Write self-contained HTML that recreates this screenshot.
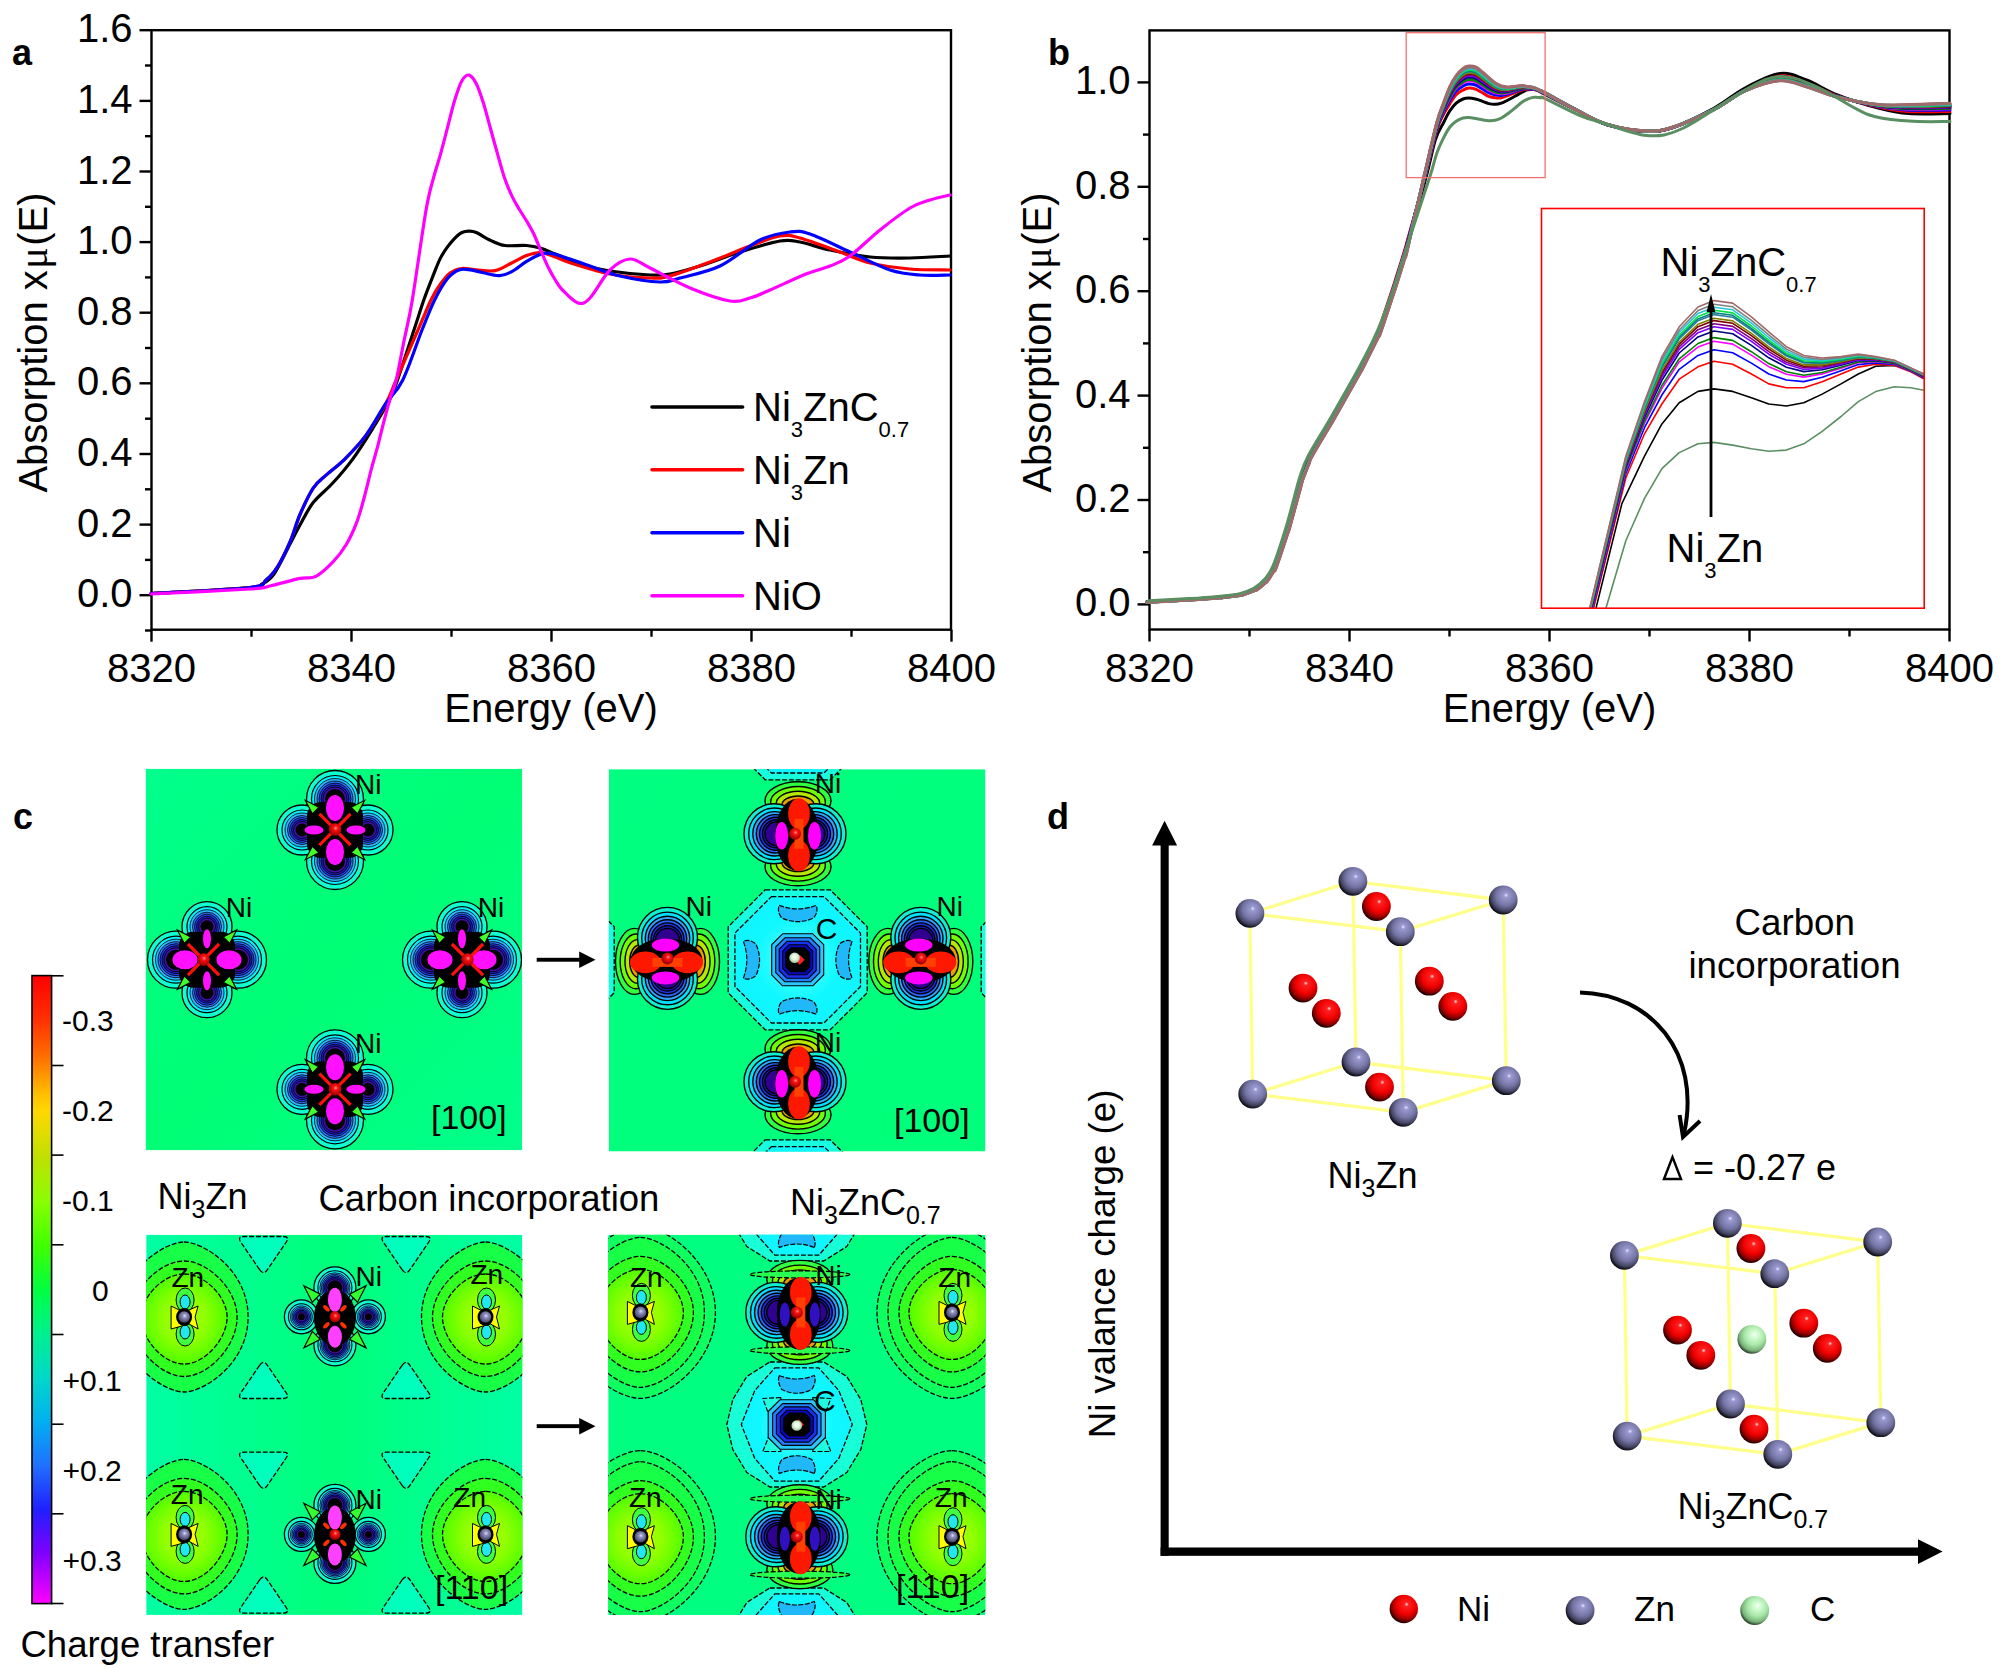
<!DOCTYPE html>
<html><head><meta charset="utf-8"><title>figure</title>
<style>html,body{margin:0;padding:0;background:#fff;overflow:hidden}svg{display:block}</style>
</head><body>
<svg width="2000" height="1669" viewBox="0 0 2000 1669" font-family="Liberation Sans, sans-serif">
<defs>
<radialGradient id="gZn" cx="0.58" cy="0.38" r="0.62" fx="0.6" fy="0.33">
  <stop offset="0" stop-color="#e8e8ff"/>
  <stop offset="0.12" stop-color="#9a9ad0"/>
  <stop offset="0.55" stop-color="#7474a4"/>
  <stop offset="0.82" stop-color="#444462"/>
  <stop offset="1" stop-color="#0c0c14"/>
</radialGradient>
<radialGradient id="gNi" cx="0.58" cy="0.38" r="0.62" fx="0.6" fy="0.33">
  <stop offset="0" stop-color="#ffe0e0"/>
  <stop offset="0.12" stop-color="#ff2020"/>
  <stop offset="0.55" stop-color="#f00000"/>
  <stop offset="0.82" stop-color="#900000"/>
  <stop offset="1" stop-color="#200000"/>
</radialGradient>
<radialGradient id="gC" cx="0.58" cy="0.38" r="0.62" fx="0.6" fy="0.33">
  <stop offset="0" stop-color="#ffffff"/>
  <stop offset="0.15" stop-color="#d8ffd8"/>
  <stop offset="0.55" stop-color="#a8e8a8"/>
  <stop offset="0.85" stop-color="#78b078"/>
  <stop offset="1" stop-color="#304830"/>
</radialGradient>

<linearGradient id="cbar" x1="0" y1="0" x2="0" y2="1">
  <stop offset="0" stop-color="#ff0000"/>
  <stop offset="0.07" stop-color="#ff3000"/>
  <stop offset="0.13" stop-color="#ff7000"/>
  <stop offset="0.19" stop-color="#ffc000"/>
  <stop offset="0.215" stop-color="#ffd800"/>
  <stop offset="0.29" stop-color="#c0e000"/>
  <stop offset="0.36" stop-color="#88ff00"/>
  <stop offset="0.43" stop-color="#40ff00"/>
  <stop offset="0.5" stop-color="#00ff40"/>
  <stop offset="0.57" stop-color="#00f090"/>
  <stop offset="0.64" stop-color="#00d8c8"/>
  <stop offset="0.71" stop-color="#00b0f0"/>
  <stop offset="0.78" stop-color="#2070ff"/>
  <stop offset="0.85" stop-color="#2020ff"/>
  <stop offset="0.92" stop-color="#8000ff"/>
  <stop offset="1" stop-color="#ff00ff"/>
</linearGradient>
<radialGradient id="redsph" cx="0.55" cy="0.4" r="0.6">
  <stop offset="0" stop-color="#ff9090"/>
  <stop offset="0.3" stop-color="#ff1010"/>
  <stop offset="1" stop-color="#900000"/>
</radialGradient>
<radialGradient id="znsph" cx="0.55" cy="0.4" r="0.6">
  <stop offset="0" stop-color="#e0e0ff"/>
  <stop offset="0.3" stop-color="#9090c0"/>
  <stop offset="1" stop-color="#404060"/>
</radialGradient>
<radialGradient id="csph" cx="0.5" cy="0.45" r="0.6">
  <stop offset="0" stop-color="#ffffff"/>
  <stop offset="0.4" stop-color="#e0ffe0"/>
  <stop offset="1" stop-color="#90b090"/>
</radialGradient>
<radialGradient id="znhalo" cx="0.5" cy="0.5" r="0.5">
  <stop offset="0" stop-color="#b0ff00"/>
  <stop offset="0.5" stop-color="#90ff00"/>
  <stop offset="1" stop-color="#50ff00"/>
</radialGradient>
<radialGradient id="chalo" cx="0.5" cy="0.5" r="0.55">
  <stop offset="0" stop-color="#60ffff"/>
  <stop offset="0.6" stop-color="#10f8ff"/>
  <stop offset="1" stop-color="#10f4ff"/>
</radialGradient>
<linearGradient id="bgTL" x1="0" y1="0" x2="1" y2="1">
  <stop offset="0" stop-color="#00ff8c"/>
  <stop offset="0.5" stop-color="#00ff74"/>
  <stop offset="1" stop-color="#00ff8c"/>
</linearGradient>
<linearGradient id="bgTR" x1="0" y1="0" x2="1" y2="1">
  <stop offset="0" stop-color="#00ff80"/>
  <stop offset="1" stop-color="#00ff7a"/>
</linearGradient>
<linearGradient id="bgBL" x1="0" y1="0" x2="1" y2="0">
  <stop offset="0" stop-color="#00ffa4"/>
  <stop offset="0.5" stop-color="#00ff7a"/>
  <stop offset="1" stop-color="#00ffa4"/>
</linearGradient>
<linearGradient id="bgBR" x1="0" y1="0" x2="1" y2="0">
  <stop offset="0" stop-color="#00ff80"/>
  <stop offset="1" stop-color="#00ff80"/>
</linearGradient>
<clipPath id="cTL"><rect x="145.6" y="768.7" width="376.5" height="381.5"/></clipPath>
<clipPath id="cTR"><rect x="608.8" y="769.2" width="376.6" height="382.3"/></clipPath>
<clipPath id="cBL"><rect x="146.2" y="1234.8" width="376.1" height="380.1"/></clipPath>
<clipPath id="cBR"><rect x="608.2" y="1234.8" width="377.2" height="380.2"/></clipPath>
</defs>
<rect width="2000" height="1669" fill="#fff"/>
<rect x="151.5" y="30.2" width="799.5" height="599.5" fill="none" stroke="#000" stroke-width="2.4"/>
<line x1="139.5" y1="595.2" x2="151.5" y2="595.2" stroke="#000" stroke-width="2.4"/>
<line x1="139.5" y1="524.6" x2="151.5" y2="524.6" stroke="#000" stroke-width="2.4"/>
<line x1="139.5" y1="454.0" x2="151.5" y2="454.0" stroke="#000" stroke-width="2.4"/>
<line x1="139.5" y1="383.3" x2="151.5" y2="383.3" stroke="#000" stroke-width="2.4"/>
<line x1="139.5" y1="312.7" x2="151.5" y2="312.7" stroke="#000" stroke-width="2.4"/>
<line x1="139.5" y1="242.1" x2="151.5" y2="242.1" stroke="#000" stroke-width="2.4"/>
<line x1="139.5" y1="171.5" x2="151.5" y2="171.5" stroke="#000" stroke-width="2.4"/>
<line x1="139.5" y1="100.9" x2="151.5" y2="100.9" stroke="#000" stroke-width="2.4"/>
<line x1="139.5" y1="30.2" x2="151.5" y2="30.2" stroke="#000" stroke-width="2.4"/>
<line x1="145.0" y1="630.5" x2="151.5" y2="630.5" stroke="#000" stroke-width="2.4"/>
<line x1="145.0" y1="559.9" x2="151.5" y2="559.9" stroke="#000" stroke-width="2.4"/>
<line x1="145.0" y1="489.3" x2="151.5" y2="489.3" stroke="#000" stroke-width="2.4"/>
<line x1="145.0" y1="418.7" x2="151.5" y2="418.7" stroke="#000" stroke-width="2.4"/>
<line x1="145.0" y1="348.0" x2="151.5" y2="348.0" stroke="#000" stroke-width="2.4"/>
<line x1="145.0" y1="277.4" x2="151.5" y2="277.4" stroke="#000" stroke-width="2.4"/>
<line x1="145.0" y1="206.8" x2="151.5" y2="206.8" stroke="#000" stroke-width="2.4"/>
<line x1="145.0" y1="136.2" x2="151.5" y2="136.2" stroke="#000" stroke-width="2.4"/>
<line x1="145.0" y1="65.5" x2="151.5" y2="65.5" stroke="#000" stroke-width="2.4"/>
<line x1="151.5" y1="629.7" x2="151.5" y2="641.7" stroke="#000" stroke-width="2.4"/>
<line x1="351.5" y1="629.7" x2="351.5" y2="641.7" stroke="#000" stroke-width="2.4"/>
<line x1="551.5" y1="629.7" x2="551.5" y2="641.7" stroke="#000" stroke-width="2.4"/>
<line x1="751.5" y1="629.7" x2="751.5" y2="641.7" stroke="#000" stroke-width="2.4"/>
<line x1="951.5" y1="629.7" x2="951.5" y2="641.7" stroke="#000" stroke-width="2.4"/>
<line x1="251.5" y1="629.7" x2="251.5" y2="636.7" stroke="#000" stroke-width="2.4"/>
<line x1="451.5" y1="629.7" x2="451.5" y2="636.7" stroke="#000" stroke-width="2.4"/>
<line x1="651.5" y1="629.7" x2="651.5" y2="636.7" stroke="#000" stroke-width="2.4"/>
<line x1="851.5" y1="629.7" x2="851.5" y2="636.7" stroke="#000" stroke-width="2.4"/>
<text x="132.5" y="607.2" font-size="40" text-anchor="end">0.0</text>
<text x="132.5" y="536.6" font-size="40" text-anchor="end">0.2</text>
<text x="132.5" y="466.0" font-size="40" text-anchor="end">0.4</text>
<text x="132.5" y="395.3" font-size="40" text-anchor="end">0.6</text>
<text x="132.5" y="324.7" font-size="40" text-anchor="end">0.8</text>
<text x="132.5" y="254.1" font-size="40" text-anchor="end">1.0</text>
<text x="132.5" y="183.5" font-size="40" text-anchor="end">1.2</text>
<text x="132.5" y="112.9" font-size="40" text-anchor="end">1.4</text>
<text x="132.5" y="42.2" font-size="40" text-anchor="end">1.6</text>
<text x="151.5" y="682.0" font-size="40" text-anchor="middle">8320</text>
<text x="351.5" y="682.0" font-size="40" text-anchor="middle">8340</text>
<text x="551.5" y="682.0" font-size="40" text-anchor="middle">8360</text>
<text x="751.5" y="682.0" font-size="40" text-anchor="middle">8380</text>
<text x="951.5" y="682.0" font-size="40" text-anchor="middle">8400</text>
<text x="551" y="721.5" font-size="40" text-anchor="middle">Energy (eV)</text>
<text transform="translate(46.6,342.5) rotate(-90)" font-size="40" text-anchor="middle">Absorption x<tspan dx="1.5" font-family="Liberation Serif, serif">&#956;</tspan><tspan dx="1.5">(E)</tspan></text>
<text x="12" y="64.5" font-size="36" font-weight="bold">a</text>
<path d="M151.0,593.5 C167.5,592.5 231.5,589.1 250.0,587.5 C268.5,585.9 258.0,586.2 262.0,584.0 C266.0,581.8 269.3,580.7 274.0,574.0 C278.7,567.3 285.7,552.2 290.0,544.0 C294.3,535.8 296.1,531.9 300.0,525.0 C303.9,518.1 307.7,509.6 313.2,502.6 C318.7,495.6 326.4,490.1 333.0,482.8 C339.6,475.6 346.1,468.1 352.7,459.1 C359.3,450.1 366.4,438.7 372.5,428.8 C378.6,418.9 385.4,407.9 389.6,399.8 C393.8,391.7 393.4,391.6 397.5,380.0 C401.6,368.4 409.6,343.3 414.0,330.0 C418.4,316.7 420.6,309.1 423.8,300.0 C427.0,290.9 430.4,282.5 433.1,275.6 C435.9,268.7 437.9,263.2 440.3,258.4 C442.7,253.6 445.1,250.2 447.5,246.9 C449.9,243.6 452.3,240.7 454.7,238.3 C457.1,235.9 459.5,233.7 461.9,232.5 C464.3,231.3 466.7,231.1 469.1,231.1 C471.5,231.1 472.7,230.9 476.3,232.5 C479.9,234.1 485.8,238.2 490.6,240.4 C495.4,242.6 499.0,244.7 505.0,245.5 C511.0,246.3 520.6,245.0 526.6,245.5 C532.6,246.0 536.2,246.9 541.0,248.3 C545.8,249.7 548.8,251.5 555.3,254.1 C561.8,256.7 570.9,261.2 580.0,264.0 C589.1,266.8 598.3,269.2 610.0,271.0 C621.7,272.8 640.0,274.5 650.0,275.0 C660.0,275.5 661.7,275.5 670.0,274.0 C678.3,272.5 688.3,269.7 700.0,266.0 C711.7,262.3 726.7,256.2 740.0,252.0 C753.3,247.8 770.0,242.7 780.0,241.0 C790.0,239.3 791.7,240.5 800.0,242.0 C808.3,243.5 818.3,247.5 830.0,250.0 C841.7,252.5 856.7,255.7 870.0,257.0 C883.3,258.3 896.7,258.2 910.0,258.0 C923.3,257.8 943.3,256.3 950.0,256.0" fill="none" stroke="#000000" stroke-width="3.2" stroke-linejoin="round" stroke-linecap="round" />
<path d="M151.0,593.5 C167.5,592.5 230.8,589.8 250.0,587.5 C269.2,585.2 261.3,583.6 266.0,580.0 C270.7,576.4 274.0,572.3 278.0,566.0 C282.0,559.7 286.3,550.6 290.0,542.0 C293.7,533.4 296.1,523.5 300.0,514.5 C303.9,505.5 308.8,494.7 313.2,488.1 C317.6,481.5 321.1,479.7 326.4,474.9 C331.7,470.1 338.2,465.7 344.8,459.1 C351.4,452.5 359.1,444.6 365.9,435.4 C372.7,426.2 380.6,412.9 385.7,403.7 C390.8,394.5 390.8,392.3 396.2,380.0 C401.6,367.7 412.2,343.3 418.0,330.0 C423.8,316.7 427.3,307.6 431.0,300.0 C434.7,292.4 437.1,288.8 440.3,284.3 C443.5,279.8 446.8,275.4 450.4,272.8 C454.0,270.2 457.6,269.0 461.9,268.5 C466.2,268.0 470.8,269.5 476.3,269.9 C481.8,270.2 488.9,271.8 494.9,270.6 C500.9,269.4 506.9,265.2 512.2,262.7 C517.5,260.2 521.8,257.2 526.6,255.5 C531.4,253.8 536.2,252.3 541.0,252.6 C545.8,252.8 550.5,255.3 555.3,257.0 C560.1,258.7 560.9,259.9 570.0,262.7 C579.1,265.5 596.7,271.4 610.0,274.0 C623.3,276.6 640.0,277.7 650.0,278.0 C660.0,278.3 660.0,278.7 670.0,276.0 C680.0,273.3 696.7,267.0 710.0,262.0 C723.3,257.0 738.3,250.3 750.0,246.0 C761.7,241.7 771.7,237.3 780.0,236.0 C788.3,234.7 790.0,235.3 800.0,238.0 C810.0,240.7 828.3,247.8 840.0,252.0 C851.7,256.2 858.3,260.2 870.0,263.0 C881.7,265.8 896.7,267.8 910.0,269.0 C923.3,270.2 943.3,269.8 950.0,270.0" fill="none" stroke="#ff0000" stroke-width="3.2" stroke-linejoin="round" stroke-linecap="round" />
<path d="M151.0,593.5 C167.5,592.5 230.8,589.8 250.0,587.5 C269.2,585.2 261.3,583.6 266.0,580.0 C270.7,576.4 274.0,572.3 278.0,566.0 C282.0,559.7 286.3,550.6 290.0,542.0 C293.7,533.4 296.1,523.5 300.0,514.5 C303.9,505.5 308.8,494.7 313.2,488.1 C317.6,481.5 321.1,479.7 326.4,474.9 C331.7,470.1 338.2,465.7 344.8,459.1 C351.4,452.5 359.1,444.6 365.9,435.4 C372.7,426.2 379.5,412.9 385.7,403.7 C391.9,394.5 396.8,392.3 402.8,380.0 C408.9,367.7 416.7,343.3 422.0,330.0 C427.3,316.7 430.4,308.6 434.6,300.0 C438.9,291.4 443.4,283.5 447.5,278.5 C451.6,273.5 455.2,271.3 459.0,269.9 C462.8,268.5 466.4,269.4 470.5,269.9 C474.6,270.4 478.6,271.9 483.4,272.8 C488.2,273.8 494.5,275.9 499.3,275.6 C504.1,275.4 507.7,273.7 512.2,271.3 C516.8,268.9 521.8,264.2 526.6,261.3 C531.4,258.4 536.9,255.4 541.0,254.1 C545.1,252.8 546.2,252.6 551.0,253.4 C555.8,254.2 563.5,257.0 570.0,259.1 C576.5,261.2 581.7,263.2 590.0,266.0 C598.3,268.8 608.3,273.3 620.0,276.0 C631.7,278.7 650.0,281.7 660.0,282.0 C670.0,282.3 670.0,280.7 680.0,278.0 C690.0,275.3 706.7,272.3 720.0,266.0 C733.3,259.7 748.3,245.7 760.0,240.0 C771.7,234.3 781.7,233.0 790.0,232.0 C798.3,231.0 800.0,230.7 810.0,234.0 C820.0,237.3 836.7,246.0 850.0,252.0 C863.3,258.0 878.3,266.2 890.0,270.0 C901.7,273.8 910.0,274.2 920.0,275.0 C930.0,275.8 945.0,275.0 950.0,275.0" fill="none" stroke="#0000ff" stroke-width="3.2" stroke-linejoin="round" stroke-linecap="round" />
<path d="M151.0,594.0 C167.5,593.2 230.2,590.3 250.0,589.0 C269.8,587.7 261.7,587.8 270.0,586.0 C278.3,584.2 292.4,580.0 300.0,578.4 C307.6,576.8 310.3,579.1 315.8,576.4 C321.3,573.6 327.9,567.2 333.0,561.9 C338.1,556.6 342.2,551.4 346.1,544.8 C350.1,538.2 353.6,530.5 356.7,522.4 C359.8,514.3 362.2,504.8 364.6,496.0 C367.0,487.2 369.0,478.0 371.2,469.6 C373.4,461.2 375.6,454.2 377.8,445.9 C380.0,437.5 382.2,427.9 384.4,419.5 C386.6,411.1 389.0,402.4 391.0,395.8 C393.0,389.2 394.0,389.1 396.2,380.0 C398.4,370.9 401.3,354.3 404.0,341.0 C406.7,327.7 408.7,321.7 412.3,300.0 C415.9,278.3 422.4,231.1 425.9,211.0 C429.4,190.9 430.7,188.7 433.1,179.3 C435.5,170.0 437.9,163.5 440.3,154.9 C442.7,146.3 445.1,136.7 447.5,127.6 C449.9,118.5 452.3,108.1 454.7,100.3 C457.1,92.5 459.5,85.0 461.9,80.8 C464.3,76.6 466.7,74.6 469.1,75.1 C471.5,75.6 473.9,79.0 476.3,83.7 C478.7,88.4 481.0,95.5 483.4,103.1 C485.8,110.6 488.2,120.4 490.6,129.0 C493.0,137.6 495.4,146.5 497.8,154.9 C500.2,163.3 502.6,172.4 505.0,179.3 C507.4,186.2 509.8,191.6 512.2,196.6 C514.6,201.6 517.0,205.4 519.4,209.5 C521.8,213.6 524.2,216.9 526.6,221.0 C529.0,225.1 531.4,229.0 533.8,234.0 C536.2,239.0 538.6,245.7 541.0,251.2 C543.4,256.7 545.7,262.2 548.1,267.0 C550.5,271.8 552.9,276.2 555.3,280.0 C557.7,283.8 558.7,286.2 562.5,290.0 C566.3,293.8 573.4,301.7 578.0,303.0 C582.6,304.3 584.7,303.5 590.0,298.0 C595.3,292.5 603.3,276.5 610.0,270.0 C616.7,263.5 623.3,259.3 630.0,259.0 C636.7,258.7 640.0,263.2 650.0,268.0 C660.0,272.8 676.7,282.5 690.0,288.0 C703.3,293.5 720.0,299.3 730.0,301.0 C740.0,302.7 743.3,299.8 750.0,298.0 C756.7,296.2 760.7,294.0 770.0,290.0 C779.3,286.0 796.0,278.0 806.0,274.0 C816.0,270.0 822.7,269.0 830.0,266.0 C837.3,263.0 841.7,262.0 850.0,256.0 C858.3,250.0 870.0,238.0 880.0,230.0 C890.0,222.0 901.7,213.0 910.0,208.0 C918.3,203.0 923.3,202.2 930.0,200.0 C936.7,197.8 946.7,195.8 950.0,195.0" fill="none" stroke="#ff00ff" stroke-width="3.2" stroke-linejoin="round" stroke-linecap="round" />
<line x1="652" y1="407.0" x2="742.6" y2="407.0" stroke="#000" stroke-width="3.6" stroke-linecap="round"/>
<line x1="652" y1="469.8" x2="742.6" y2="469.8" stroke="#f00" stroke-width="3.6" stroke-linecap="round"/>
<line x1="652" y1="532.8" x2="742.6" y2="532.8" stroke="#00f" stroke-width="3.6" stroke-linecap="round"/>
<line x1="652" y1="595.7" x2="742.6" y2="595.7" stroke="#f0f" stroke-width="3.6" stroke-linecap="round"/>
<text x="753.0" y="421.0" font-size="40" text-anchor="start" ><tspan>Ni</tspan><tspan font-size="22" dy="15.8">3</tspan><tspan dy="-15.8">ZnC</tspan><tspan font-size="22" dy="15.8">0.7</tspan></text>
<text x="753.0" y="484.0" font-size="40" text-anchor="start" ><tspan>Ni</tspan><tspan font-size="22" dy="15.8">3</tspan><tspan dy="-15.8">Zn</tspan></text>
<text x="753" y="547" font-size="40">Ni</text>
<text x="753" y="610" font-size="40">NiO</text>
<rect x="1149.5" y="30.4" width="800.0" height="599.1" fill="none" stroke="#000" stroke-width="2.4"/>
<line x1="1137.5" y1="604.4" x2="1149.5" y2="604.4" stroke="#000" stroke-width="2.4"/>
<line x1="1137.5" y1="500.0" x2="1149.5" y2="500.0" stroke="#000" stroke-width="2.4"/>
<line x1="1137.5" y1="395.6" x2="1149.5" y2="395.6" stroke="#000" stroke-width="2.4"/>
<line x1="1137.5" y1="291.2" x2="1149.5" y2="291.2" stroke="#000" stroke-width="2.4"/>
<line x1="1137.5" y1="186.8" x2="1149.5" y2="186.8" stroke="#000" stroke-width="2.4"/>
<line x1="1137.5" y1="82.4" x2="1149.5" y2="82.4" stroke="#000" stroke-width="2.4"/>
<line x1="1143.0" y1="552.2" x2="1149.5" y2="552.2" stroke="#000" stroke-width="2.4"/>
<line x1="1143.0" y1="447.8" x2="1149.5" y2="447.8" stroke="#000" stroke-width="2.4"/>
<line x1="1143.0" y1="343.4" x2="1149.5" y2="343.4" stroke="#000" stroke-width="2.4"/>
<line x1="1143.0" y1="239.0" x2="1149.5" y2="239.0" stroke="#000" stroke-width="2.4"/>
<line x1="1143.0" y1="134.6" x2="1149.5" y2="134.6" stroke="#000" stroke-width="2.4"/>
<line x1="1149.5" y1="629.5" x2="1149.5" y2="641.5" stroke="#000" stroke-width="2.4"/>
<line x1="1349.5" y1="629.5" x2="1349.5" y2="641.5" stroke="#000" stroke-width="2.4"/>
<line x1="1549.5" y1="629.5" x2="1549.5" y2="641.5" stroke="#000" stroke-width="2.4"/>
<line x1="1749.5" y1="629.5" x2="1749.5" y2="641.5" stroke="#000" stroke-width="2.4"/>
<line x1="1949.5" y1="629.5" x2="1949.5" y2="641.5" stroke="#000" stroke-width="2.4"/>
<line x1="1249.5" y1="629.5" x2="1249.5" y2="636.5" stroke="#000" stroke-width="2.4"/>
<line x1="1449.5" y1="629.5" x2="1449.5" y2="636.5" stroke="#000" stroke-width="2.4"/>
<line x1="1649.5" y1="629.5" x2="1649.5" y2="636.5" stroke="#000" stroke-width="2.4"/>
<line x1="1849.5" y1="629.5" x2="1849.5" y2="636.5" stroke="#000" stroke-width="2.4"/>
<text x="1130.5" y="616.4" font-size="40" text-anchor="end">0.0</text>
<text x="1130.5" y="512.0" font-size="40" text-anchor="end">0.2</text>
<text x="1130.5" y="407.6" font-size="40" text-anchor="end">0.4</text>
<text x="1130.5" y="303.2" font-size="40" text-anchor="end">0.6</text>
<text x="1130.5" y="198.8" font-size="40" text-anchor="end">0.8</text>
<text x="1130.5" y="94.4" font-size="40" text-anchor="end">1.0</text>
<text x="1149.5" y="682.0" font-size="40" text-anchor="middle">8320</text>
<text x="1349.5" y="682.0" font-size="40" text-anchor="middle">8340</text>
<text x="1549.5" y="682.0" font-size="40" text-anchor="middle">8360</text>
<text x="1749.5" y="682.0" font-size="40" text-anchor="middle">8380</text>
<text x="1949.5" y="682.0" font-size="40" text-anchor="middle">8400</text>
<text x="1549.5" y="721.5" font-size="40" text-anchor="middle">Energy (eV)</text>
<text transform="translate(1051,342.5) rotate(-90)" font-size="40" text-anchor="middle">Absorption x<tspan dx="1.5" font-family="Liberation Serif, serif">&#956;</tspan><tspan dx="1.5">(E)</tspan></text>
<text x="1048" y="64.5" font-size="36" font-weight="bold">b</text>
<path d="M1150.8,601.4 C1157.5,601.0 1179.1,599.9 1190.8,599.2 C1202.5,598.5 1212.5,597.8 1220.8,597.0 C1229.1,596.2 1235.0,595.8 1240.8,594.5 C1246.6,593.2 1251.6,591.4 1255.8,589.0 C1260.0,586.6 1262.9,584.1 1266.1,580.4 C1269.3,576.7 1271.1,575.9 1274.8,567.0 C1278.5,558.1 1283.8,541.8 1288.3,527.0 C1292.8,512.2 1297.9,490.2 1301.6,478.4 C1305.3,466.6 1305.2,466.0 1310.4,456.0 C1315.6,446.0 1324.1,433.2 1332.6,418.5 C1341.1,403.8 1353.6,381.9 1361.4,367.5 C1369.2,353.1 1373.7,345.7 1379.2,332.0 C1384.8,318.3 1390.3,299.2 1394.7,285.5 C1399.1,271.8 1400.6,268.0 1405.8,250.0 C1411.0,232.0 1421.1,196.0 1426.0,177.6 C1430.9,159.2 1432.5,148.9 1435.4,139.7 C1438.3,130.5 1441.2,127.3 1443.6,122.5 C1446.0,117.7 1447.8,114.0 1449.9,110.8 C1452.0,107.6 1454.0,105.1 1456.2,103.1 C1458.4,101.1 1460.9,99.8 1463.0,99.0 C1465.1,98.2 1466.7,98.1 1468.8,98.1 C1470.9,98.1 1473.3,98.5 1475.6,99.0 C1477.9,99.5 1480.2,100.5 1482.4,101.3 C1484.6,102.1 1486.6,103.1 1488.7,103.6 C1490.8,104.1 1493.0,104.4 1495.1,104.3 C1497.2,104.2 1499.2,103.8 1501.4,103.1 C1503.6,102.4 1505.8,101.1 1508.1,100.0 C1510.3,98.9 1512.7,97.5 1514.9,96.3 C1517.1,95.1 1519.1,93.8 1521.2,92.7 C1523.3,91.6 1525.3,90.4 1527.5,89.9 C1529.7,89.4 1532.2,89.4 1534.3,89.6 C1536.4,89.8 1538.4,90.4 1540.2,90.9 C1542.0,91.4 1538.4,89.2 1545.0,92.7 C1551.6,96.2 1569.5,106.2 1580.0,111.6 C1590.5,117.0 1596.6,121.8 1607.7,125.0 C1618.8,128.2 1635.7,130.7 1646.6,131.0 C1657.5,131.3 1662.0,130.8 1673.3,127.0 C1684.6,123.2 1702.3,114.5 1714.3,108.0 C1726.2,101.5 1734.1,93.7 1745.0,88.0 C1755.9,82.3 1769.7,74.9 1779.9,73.6 C1790.2,72.3 1796.9,76.4 1806.5,80.0 C1816.1,83.6 1825.3,90.3 1837.3,95.0 C1849.3,99.7 1866.3,104.9 1878.3,108.0 C1890.2,111.1 1897.0,112.7 1909.0,113.6 C1921.0,114.5 1943.2,113.6 1950.0,113.6" fill="none" stroke="#000000" stroke-width="3.0" stroke-linejoin="round" stroke-linecap="round" />
<path d="M1149.7,601.4 C1149.8,601.4 1143.3,601.8 1150.0,601.4 C1156.7,601.0 1182.7,599.6 1189.7,599.2 C1196.7,598.8 1186.8,599.4 1191.8,599.0 C1196.8,598.7 1214.6,597.4 1219.7,597.0 C1224.8,596.6 1218.9,597.1 1222.2,596.7 C1225.5,596.3 1236.4,595.0 1239.7,594.5 C1243.0,594.0 1239.7,594.5 1242.2,593.6 C1244.7,592.7 1252.2,590.1 1254.7,589.0 C1257.2,587.9 1255.5,588.3 1257.2,586.9 C1258.9,585.5 1263.3,582.1 1265.0,580.4 C1266.7,578.7 1266.0,578.8 1267.5,576.5 C1269.0,574.3 1272.2,569.8 1273.7,567.0 C1275.2,564.2 1274.0,566.3 1276.2,559.6 C1278.5,552.9 1285.0,534.0 1287.2,527.0 C1289.5,520.0 1287.5,526.0 1289.7,517.9 C1291.9,509.8 1298.3,486.0 1300.5,478.4 C1302.7,470.8 1301.5,475.8 1303.0,472.0 C1304.5,468.3 1307.8,459.4 1309.3,456.0 C1310.8,452.6 1308.1,458.0 1311.8,451.8 C1315.5,445.5 1327.8,424.8 1331.5,418.5 C1335.2,412.2 1329.2,422.6 1334.0,414.1 C1338.8,405.6 1355.5,376.1 1360.3,367.5 C1365.1,358.9 1359.8,368.4 1362.8,362.5 C1365.8,356.6 1375.1,338.3 1378.1,332.0 C1381.1,325.7 1378.0,332.2 1380.6,324.5 C1383.2,316.8 1391.0,293.3 1393.6,285.5 C1396.2,277.7 1394.3,283.4 1396.1,277.5 C1398.0,271.6 1402.9,256.1 1404.7,250.0 C1406.5,243.9 1404.0,252.4 1407.2,241.1 C1410.4,229.9 1420.7,193.2 1423.7,182.6 C1426.7,172.0 1422.9,186.3 1425.1,177.6 C1427.3,168.9 1433.7,140.9 1436.8,130.4 C1439.9,119.9 1441.4,118.9 1443.6,114.4 C1445.8,109.9 1447.8,106.9 1449.9,103.6 C1452.0,100.3 1454.0,96.8 1456.2,94.6 C1458.4,92.3 1460.9,91.2 1463.0,90.1 C1465.1,89.0 1466.7,88.2 1468.8,88.1 C1470.9,87.9 1473.3,88.4 1475.6,89.2 C1477.9,90.0 1480.2,91.5 1482.4,92.7 C1484.6,93.9 1486.6,95.5 1488.7,96.3 C1490.8,97.1 1493.0,97.5 1495.1,97.7 C1497.2,97.9 1499.2,98.1 1501.4,97.7 C1503.6,97.3 1505.8,96.3 1508.1,95.5 C1510.3,94.7 1512.7,93.6 1514.9,92.7 C1517.1,91.8 1519.1,90.8 1521.2,90.2 C1523.3,89.6 1525.3,89.3 1527.5,89.2 C1529.7,89.1 1532.2,89.1 1534.3,89.6 C1536.4,90.0 1538.4,91.1 1540.2,91.9 C1542.0,92.7 1538.4,91.2 1545.0,94.5 C1551.6,97.8 1569.5,106.9 1580.0,112.0 C1590.5,117.1 1596.6,121.8 1607.7,125.0 C1618.8,128.2 1635.7,131.1 1646.6,131.5 C1657.5,131.9 1662.0,131.2 1673.3,127.5 C1684.6,123.8 1702.3,115.2 1714.3,109.0 C1726.2,102.8 1734.1,95.5 1745.0,90.0 C1755.9,84.5 1769.7,77.2 1779.9,76.0 C1790.2,74.8 1796.9,79.7 1806.5,83.0 C1816.1,86.3 1825.3,92.0 1837.3,96.0 C1849.3,100.0 1866.3,104.4 1878.3,107.0 C1890.2,109.6 1897.0,110.8 1909.0,111.5 C1921.0,112.2 1943.2,111.5 1950.0,111.5" fill="none" stroke="#ff0000" stroke-width="3.0" stroke-linejoin="round" stroke-linecap="round" />
<path d="M1149.7,601.6 C1149.8,601.5 1143.3,601.9 1150.0,601.5 C1156.7,601.2 1182.7,599.8 1189.7,599.4 C1196.7,599.0 1186.8,599.6 1191.8,599.2 C1196.8,598.9 1214.6,597.6 1219.7,597.2 C1224.8,596.8 1218.9,597.3 1222.2,596.9 C1225.5,596.5 1236.4,595.2 1239.7,594.7 C1243.0,594.2 1239.7,594.8 1242.2,593.9 C1244.7,593.0 1252.2,590.4 1254.7,589.3 C1257.2,588.3 1255.5,588.9 1257.2,587.5 C1258.9,586.1 1263.3,582.6 1265.0,580.9 C1266.7,579.3 1266.0,579.6 1267.5,577.4 C1269.0,575.3 1272.2,570.6 1273.7,567.9 C1275.2,565.2 1274.0,567.7 1276.2,561.2 C1278.5,554.6 1285.0,535.5 1287.2,528.6 C1289.5,521.7 1287.5,527.8 1289.7,519.8 C1291.9,511.7 1298.3,488.0 1300.5,480.3 C1302.7,472.6 1301.5,477.2 1303.0,473.4 C1304.5,469.6 1307.8,460.8 1309.3,457.4 C1310.8,453.9 1308.1,459.0 1311.8,452.7 C1315.5,446.4 1327.8,425.7 1331.5,419.5 C1335.2,413.2 1329.2,423.6 1334.0,415.1 C1338.8,406.6 1355.5,377.1 1360.3,368.5 C1365.1,359.9 1359.8,369.5 1362.8,363.6 C1365.8,357.7 1375.1,339.4 1378.1,333.1 C1381.1,326.8 1378.0,333.7 1380.6,326.1 C1383.2,318.4 1391.0,294.9 1393.6,287.1 C1396.2,279.3 1394.3,285.1 1396.1,279.2 C1398.0,273.3 1402.9,257.7 1404.7,251.7 C1406.5,245.6 1404.0,254.6 1407.2,243.0 C1410.4,231.3 1420.7,192.7 1423.7,181.6 C1426.7,170.5 1422.9,185.3 1425.1,176.5 C1427.3,167.7 1433.7,139.6 1436.8,128.9 C1439.9,118.2 1441.4,116.9 1443.6,112.2 C1445.8,107.4 1447.8,103.9 1449.9,100.3 C1452.0,96.8 1454.0,93.4 1456.2,91.0 C1458.4,88.6 1460.9,87.2 1463.0,86.0 C1465.1,84.8 1466.7,84.1 1468.8,83.9 C1470.9,83.8 1473.3,84.2 1475.6,85.0 C1477.9,85.8 1480.2,87.5 1482.4,88.8 C1484.6,90.1 1486.6,91.7 1488.7,92.7 C1490.8,93.7 1493.0,94.4 1495.1,94.9 C1497.2,95.3 1499.2,95.6 1501.4,95.5 C1503.6,95.3 1505.8,94.5 1508.1,93.9 C1510.3,93.2 1512.7,92.3 1514.9,91.5 C1517.1,90.7 1519.1,89.8 1521.2,89.3 C1523.3,88.8 1525.3,88.7 1527.5,88.7 C1529.7,88.7 1532.2,88.7 1534.3,89.2 C1536.4,89.7 1538.4,90.8 1540.2,91.6 C1542.0,92.5 1538.4,90.8 1545.0,94.2 C1551.6,97.6 1569.5,106.9 1580.0,112.0 C1590.5,117.1 1596.6,121.7 1607.7,124.9 C1618.8,128.1 1635.7,131.0 1646.6,131.4 C1657.5,131.8 1662.0,131.1 1673.3,127.4 C1684.6,123.7 1702.3,115.3 1714.3,109.1 C1726.2,102.9 1734.1,95.6 1745.0,90.2 C1755.9,84.8 1769.7,78.0 1779.9,76.9 C1790.2,75.8 1796.9,80.5 1806.5,83.7 C1816.1,87.0 1825.3,92.4 1837.3,96.2 C1849.3,100.0 1866.3,104.2 1878.3,106.5 C1890.2,108.8 1897.0,109.6 1909.0,110.2 C1921.0,110.7 1943.2,110.0 1950.0,109.9" fill="none" stroke="#0000ff" stroke-width="3.0" stroke-linejoin="round" stroke-linecap="round" />
<path d="M1149.7,601.7 C1149.8,601.7 1143.3,602.0 1150.0,601.7 C1156.7,601.3 1182.7,599.9 1189.7,599.5 C1196.7,599.1 1186.8,599.7 1191.8,599.4 C1196.8,599.0 1214.6,597.7 1219.7,597.3 C1224.8,596.9 1218.9,597.5 1222.2,597.1 C1225.5,596.6 1236.4,595.4 1239.7,594.9 C1243.0,594.4 1239.7,595.0 1242.2,594.1 C1244.7,593.3 1252.2,590.6 1254.7,589.6 C1257.2,588.5 1255.5,589.2 1257.2,587.9 C1258.9,586.5 1263.3,583.0 1265.0,581.4 C1266.7,579.7 1266.0,580.2 1267.5,578.1 C1269.0,575.9 1272.2,571.2 1273.7,568.5 C1275.2,565.9 1274.0,568.8 1276.2,562.3 C1278.5,555.8 1285.0,536.6 1287.2,529.7 C1289.5,522.8 1287.5,529.1 1289.7,521.1 C1291.9,513.1 1298.3,489.5 1300.5,481.7 C1302.7,473.9 1301.5,478.3 1303.0,474.4 C1304.5,470.5 1307.8,461.9 1309.3,458.4 C1310.8,454.9 1308.1,459.8 1311.8,453.4 C1315.5,447.1 1327.8,426.4 1331.5,420.2 C1335.2,413.9 1329.2,424.3 1334.0,415.8 C1338.8,407.3 1355.5,377.8 1360.3,369.2 C1365.1,360.7 1359.8,370.3 1362.8,364.4 C1365.8,358.5 1375.1,340.1 1378.1,333.9 C1381.1,327.7 1378.0,334.9 1380.6,327.2 C1383.2,319.6 1391.0,296.0 1393.6,288.2 C1396.2,280.4 1394.3,286.3 1396.1,280.4 C1398.0,274.5 1402.9,258.9 1404.7,252.9 C1406.5,246.9 1404.0,256.3 1407.2,244.3 C1410.4,232.3 1420.7,192.4 1423.7,180.9 C1426.7,169.5 1422.9,184.5 1425.1,175.7 C1427.3,166.8 1433.7,138.6 1436.8,127.8 C1439.9,116.9 1441.4,115.5 1443.6,110.5 C1445.8,105.6 1447.8,101.6 1449.9,97.9 C1452.0,94.2 1454.0,90.8 1456.2,88.3 C1458.4,85.8 1460.9,84.2 1463.0,82.9 C1465.1,81.7 1466.7,81.0 1468.8,80.8 C1470.9,80.7 1473.3,81.0 1475.6,81.9 C1477.9,82.7 1480.2,84.5 1482.4,85.9 C1484.6,87.2 1486.6,88.9 1488.7,90.1 C1490.8,91.2 1493.0,92.2 1495.1,92.8 C1497.2,93.4 1499.2,93.9 1501.4,93.8 C1503.6,93.8 1505.8,93.2 1508.1,92.7 C1510.3,92.1 1512.7,91.3 1514.9,90.6 C1517.1,90.0 1519.1,89.0 1521.2,88.6 C1523.3,88.3 1525.3,88.2 1527.5,88.3 C1529.7,88.3 1532.2,88.4 1534.3,89.0 C1536.4,89.5 1538.4,90.6 1540.2,91.4 C1542.0,92.3 1538.4,90.5 1545.0,93.9 C1551.6,97.3 1569.5,106.8 1580.0,112.0 C1590.5,117.2 1596.6,121.6 1607.7,124.8 C1618.8,128.1 1635.7,130.9 1646.6,131.3 C1657.5,131.8 1662.0,131.0 1673.3,127.3 C1684.6,123.6 1702.3,115.3 1714.3,109.2 C1726.2,103.0 1734.1,95.6 1745.0,90.3 C1755.9,85.1 1769.7,78.6 1779.9,77.6 C1790.2,76.6 1796.9,81.2 1806.5,84.3 C1816.1,87.4 1825.3,92.7 1837.3,96.4 C1849.3,100.0 1866.3,104.0 1878.3,106.2 C1890.2,108.3 1897.0,108.8 1909.0,109.2 C1921.0,109.6 1943.2,108.8 1950.0,108.8" fill="none" stroke="#ff00ff" stroke-width="3.0" stroke-linejoin="round" stroke-linecap="round" />
<path d="M1149.7,601.7 C1149.8,601.7 1143.3,602.1 1150.0,601.7 C1156.7,601.3 1182.7,599.9 1189.7,599.6 C1196.7,599.2 1186.8,599.8 1191.8,599.4 C1196.8,599.1 1214.6,597.8 1219.7,597.4 C1224.8,597.0 1218.9,597.5 1222.2,597.1 C1225.5,596.7 1236.4,595.4 1239.7,594.9 C1243.0,594.5 1239.7,595.1 1242.2,594.3 C1244.7,593.4 1252.2,590.7 1254.7,589.7 C1257.2,588.6 1255.5,589.4 1257.2,588.0 C1258.9,586.7 1263.3,583.1 1265.0,581.5 C1266.7,579.9 1266.0,580.5 1267.5,578.4 C1269.0,576.2 1272.2,571.4 1273.7,568.8 C1275.2,566.2 1274.0,569.2 1276.2,562.8 C1278.5,556.4 1285.0,537.0 1287.2,530.2 C1289.5,523.4 1287.5,529.7 1289.7,521.7 C1291.9,513.8 1298.3,490.1 1300.5,482.3 C1302.7,474.5 1301.5,478.7 1303.0,474.8 C1304.5,470.9 1307.8,462.3 1309.3,458.8 C1310.8,455.3 1308.1,460.1 1311.8,453.7 C1315.5,447.3 1327.8,426.7 1331.5,420.5 C1335.2,414.2 1329.2,424.6 1334.0,416.1 C1338.8,407.6 1355.5,378.1 1360.3,369.5 C1365.1,361.0 1359.8,370.7 1362.8,364.8 C1365.8,358.9 1375.1,340.4 1378.1,334.3 C1381.1,328.1 1378.0,335.3 1380.6,327.7 C1383.2,320.2 1391.0,296.5 1393.6,288.7 C1396.2,280.9 1394.3,286.8 1396.1,280.9 C1398.0,275.1 1402.9,259.4 1404.7,253.4 C1406.5,247.4 1404.0,257.0 1407.2,244.9 C1410.4,232.8 1420.7,192.2 1423.7,180.6 C1426.7,169.0 1422.9,184.2 1425.1,175.3 C1427.3,166.4 1433.7,138.2 1436.8,127.3 C1439.9,116.4 1441.4,114.9 1443.6,109.8 C1445.8,104.8 1447.8,100.7 1449.9,96.9 C1452.0,93.1 1454.0,89.7 1456.2,87.2 C1458.4,84.6 1460.9,82.9 1463.0,81.6 C1465.1,80.4 1466.7,79.7 1468.8,79.5 C1470.9,79.3 1473.3,79.7 1475.6,80.5 C1477.9,81.4 1480.2,83.2 1482.4,84.6 C1484.6,86.0 1486.6,87.7 1488.7,88.9 C1490.8,90.1 1493.0,91.2 1495.1,91.9 C1497.2,92.6 1499.2,93.1 1501.4,93.1 C1503.6,93.2 1505.8,92.6 1508.1,92.1 C1510.3,91.7 1512.7,90.9 1514.9,90.2 C1517.1,89.6 1519.1,88.7 1521.2,88.4 C1523.3,88.0 1525.3,88.0 1527.5,88.1 C1529.7,88.2 1532.2,88.3 1534.3,88.9 C1536.4,89.4 1538.4,90.5 1540.2,91.4 C1542.0,92.2 1538.4,90.4 1545.0,93.8 C1551.6,97.2 1569.5,106.8 1580.0,112.0 C1590.5,117.2 1596.6,121.6 1607.7,124.8 C1618.8,128.0 1635.7,130.9 1646.6,131.3 C1657.5,131.7 1662.0,131.0 1673.3,127.3 C1684.6,123.6 1702.3,115.3 1714.3,109.2 C1726.2,103.0 1734.1,95.6 1745.0,90.4 C1755.9,85.2 1769.7,78.9 1779.9,77.9 C1790.2,76.9 1796.9,81.4 1806.5,84.5 C1816.1,87.6 1825.3,92.9 1837.3,96.5 C1849.3,100.1 1866.3,104.0 1878.3,106.0 C1890.2,108.1 1897.0,108.4 1909.0,108.8 C1921.0,109.1 1943.2,108.3 1950.0,108.3" fill="none" stroke="#008000" stroke-width="3.0" stroke-linejoin="round" stroke-linecap="round" />
<path d="M1149.7,601.8 C1149.8,601.8 1143.3,602.1 1150.0,601.8 C1156.7,601.4 1182.7,600.0 1189.7,599.7 C1196.7,599.3 1186.8,599.9 1191.8,599.5 C1196.8,599.2 1214.6,597.9 1219.7,597.5 C1224.8,597.1 1218.9,597.6 1222.2,597.2 C1225.5,596.8 1236.4,595.5 1239.7,595.1 C1243.0,594.6 1239.7,595.3 1242.2,594.4 C1244.7,593.6 1252.2,590.9 1254.7,589.9 C1257.2,588.8 1255.5,589.7 1257.2,588.4 C1258.9,587.0 1263.3,583.4 1265.0,581.8 C1266.7,580.3 1266.0,581.0 1267.5,578.9 C1269.0,576.8 1272.2,571.9 1273.7,569.3 C1275.2,566.8 1274.0,570.1 1276.2,563.7 C1278.5,557.3 1285.0,537.9 1287.2,531.1 C1289.5,524.3 1287.5,530.8 1289.7,522.8 C1291.9,514.9 1298.3,491.2 1300.5,483.4 C1302.7,475.5 1301.5,479.6 1303.0,475.6 C1304.5,471.7 1307.8,463.1 1309.3,459.6 C1310.8,456.0 1308.1,460.7 1311.8,454.3 C1315.5,447.9 1327.8,427.3 1331.5,421.0 C1335.2,414.7 1329.2,425.2 1334.0,416.7 C1338.8,408.2 1355.5,378.7 1360.3,370.1 C1365.1,361.6 1359.8,371.3 1362.8,365.4 C1365.8,359.5 1375.1,341.0 1378.1,334.9 C1381.1,328.8 1378.0,336.2 1380.6,328.6 C1383.2,321.1 1391.0,297.4 1393.6,289.6 C1396.2,281.9 1394.3,287.8 1396.1,281.9 C1398.0,276.0 1402.9,260.4 1404.7,254.4 C1406.5,248.4 1404.0,258.3 1407.2,246.0 C1410.4,233.6 1420.7,192.0 1423.7,180.1 C1426.7,168.2 1422.9,183.6 1425.1,174.7 C1427.3,165.7 1433.7,137.5 1436.8,126.5 C1439.9,115.4 1441.4,113.8 1443.6,108.6 C1445.8,103.3 1447.8,98.9 1449.9,95.0 C1452.0,91.1 1454.0,87.7 1456.2,85.1 C1458.4,82.5 1460.9,80.6 1463.0,79.2 C1465.1,77.9 1466.7,77.3 1468.8,77.1 C1470.9,76.9 1473.3,77.2 1475.6,78.1 C1477.9,79.0 1480.2,80.9 1482.4,82.3 C1484.6,83.8 1486.6,85.5 1488.7,86.8 C1490.8,88.2 1493.0,89.4 1495.1,90.2 C1497.2,91.1 1499.2,91.7 1501.4,91.8 C1503.6,92.0 1505.8,91.6 1508.1,91.2 C1510.3,90.8 1512.7,90.1 1514.9,89.6 C1517.1,89.0 1519.1,88.1 1521.2,87.8 C1523.3,87.6 1525.3,87.7 1527.5,87.8 C1529.7,87.9 1532.2,88.1 1534.3,88.7 C1536.4,89.2 1538.4,90.4 1540.2,91.2 C1542.0,92.0 1538.4,90.1 1545.0,93.6 C1551.6,97.1 1569.5,106.8 1580.0,112.0 C1590.5,117.2 1596.6,121.5 1607.7,124.8 C1618.8,128.0 1635.7,130.8 1646.6,131.2 C1657.5,131.7 1662.0,130.9 1673.3,127.2 C1684.6,123.6 1702.3,115.4 1714.3,109.2 C1726.2,103.1 1734.1,95.6 1745.0,90.5 C1755.9,85.4 1769.7,79.3 1779.9,78.4 C1790.2,77.5 1796.9,81.9 1806.5,85.0 C1816.1,88.0 1825.3,93.1 1837.3,96.6 C1849.3,100.1 1866.3,103.8 1878.3,105.8 C1890.2,107.7 1897.0,107.7 1909.0,108.0 C1921.0,108.3 1943.2,107.5 1950.0,107.3" fill="none" stroke="#000080" stroke-width="3.0" stroke-linejoin="round" stroke-linecap="round" />
<path d="M1149.7,601.9 C1149.8,601.9 1143.3,602.2 1150.0,601.8 C1156.7,601.5 1182.7,600.1 1189.7,599.7 C1196.7,599.3 1186.8,600.0 1191.8,599.6 C1196.8,599.2 1214.6,597.9 1219.7,597.6 C1224.8,597.2 1218.9,597.7 1222.2,597.3 C1225.5,596.9 1236.4,595.6 1239.7,595.1 C1243.0,594.7 1239.7,595.4 1242.2,594.6 C1244.7,593.7 1252.2,591.0 1254.7,590.0 C1257.2,589.0 1255.5,589.9 1257.2,588.6 C1258.9,587.2 1263.3,583.6 1265.0,582.0 C1266.7,580.5 1266.0,581.3 1267.5,579.2 C1269.0,577.1 1272.2,572.1 1273.7,569.7 C1275.2,567.2 1274.0,570.6 1276.2,564.3 C1278.5,557.9 1285.0,538.5 1287.2,531.7 C1289.5,524.9 1287.5,531.5 1289.7,523.5 C1291.9,515.6 1298.3,492.0 1300.5,484.1 C1302.7,476.2 1301.5,480.1 1303.0,476.1 C1304.5,472.1 1307.8,463.7 1309.3,460.1 C1310.8,456.5 1308.1,461.1 1311.8,454.6 C1315.5,448.2 1327.8,427.6 1331.5,421.4 C1335.2,415.1 1329.2,425.5 1334.0,417.1 C1338.8,408.6 1355.5,379.0 1360.3,370.5 C1365.1,361.9 1359.8,371.7 1362.8,365.8 C1365.8,359.9 1375.1,341.4 1378.1,335.3 C1381.1,329.2 1378.0,336.7 1380.6,329.2 C1383.2,321.7 1391.0,298.0 1393.6,290.2 C1396.2,282.4 1394.3,288.4 1396.1,282.5 C1398.0,276.6 1402.9,261.0 1404.7,255.0 C1406.5,249.0 1404.0,259.2 1407.2,246.6 C1410.4,234.1 1420.7,191.8 1423.7,179.7 C1426.7,167.7 1422.9,183.2 1425.1,174.2 C1427.3,165.3 1433.7,137.0 1436.8,125.9 C1439.9,114.8 1441.4,113.1 1443.6,107.7 C1445.8,102.4 1447.8,97.8 1449.9,93.8 C1452.0,89.8 1454.0,86.4 1456.2,83.8 C1458.4,81.1 1460.9,79.1 1463.0,77.7 C1465.1,76.4 1466.7,75.8 1468.8,75.6 C1470.9,75.4 1473.3,75.7 1475.6,76.5 C1477.9,77.4 1480.2,79.4 1482.4,80.9 C1484.6,82.4 1486.6,84.1 1488.7,85.5 C1490.8,86.9 1493.0,88.3 1495.1,89.2 C1497.2,90.1 1499.2,90.8 1501.4,91.0 C1503.6,91.3 1505.8,90.9 1508.1,90.6 C1510.3,90.3 1512.7,89.6 1514.9,89.1 C1517.1,88.6 1519.1,87.8 1521.2,87.5 C1523.3,87.3 1525.3,87.4 1527.5,87.6 C1529.7,87.8 1532.2,87.9 1534.3,88.5 C1536.4,89.1 1538.4,90.3 1540.2,91.1 C1542.0,91.9 1538.4,90.0 1545.0,93.5 C1551.6,97.0 1569.5,106.8 1580.0,112.0 C1590.5,117.2 1596.6,121.5 1607.7,124.7 C1618.8,127.9 1635.7,130.8 1646.6,131.2 C1657.5,131.6 1662.0,130.9 1673.3,127.2 C1684.6,123.6 1702.3,115.4 1714.3,109.3 C1726.2,103.2 1734.1,95.7 1745.0,90.6 C1755.9,85.5 1769.7,79.6 1779.9,78.7 C1790.2,77.8 1796.9,82.2 1806.5,85.2 C1816.1,88.2 1825.3,93.3 1837.3,96.7 C1849.3,100.1 1866.3,103.8 1878.3,105.6 C1890.2,107.4 1897.0,107.3 1909.0,107.5 C1921.0,107.7 1943.2,106.9 1950.0,106.8" fill="none" stroke="#8000ff" stroke-width="3.0" stroke-linejoin="round" stroke-linecap="round" />
<path d="M1149.7,601.9 C1149.8,601.9 1143.3,602.2 1150.0,601.9 C1156.7,601.5 1182.7,600.1 1189.7,599.8 C1196.7,599.4 1186.8,600.0 1191.8,599.6 C1196.8,599.3 1214.6,598.0 1219.7,597.6 C1224.8,597.2 1218.9,597.8 1222.2,597.4 C1225.5,597.0 1236.4,595.6 1239.7,595.2 C1243.0,594.7 1239.7,595.5 1242.2,594.6 C1244.7,593.8 1252.2,591.1 1254.7,590.1 C1257.2,589.1 1255.5,590.0 1257.2,588.7 C1258.9,587.4 1263.3,583.7 1265.0,582.2 C1266.7,580.6 1266.0,581.5 1267.5,579.4 C1269.0,577.4 1272.2,572.3 1273.7,569.9 C1275.2,567.4 1274.0,571.0 1276.2,564.7 C1278.5,558.4 1285.0,538.9 1287.2,532.1 C1289.5,525.3 1287.5,531.9 1289.7,524.0 C1291.9,516.1 1298.3,492.5 1300.5,484.6 C1302.7,476.6 1301.5,480.5 1303.0,476.5 C1304.5,472.5 1307.8,464.0 1309.3,460.4 C1310.8,456.8 1308.1,461.4 1311.8,454.9 C1315.5,448.4 1327.8,427.9 1331.5,421.6 C1335.2,415.4 1329.2,425.8 1334.0,417.3 C1338.8,408.8 1355.5,379.3 1360.3,370.7 C1365.1,362.2 1359.8,372.0 1362.8,366.1 C1365.8,360.2 1375.1,341.7 1378.1,335.6 C1381.1,329.5 1378.0,337.1 1380.6,329.6 C1383.2,322.2 1391.0,298.4 1393.6,290.6 C1396.2,282.9 1394.3,288.8 1396.1,283.0 C1398.0,277.1 1402.9,261.4 1404.7,255.5 C1406.5,249.5 1404.0,259.8 1407.2,247.1 C1410.4,234.5 1420.7,191.7 1423.7,179.5 C1426.7,167.3 1422.9,182.9 1425.1,173.9 C1427.3,165.0 1433.7,136.6 1436.8,125.5 C1439.9,114.4 1441.4,112.6 1443.6,107.1 C1445.8,101.7 1447.8,97.0 1449.9,92.9 C1452.0,88.9 1454.0,85.5 1456.2,82.8 C1458.4,80.1 1460.9,78.0 1463.0,76.6 C1465.1,75.3 1466.7,74.7 1468.8,74.5 C1470.9,74.3 1473.3,74.5 1475.6,75.4 C1477.9,76.3 1480.2,78.3 1482.4,79.9 C1484.6,81.4 1486.6,83.1 1488.7,84.6 C1490.8,86.0 1493.0,87.5 1495.1,88.5 C1497.2,89.4 1499.2,90.2 1501.4,90.4 C1503.6,90.7 1505.8,90.4 1508.1,90.2 C1510.3,89.9 1512.7,89.3 1514.9,88.8 C1517.1,88.3 1519.1,87.5 1521.2,87.3 C1523.3,87.1 1525.3,87.3 1527.5,87.5 C1529.7,87.7 1532.2,87.8 1534.3,88.4 C1536.4,89.0 1538.4,90.2 1540.2,91.0 C1542.0,91.9 1538.4,89.9 1545.0,93.4 C1551.6,96.9 1569.5,106.8 1580.0,112.0 C1590.5,117.2 1596.6,121.5 1607.7,124.7 C1618.8,127.9 1635.7,130.8 1646.6,131.2 C1657.5,131.6 1662.0,130.8 1673.3,127.2 C1684.6,123.5 1702.3,115.4 1714.3,109.3 C1726.2,103.2 1734.1,95.7 1745.0,90.6 C1755.9,85.6 1769.7,79.8 1779.9,79.0 C1790.2,78.1 1796.9,82.5 1806.5,85.4 C1816.1,88.4 1825.3,93.4 1837.3,96.7 C1849.3,100.1 1866.3,103.7 1878.3,105.5 C1890.2,107.2 1897.0,107.0 1909.0,107.2 C1921.0,107.3 1943.2,106.5 1950.0,106.4" fill="none" stroke="#800080" stroke-width="3.0" stroke-linejoin="round" stroke-linecap="round" />
<path d="M1149.7,601.9 C1149.8,601.9 1143.3,602.3 1150.0,601.9 C1156.7,601.6 1182.7,600.2 1189.7,599.8 C1196.7,599.4 1186.8,600.0 1191.8,599.7 C1196.8,599.3 1214.6,598.0 1219.7,597.7 C1224.8,597.3 1218.9,597.8 1222.2,597.4 C1225.5,597.0 1236.4,595.7 1239.7,595.2 C1243.0,594.8 1239.7,595.6 1242.2,594.7 C1244.7,593.9 1252.2,591.1 1254.7,590.2 C1257.2,589.2 1255.5,590.1 1257.2,588.8 C1258.9,587.5 1263.3,583.9 1265.0,582.3 C1266.7,580.8 1266.0,581.7 1267.5,579.7 C1269.0,577.6 1272.2,572.5 1273.7,570.1 C1275.2,567.7 1274.0,571.4 1276.2,565.1 C1278.5,558.8 1285.0,539.3 1287.2,532.5 C1289.5,525.7 1287.5,532.4 1289.7,524.5 C1291.9,516.6 1298.3,493.0 1300.5,485.1 C1302.7,477.1 1301.5,480.9 1303.0,476.8 C1304.5,472.8 1307.8,464.4 1309.3,460.8 C1310.8,457.2 1308.1,461.6 1311.8,455.1 C1315.5,448.7 1327.8,428.1 1331.5,421.9 C1335.2,415.6 1329.2,426.1 1334.0,417.6 C1338.8,409.1 1355.5,379.5 1360.3,371.0 C1365.1,362.5 1359.8,372.2 1362.8,366.4 C1365.8,360.5 1375.1,341.9 1378.1,335.9 C1381.1,329.8 1378.0,337.5 1380.6,330.1 C1383.2,322.6 1391.0,298.8 1393.6,291.1 C1396.2,283.3 1394.3,289.3 1396.1,283.4 C1398.0,277.5 1402.9,261.9 1404.7,255.9 C1406.5,249.9 1404.0,260.4 1407.2,247.6 C1410.4,234.8 1420.7,191.6 1423.7,179.2 C1426.7,166.9 1422.9,182.7 1425.1,173.7 C1427.3,164.6 1433.7,136.3 1436.8,125.1 C1439.9,113.9 1441.4,112.1 1443.6,106.6 C1445.8,101.1 1447.8,96.2 1449.9,92.1 C1452.0,88.0 1454.0,84.6 1456.2,81.9 C1458.4,79.1 1460.9,77.0 1463.0,75.6 C1465.1,74.1 1466.7,73.6 1468.8,73.4 C1470.9,73.2 1473.3,73.4 1475.6,74.3 C1477.9,75.2 1480.2,77.3 1482.4,78.8 C1484.6,80.4 1486.6,82.2 1488.7,83.6 C1490.8,85.1 1493.0,86.7 1495.1,87.7 C1497.2,88.8 1499.2,89.5 1501.4,89.9 C1503.6,90.2 1505.8,90.0 1508.1,89.7 C1510.3,89.5 1512.7,88.9 1514.9,88.5 C1517.1,88.0 1519.1,87.2 1521.2,87.1 C1523.3,86.9 1525.3,87.1 1527.5,87.3 C1529.7,87.5 1532.2,87.7 1534.3,88.3 C1536.4,88.9 1538.4,90.1 1540.2,91.0 C1542.0,91.8 1538.4,89.8 1545.0,93.3 C1551.6,96.8 1569.5,106.8 1580.0,112.0 C1590.5,117.2 1596.6,121.5 1607.7,124.7 C1618.8,127.9 1635.7,130.7 1646.6,131.2 C1657.5,131.6 1662.0,130.8 1673.3,127.2 C1684.6,123.5 1702.3,115.4 1714.3,109.3 C1726.2,103.3 1734.1,95.7 1745.0,90.7 C1755.9,85.7 1769.7,80.1 1779.9,79.2 C1790.2,78.4 1796.9,82.7 1806.5,85.6 C1816.1,88.5 1825.3,93.5 1837.3,96.8 C1849.3,100.1 1866.3,103.7 1878.3,105.3 C1890.2,107.0 1897.0,106.7 1909.0,106.8 C1921.0,106.9 1943.2,106.1 1950.0,105.9" fill="none" stroke="#800000" stroke-width="3.0" stroke-linejoin="round" stroke-linecap="round" />
<path d="M1149.7,602.0 C1149.8,602.0 1143.3,602.3 1150.0,602.0 C1156.7,601.6 1182.7,600.2 1189.7,599.8 C1196.7,599.5 1186.8,600.1 1191.8,599.7 C1196.8,599.4 1214.6,598.1 1219.7,597.7 C1224.8,597.3 1218.9,597.9 1222.2,597.5 C1225.5,597.1 1236.4,595.7 1239.7,595.3 C1243.0,594.8 1239.7,595.6 1242.2,594.8 C1244.7,594.0 1252.2,591.2 1254.7,590.2 C1257.2,589.2 1255.5,590.3 1257.2,589.0 C1258.9,587.7 1263.3,584.0 1265.0,582.5 C1266.7,580.9 1266.0,581.9 1267.5,579.9 C1269.0,577.8 1272.2,572.7 1273.7,570.3 C1275.2,567.9 1274.0,571.7 1276.2,565.4 C1278.5,559.2 1285.0,539.6 1287.2,532.8 C1289.5,526.1 1287.5,532.8 1289.7,524.9 C1291.9,517.0 1298.3,493.4 1300.5,485.5 C1302.7,477.5 1301.5,481.2 1303.0,477.1 C1304.5,473.1 1307.8,464.7 1309.3,461.1 C1310.8,457.5 1308.1,461.8 1311.8,455.3 C1315.5,448.8 1327.8,428.3 1331.5,422.1 C1335.2,415.8 1329.2,426.3 1334.0,417.8 C1338.8,409.3 1355.5,379.7 1360.3,371.2 C1365.1,362.7 1359.8,372.5 1362.8,366.6 C1365.8,360.8 1375.1,342.1 1378.1,336.1 C1381.1,330.1 1378.0,337.8 1380.6,330.4 C1383.2,322.9 1391.0,299.2 1393.6,291.4 C1396.2,283.6 1394.3,289.6 1396.1,283.7 C1398.0,277.9 1402.9,262.2 1404.7,256.2 C1406.5,250.3 1404.0,260.9 1407.2,248.0 C1410.4,235.1 1420.7,191.5 1423.7,179.0 C1426.7,166.6 1422.9,182.5 1425.1,173.4 C1427.3,164.4 1433.7,136.0 1436.8,124.8 C1439.9,113.6 1441.4,111.7 1443.6,106.1 C1445.8,100.5 1447.8,95.6 1449.9,91.4 C1452.0,87.2 1454.0,83.9 1456.2,81.1 C1458.4,78.3 1460.9,76.1 1463.0,74.7 C1465.1,73.3 1466.7,72.7 1468.8,72.5 C1470.9,72.3 1473.3,72.5 1475.6,73.4 C1477.9,74.4 1480.2,76.4 1482.4,78.0 C1484.6,79.6 1486.6,81.4 1488.7,82.9 C1490.8,84.4 1493.0,86.0 1495.1,87.1 C1497.2,88.2 1499.2,89.0 1501.4,89.4 C1503.6,89.8 1505.8,89.6 1508.1,89.4 C1510.3,89.2 1512.7,88.6 1514.9,88.2 C1517.1,87.8 1519.1,87.0 1521.2,86.9 C1523.3,86.7 1525.3,87.0 1527.5,87.2 C1529.7,87.4 1532.2,87.6 1534.3,88.3 C1536.4,88.9 1538.4,90.1 1540.2,90.9 C1542.0,91.7 1538.4,89.7 1545.0,93.2 C1551.6,96.7 1569.5,106.8 1580.0,112.0 C1590.5,117.2 1596.6,121.5 1607.7,124.6 C1618.8,127.8 1635.7,130.7 1646.6,131.1 C1657.5,131.6 1662.0,130.8 1673.3,127.1 C1684.6,123.5 1702.3,115.4 1714.3,109.4 C1726.2,103.3 1734.1,95.7 1745.0,90.7 C1755.9,85.7 1769.7,80.2 1779.9,79.4 C1790.2,78.6 1796.9,82.9 1806.5,85.8 C1816.1,88.7 1825.3,93.6 1837.3,96.9 C1849.3,100.1 1866.3,103.6 1878.3,105.2 C1890.2,106.8 1897.0,106.5 1909.0,106.5 C1921.0,106.6 1943.2,105.8 1950.0,105.6" fill="none" stroke="#808000" stroke-width="3.0" stroke-linejoin="round" stroke-linecap="round" />
<path d="M1149.7,602.0 C1149.8,602.0 1143.3,602.4 1150.0,602.0 C1156.7,601.7 1182.7,600.3 1189.7,599.9 C1196.7,599.5 1186.8,600.1 1191.8,599.8 C1196.8,599.4 1214.6,598.1 1219.7,597.8 C1224.8,597.4 1218.9,597.9 1222.2,597.5 C1225.5,597.1 1236.4,595.8 1239.7,595.4 C1243.0,594.9 1239.7,595.7 1242.2,594.9 C1244.7,594.1 1252.2,591.3 1254.7,590.3 C1257.2,589.4 1255.5,590.4 1257.2,589.1 C1258.9,587.9 1263.3,584.1 1265.0,582.6 C1266.7,581.1 1266.0,582.1 1267.5,580.1 C1269.0,578.1 1272.2,573.0 1273.7,570.6 C1275.2,568.2 1274.0,572.1 1276.2,565.9 C1278.5,559.7 1285.0,540.1 1287.2,533.3 C1289.5,526.6 1287.5,533.4 1289.7,525.5 C1291.9,517.6 1298.3,494.0 1300.5,486.1 C1302.7,478.1 1301.5,481.6 1303.0,477.6 C1304.5,473.5 1307.8,465.2 1309.3,461.5 C1310.8,457.9 1308.1,462.2 1311.8,455.6 C1315.5,449.1 1327.8,428.6 1331.5,422.4 C1335.2,416.1 1329.2,426.6 1334.0,418.1 C1338.8,409.6 1355.5,380.0 1360.3,371.5 C1365.1,363.0 1359.8,372.8 1362.8,367.0 C1365.8,361.1 1375.1,342.5 1378.1,336.5 C1381.1,330.4 1378.0,338.3 1380.6,330.9 C1383.2,323.5 1391.0,299.7 1393.6,291.9 C1396.2,284.1 1394.3,290.1 1396.1,284.3 C1398.0,278.4 1402.9,262.7 1404.7,256.8 C1406.5,250.8 1404.0,261.6 1407.2,248.6 C1410.4,235.6 1420.7,191.3 1423.7,178.7 C1426.7,166.2 1422.9,182.1 1425.1,173.1 C1427.3,164.0 1433.7,135.6 1436.8,124.3 C1439.9,113.0 1441.4,111.1 1443.6,105.4 C1445.8,99.7 1447.8,94.6 1449.9,90.4 C1452.0,86.1 1454.0,82.8 1456.2,80.0 C1458.4,77.1 1460.9,74.9 1463.0,73.4 C1465.1,71.9 1466.7,71.4 1468.8,71.2 C1470.9,70.9 1473.3,71.2 1475.6,72.1 C1477.9,73.0 1480.2,75.2 1482.4,76.8 C1484.6,78.4 1486.6,80.2 1488.7,81.7 C1490.8,83.3 1493.0,85.1 1495.1,86.2 C1497.2,87.4 1499.2,88.2 1501.4,88.7 C1503.6,89.1 1505.8,89.0 1508.1,88.9 C1510.3,88.7 1512.7,88.2 1514.9,87.8 C1517.1,87.5 1519.1,86.7 1521.2,86.6 C1523.3,86.4 1525.3,86.8 1527.5,87.0 C1529.7,87.3 1532.2,87.5 1534.3,88.1 C1536.4,88.8 1538.4,90.0 1540.2,90.8 C1542.0,91.7 1538.4,89.6 1545.0,93.1 C1551.6,96.6 1569.5,106.7 1580.0,112.0 C1590.5,117.3 1596.6,121.4 1607.7,124.6 C1618.8,127.8 1635.7,130.7 1646.6,131.1 C1657.5,131.5 1662.0,130.7 1673.3,127.1 C1684.6,123.5 1702.3,115.4 1714.3,109.4 C1726.2,103.3 1734.1,95.7 1745.0,90.8 C1755.9,85.8 1769.7,80.5 1779.9,79.7 C1790.2,78.9 1796.9,83.1 1806.5,86.0 C1816.1,88.9 1825.3,93.7 1837.3,96.9 C1849.3,100.1 1866.3,103.5 1878.3,105.1 C1890.2,106.6 1897.0,106.1 1909.0,106.1 C1921.0,106.1 1943.2,105.3 1950.0,105.1" fill="none" stroke="#3080a0" stroke-width="3.0" stroke-linejoin="round" stroke-linecap="round" />
<path d="M1149.7,602.0 C1149.8,602.0 1143.3,602.4 1150.0,602.0 C1156.7,601.7 1182.7,600.3 1189.7,599.9 C1196.7,599.6 1186.8,600.2 1191.8,599.8 C1196.8,599.5 1214.6,598.2 1219.7,597.8 C1224.8,597.4 1218.9,598.0 1222.2,597.6 C1225.5,597.2 1236.4,595.8 1239.7,595.4 C1243.0,595.0 1239.7,595.8 1242.2,595.0 C1244.7,594.1 1252.2,591.3 1254.7,590.4 C1257.2,589.4 1255.5,590.5 1257.2,589.2 C1258.9,587.9 1263.3,584.2 1265.0,582.7 C1266.7,581.2 1266.0,582.3 1267.5,580.3 C1269.0,578.3 1272.2,573.1 1273.7,570.7 C1275.2,568.4 1274.0,572.4 1276.2,566.2 C1278.5,560.0 1285.0,540.3 1287.2,533.6 C1289.5,526.8 1287.5,533.7 1289.7,525.8 C1291.9,517.9 1298.3,494.4 1300.5,486.3 C1302.7,478.3 1301.5,481.9 1303.0,477.8 C1304.5,473.7 1307.8,465.4 1309.3,461.7 C1310.8,458.1 1308.1,462.3 1311.8,455.8 C1315.5,449.3 1327.8,428.8 1331.5,422.5 C1335.2,416.3 1329.2,426.7 1334.0,418.3 C1338.8,409.8 1355.5,380.2 1360.3,371.7 C1365.1,363.2 1359.8,373.0 1362.8,367.1 C1365.8,361.3 1375.1,342.6 1378.1,336.6 C1381.1,330.6 1378.0,338.6 1380.6,331.1 C1383.2,323.7 1391.0,299.9 1393.6,292.1 C1396.2,284.4 1394.3,290.4 1396.1,284.5 C1398.0,278.7 1402.9,263.0 1404.7,257.0 C1406.5,251.1 1404.0,261.9 1407.2,248.9 C1410.4,235.8 1420.7,191.3 1423.7,178.6 C1426.7,165.9 1422.9,182.0 1425.1,172.9 C1427.3,163.8 1433.7,135.4 1436.8,124.1 C1439.9,112.8 1441.4,110.7 1443.6,105.0 C1445.8,99.3 1447.8,94.1 1449.9,89.8 C1452.0,85.6 1454.0,82.2 1456.2,79.4 C1458.4,76.5 1460.9,74.2 1463.0,72.7 C1465.1,71.3 1466.7,70.7 1468.8,70.5 C1470.9,70.3 1473.3,70.5 1475.6,71.4 C1477.9,72.4 1480.2,74.5 1482.4,76.1 C1484.6,77.8 1486.6,79.6 1488.7,81.2 C1490.8,82.8 1493.0,84.6 1495.1,85.8 C1497.2,87.0 1499.2,87.9 1501.4,88.3 C1503.6,88.8 1505.8,88.7 1508.1,88.6 C1510.3,88.5 1512.7,88.0 1514.9,87.7 C1517.1,87.3 1519.1,86.6 1521.2,86.4 C1523.3,86.3 1525.3,86.7 1527.5,87.0 C1529.7,87.2 1532.2,87.4 1534.3,88.1 C1536.4,88.7 1538.4,90.0 1540.2,90.8 C1542.0,91.6 1538.4,89.5 1545.0,93.1 C1551.6,96.6 1569.5,106.7 1580.0,112.0 C1590.5,117.3 1596.6,121.4 1607.7,124.6 C1618.8,127.8 1635.7,130.7 1646.6,131.1 C1657.5,131.5 1662.0,130.7 1673.3,127.1 C1684.6,123.5 1702.3,115.5 1714.3,109.4 C1726.2,103.4 1734.1,95.7 1745.0,90.8 C1755.9,85.9 1769.7,80.6 1779.9,79.8 C1790.2,79.1 1796.9,83.3 1806.5,86.1 C1816.1,89.0 1825.3,93.8 1837.3,97.0 C1849.3,100.1 1866.3,103.5 1878.3,105.0 C1890.2,106.5 1897.0,105.9 1909.0,105.9 C1921.0,105.9 1943.2,105.0 1950.0,104.9" fill="none" stroke="#008080" stroke-width="3.0" stroke-linejoin="round" stroke-linecap="round" />
<path d="M1149.7,602.1 C1149.8,602.1 1143.3,602.4 1150.0,602.1 C1156.7,601.7 1182.7,600.3 1189.7,600.0 C1196.7,599.6 1186.8,600.2 1191.8,599.8 C1196.8,599.5 1214.6,598.2 1219.7,597.8 C1224.8,597.5 1218.9,598.0 1222.2,597.6 C1225.5,597.2 1236.4,595.9 1239.7,595.4 C1243.0,595.0 1239.7,595.9 1242.2,595.0 C1244.7,594.2 1252.2,591.4 1254.7,590.4 C1257.2,589.5 1255.5,590.6 1257.2,589.3 C1258.9,588.1 1263.3,584.3 1265.0,582.8 C1266.7,581.3 1266.0,582.4 1267.5,580.5 C1269.0,578.5 1272.2,573.2 1273.7,570.9 C1275.2,568.6 1274.0,572.7 1276.2,566.5 C1278.5,560.3 1285.0,540.6 1287.2,533.9 C1289.5,527.2 1287.5,534.1 1289.7,526.2 C1291.9,518.4 1298.3,494.8 1300.5,486.7 C1302.7,478.7 1301.5,482.2 1303.0,478.1 C1304.5,473.9 1307.8,465.7 1309.3,462.0 C1310.8,458.3 1308.1,462.5 1311.8,456.0 C1315.5,449.4 1327.8,429.0 1331.5,422.7 C1335.2,416.5 1329.2,426.9 1334.0,418.5 C1338.8,410.0 1355.5,380.4 1360.3,371.9 C1365.1,363.4 1359.8,373.2 1362.8,367.4 C1365.8,361.5 1375.1,342.8 1378.1,336.9 C1381.1,330.9 1378.0,338.9 1380.6,331.5 C1383.2,324.1 1391.0,300.2 1393.6,292.5 C1396.2,284.7 1394.3,290.7 1396.1,284.9 C1398.0,279.0 1402.9,263.3 1404.7,257.4 C1406.5,251.4 1404.0,262.4 1407.2,249.3 C1410.4,236.1 1420.7,191.2 1423.7,178.4 C1426.7,165.6 1422.9,181.8 1425.1,172.7 C1427.3,163.5 1433.7,135.1 1436.8,123.8 C1439.9,112.4 1441.4,110.3 1443.6,104.6 C1445.8,98.8 1447.8,93.5 1449.9,89.2 C1452.0,84.8 1454.0,81.5 1456.2,78.6 C1458.4,75.8 1460.9,73.4 1463.0,71.9 C1465.1,70.4 1466.7,69.8 1468.8,69.6 C1470.9,69.4 1473.3,69.6 1475.6,70.6 C1477.9,71.5 1480.2,73.7 1482.4,75.3 C1484.6,77.0 1486.6,78.8 1488.7,80.4 C1490.8,82.1 1493.0,83.9 1495.1,85.2 C1497.2,86.4 1499.2,87.4 1501.4,87.9 C1503.6,88.4 1505.8,88.4 1508.1,88.3 C1510.3,88.2 1512.7,87.7 1514.9,87.4 C1517.1,87.1 1519.1,86.3 1521.2,86.3 C1523.3,86.2 1525.3,86.6 1527.5,86.8 C1529.7,87.1 1532.2,87.4 1534.3,88.0 C1536.4,88.7 1538.4,89.9 1540.2,90.7 C1542.0,91.6 1538.4,89.4 1545.0,93.0 C1551.6,96.5 1569.5,106.7 1580.0,112.0 C1590.5,117.3 1596.6,121.4 1607.7,124.6 C1618.8,127.8 1635.7,130.7 1646.6,131.1 C1657.5,131.5 1662.0,130.7 1673.3,127.1 C1684.6,123.5 1702.3,115.5 1714.3,109.4 C1726.2,103.4 1734.1,95.7 1745.0,90.8 C1755.9,85.9 1769.7,80.8 1779.9,80.0 C1790.2,79.3 1796.9,83.4 1806.5,86.3 C1816.1,89.1 1825.3,93.9 1837.3,97.0 C1849.3,100.1 1866.3,103.5 1878.3,104.9 C1890.2,106.3 1897.0,105.7 1909.0,105.6 C1921.0,105.6 1943.2,104.7 1950.0,104.5" fill="none" stroke="#00e040" stroke-width="3.0" stroke-linejoin="round" stroke-linecap="round" />
<path d="M1149.7,602.1 C1149.8,602.1 1143.3,602.5 1150.0,602.1 C1156.7,601.8 1182.7,600.4 1189.7,600.0 C1196.7,599.6 1186.8,600.3 1191.8,599.9 C1196.8,599.5 1214.6,598.2 1219.7,597.9 C1224.8,597.5 1218.9,598.1 1222.2,597.7 C1225.5,597.3 1236.4,595.9 1239.7,595.5 C1243.0,595.1 1239.7,595.9 1242.2,595.1 C1244.7,594.3 1252.2,591.5 1254.7,590.5 C1257.2,589.6 1255.5,590.7 1257.2,589.5 C1258.9,588.2 1263.3,584.4 1265.0,583.0 C1266.7,581.5 1266.0,582.7 1267.5,580.7 C1269.0,578.7 1272.2,573.4 1273.7,571.1 C1275.2,568.8 1274.0,573.0 1276.2,566.9 C1278.5,560.8 1285.0,541.0 1287.2,534.3 C1289.5,527.6 1287.5,534.6 1289.7,526.7 C1291.9,518.9 1298.3,495.3 1300.5,487.2 C1302.7,479.2 1301.5,482.6 1303.0,478.4 C1304.5,474.3 1307.8,466.1 1309.3,462.4 C1310.8,458.7 1308.1,462.8 1311.8,456.2 C1315.5,449.7 1327.8,429.2 1331.5,423.0 C1335.2,416.7 1329.2,427.2 1334.0,418.7 C1338.8,410.3 1355.5,380.7 1360.3,372.2 C1365.1,363.6 1359.8,373.5 1362.8,367.7 C1365.8,361.8 1375.1,343.1 1378.1,337.1 C1381.1,331.2 1378.0,339.3 1380.6,331.9 C1383.2,324.5 1391.0,300.6 1393.6,292.9 C1396.2,285.1 1394.3,291.2 1396.1,285.3 C1398.0,279.5 1402.9,263.8 1404.7,257.8 C1406.5,251.9 1404.0,263.0 1407.2,249.7 C1410.4,236.5 1420.7,191.0 1423.7,178.1 C1426.7,165.3 1422.9,181.5 1425.1,172.4 C1427.3,163.2 1433.7,134.8 1436.8,123.4 C1439.9,112.0 1441.4,109.8 1443.6,104.0 C1445.8,98.1 1447.8,92.7 1449.9,88.3 C1452.0,83.9 1454.0,80.6 1456.2,77.7 C1458.4,74.8 1460.9,72.3 1463.0,70.8 C1465.1,69.3 1466.7,68.7 1468.8,68.5 C1470.9,68.3 1473.3,68.5 1475.6,69.4 C1477.9,70.4 1480.2,72.6 1482.4,74.3 C1484.6,75.9 1486.6,77.8 1488.7,79.5 C1490.8,81.2 1493.0,83.1 1495.1,84.4 C1497.2,85.7 1499.2,86.7 1501.4,87.3 C1503.6,87.9 1505.8,87.9 1508.1,87.8 C1510.3,87.8 1512.7,87.4 1514.9,87.1 C1517.1,86.8 1519.1,86.1 1521.2,86.0 C1523.3,86.0 1525.3,86.4 1527.5,86.7 C1529.7,87.0 1532.2,87.3 1534.3,87.9 C1536.4,88.6 1538.4,89.8 1540.2,90.7 C1542.0,91.5 1538.4,89.3 1545.0,92.9 C1551.6,96.5 1569.5,106.7 1580.0,112.0 C1590.5,117.3 1596.6,121.4 1607.7,124.6 C1618.8,127.7 1635.7,130.6 1646.6,131.1 C1657.5,131.5 1662.0,130.7 1673.3,127.1 C1684.6,123.5 1702.3,115.5 1714.3,109.4 C1726.2,103.4 1734.1,95.8 1745.0,90.9 C1755.9,86.0 1769.7,81.0 1779.9,80.3 C1790.2,79.5 1796.9,83.7 1806.5,86.5 C1816.1,89.3 1825.3,94.0 1837.3,97.1 C1849.3,100.1 1866.3,103.4 1878.3,104.8 C1890.2,106.1 1897.0,105.4 1909.0,105.3 C1921.0,105.2 1943.2,104.3 1950.0,104.1" fill="none" stroke="#20c8d8" stroke-width="3.0" stroke-linejoin="round" stroke-linecap="round" />
<path d="M1149.7,602.2 C1149.8,602.2 1143.3,602.5 1150.0,602.2 C1156.7,601.8 1182.7,600.4 1189.7,600.1 C1196.7,599.7 1186.8,600.3 1191.8,599.9 C1196.8,599.6 1214.6,598.3 1219.7,597.9 C1224.8,597.6 1218.9,598.1 1222.2,597.7 C1225.5,597.3 1236.4,596.0 1239.7,595.5 C1243.0,595.1 1239.7,596.0 1242.2,595.2 C1244.7,594.4 1252.2,591.5 1254.7,590.6 C1257.2,589.7 1255.5,590.9 1257.2,589.6 C1258.9,588.4 1263.3,584.6 1265.0,583.1 C1266.7,581.7 1266.0,582.9 1267.5,580.9 C1269.0,579.0 1272.2,573.6 1273.7,571.4 C1275.2,569.1 1274.0,573.4 1276.2,567.3 C1278.5,561.2 1285.0,541.4 1287.2,534.7 C1289.5,528.0 1287.5,535.0 1289.7,527.2 C1291.9,519.4 1298.3,495.8 1300.5,487.7 C1302.7,479.7 1301.5,482.9 1303.0,478.8 C1304.5,474.6 1307.8,466.4 1309.3,462.7 C1310.8,459.0 1308.1,463.1 1311.8,456.5 C1315.5,449.9 1327.8,429.5 1331.5,423.2 C1335.2,417.0 1329.2,427.5 1334.0,419.0 C1338.8,410.5 1355.5,380.9 1360.3,372.4 C1365.1,363.9 1359.8,373.8 1362.8,368.0 C1365.8,362.1 1375.1,343.4 1378.1,337.4 C1381.1,331.5 1378.0,339.7 1380.6,332.3 C1383.2,324.9 1391.0,301.1 1393.6,293.3 C1396.2,285.5 1394.3,291.6 1396.1,285.8 C1398.0,279.9 1402.9,264.2 1404.7,258.3 C1406.5,252.3 1404.0,263.6 1407.2,250.2 C1410.4,236.8 1420.7,190.9 1423.7,177.9 C1426.7,164.9 1422.9,181.2 1425.1,172.1 C1427.3,162.9 1433.7,134.4 1436.8,123.0 C1439.9,111.5 1441.4,109.3 1443.6,103.4 C1445.8,97.5 1447.8,91.9 1449.9,87.4 C1452.0,83.0 1454.0,79.7 1456.2,76.7 C1458.4,73.8 1460.9,71.3 1463.0,69.7 C1465.1,68.1 1466.7,67.6 1468.8,67.4 C1470.9,67.2 1473.3,67.4 1475.6,68.3 C1477.9,69.3 1480.2,71.5 1482.4,73.2 C1484.6,74.9 1486.6,76.8 1488.7,78.5 C1490.8,80.3 1493.0,82.3 1495.1,83.7 C1497.2,85.1 1499.2,86.1 1501.4,86.7 C1503.6,87.3 1505.8,87.4 1508.1,87.4 C1510.3,87.4 1512.7,87.1 1514.9,86.8 C1517.1,86.5 1519.1,85.8 1521.2,85.8 C1523.3,85.7 1525.3,86.2 1527.5,86.6 C1529.7,86.9 1532.2,87.1 1534.3,87.8 C1536.4,88.5 1538.4,89.8 1540.2,90.6 C1542.0,91.4 1538.4,89.2 1545.0,92.8 C1551.6,96.4 1569.5,106.7 1580.0,112.0 C1590.5,117.3 1596.6,121.4 1607.7,124.5 C1618.8,127.7 1635.7,130.6 1646.6,131.0 C1657.5,131.4 1662.0,130.6 1673.3,127.0 C1684.6,123.4 1702.3,115.5 1714.3,109.5 C1726.2,103.5 1734.1,95.8 1745.0,90.9 C1755.9,86.1 1769.7,81.2 1779.9,80.5 C1790.2,79.8 1796.9,83.9 1806.5,86.7 C1816.1,89.4 1825.3,94.1 1837.3,97.1 C1849.3,100.1 1866.3,103.4 1878.3,104.6 C1890.2,105.9 1897.0,105.1 1909.0,104.9 C1921.0,104.8 1943.2,103.9 1950.0,103.7" fill="none" stroke="#808080" stroke-width="3.0" stroke-linejoin="round" stroke-linecap="round" />
<path d="M1149.7,602.2 C1149.8,602.2 1143.3,602.5 1150.0,602.2 C1156.7,601.9 1182.7,600.5 1189.7,600.1 C1196.7,599.7 1186.8,600.4 1191.8,600.0 C1196.8,599.6 1214.6,598.3 1219.7,598.0 C1224.8,597.6 1218.9,598.2 1222.2,597.8 C1225.5,597.4 1236.4,596.0 1239.7,595.6 C1243.0,595.2 1239.7,596.1 1242.2,595.3 C1244.7,594.5 1252.2,591.6 1254.7,590.7 C1257.2,589.8 1255.5,591.0 1257.2,589.8 C1258.9,588.6 1263.3,584.7 1265.0,583.3 C1266.7,581.9 1266.0,583.1 1267.5,581.2 C1269.0,579.3 1272.2,573.9 1273.7,571.7 C1275.2,569.4 1274.0,573.9 1276.2,567.8 C1278.5,561.7 1285.0,541.9 1287.2,535.2 C1289.5,528.5 1287.5,535.6 1289.7,527.8 C1291.9,520.0 1298.3,496.4 1300.5,488.3 C1302.7,480.2 1301.5,483.4 1303.0,479.2 C1304.5,475.0 1307.8,466.9 1309.3,463.2 C1310.8,459.4 1308.1,463.4 1311.8,456.8 C1315.5,450.2 1327.8,429.8 1331.5,423.5 C1335.2,417.3 1329.2,427.8 1334.0,419.3 C1338.8,410.8 1355.5,381.2 1360.3,372.7 C1365.1,364.2 1359.8,374.1 1362.8,368.3 C1365.8,362.5 1375.1,343.7 1378.1,337.8 C1381.1,331.9 1378.0,340.1 1380.6,332.8 C1383.2,325.5 1391.0,301.6 1393.6,293.8 C1396.2,286.1 1394.3,292.1 1396.1,286.3 C1398.0,280.5 1402.9,264.7 1404.7,258.8 C1406.5,252.9 1404.0,264.3 1407.2,250.8 C1410.4,237.3 1420.7,190.8 1423.7,177.6 C1426.7,164.4 1422.9,180.9 1425.1,171.7 C1427.3,162.5 1433.7,134.0 1436.8,122.5 C1439.9,111.0 1441.4,108.7 1443.6,102.7 C1445.8,96.7 1447.8,90.9 1449.9,86.4 C1452.0,81.9 1454.0,78.6 1456.2,75.6 C1458.4,72.6 1460.9,70.0 1463.0,68.4 C1465.1,66.8 1466.7,66.3 1468.8,66.1 C1470.9,65.9 1473.3,66.0 1475.6,67.0 C1477.9,68.0 1480.2,70.3 1482.4,72.0 C1484.6,73.7 1486.6,75.6 1488.7,77.4 C1490.8,79.2 1493.0,81.4 1495.1,82.8 C1497.2,84.2 1499.2,85.3 1501.4,86.0 C1503.6,86.7 1505.8,86.8 1508.1,86.9 C1510.3,87.0 1512.7,86.6 1514.9,86.4 C1517.1,86.2 1519.1,85.5 1521.2,85.5 C1523.3,85.5 1525.3,86.0 1527.5,86.4 C1529.7,86.8 1532.2,87.0 1534.3,87.7 C1536.4,88.4 1538.4,89.7 1540.2,90.5 C1542.0,91.3 1538.4,89.1 1545.0,92.7 C1551.6,96.3 1569.5,106.7 1580.0,112.0 C1590.5,117.3 1596.6,121.3 1607.7,124.5 C1618.8,127.7 1635.7,130.6 1646.6,131.0 C1657.5,131.4 1662.0,130.6 1673.3,127.0 C1684.6,123.4 1702.3,115.5 1714.3,109.5 C1726.2,103.5 1734.1,95.8 1745.0,91.0 C1755.9,86.2 1769.7,81.5 1779.9,80.8 C1790.2,80.1 1796.9,84.2 1806.5,86.9 C1816.1,89.6 1825.3,94.3 1837.3,97.2 C1849.3,100.1 1866.3,103.3 1878.3,104.5 C1890.2,105.7 1897.0,104.7 1909.0,104.5 C1921.0,104.3 1943.2,103.4 1950.0,103.2" fill="none" stroke="#a06a6a" stroke-width="3.0" stroke-linejoin="round" stroke-linecap="round" />
<path d="M1148.8,600.8 C1155.5,600.4 1177.1,599.3 1188.8,598.6 C1200.5,597.9 1210.5,597.2 1218.8,596.4 C1227.1,595.6 1233.0,595.2 1238.8,593.9 C1244.6,592.6 1249.6,590.8 1253.8,588.4 C1258.0,586.0 1260.9,583.5 1264.1,579.8 C1267.3,576.1 1269.1,575.3 1272.8,566.4 C1276.5,557.5 1281.8,541.2 1286.3,526.4 C1290.8,511.6 1295.9,489.6 1299.6,477.8 C1303.3,466.0 1303.2,465.4 1308.4,455.4 C1313.6,445.4 1322.1,432.6 1330.6,417.9 C1339.1,403.1 1351.6,381.3 1359.4,366.9 C1367.2,352.5 1371.5,344.7 1377.2,331.4 C1383.0,318.1 1389.3,300.2 1393.9,287.0 C1398.5,273.8 1399.0,270.2 1405.0,252.0 C1411.0,233.8 1424.3,194.1 1429.6,177.6 C1434.9,161.1 1434.5,159.8 1436.8,153.2 C1439.1,146.6 1441.4,142.2 1443.6,137.8 C1445.8,133.4 1447.8,129.8 1449.9,127.0 C1452.0,124.2 1454.0,122.7 1456.2,121.2 C1458.4,119.7 1460.9,118.6 1463.0,118.0 C1465.1,117.4 1466.7,117.4 1468.8,117.5 C1470.9,117.6 1473.3,118.1 1475.6,118.5 C1477.9,118.9 1480.2,119.4 1482.4,119.8 C1484.6,120.2 1486.6,120.6 1488.7,120.7 C1490.8,120.8 1493.0,120.8 1495.1,120.3 C1497.2,119.8 1499.2,119.1 1501.4,118.0 C1503.6,116.9 1505.8,115.2 1508.1,113.5 C1510.3,111.8 1512.7,109.9 1514.9,108.1 C1517.1,106.3 1519.1,104.2 1521.2,102.7 C1523.3,101.2 1525.3,100.0 1527.5,99.1 C1529.7,98.2 1532.2,97.5 1534.3,97.3 C1536.4,97.1 1538.4,97.5 1540.2,97.7 C1542.0,97.9 1538.4,95.6 1545.0,98.6 C1551.6,101.6 1570.6,111.5 1580.0,115.5 C1589.4,119.5 1590.4,119.2 1601.5,122.5 C1612.6,125.8 1632.9,134.6 1646.6,135.5 C1660.3,136.4 1667.1,135.6 1683.5,128.0 C1699.9,120.4 1728.9,98.6 1745.0,90.0 C1761.1,81.4 1767.9,77.0 1779.9,76.5 C1791.9,76.0 1802.1,80.6 1816.8,86.9 C1831.5,93.2 1852.6,108.8 1868.0,114.5 C1883.4,120.2 1895.3,119.8 1909.0,121.0 C1922.7,122.2 1943.2,121.4 1950.0,121.5" fill="none" stroke="#5a8f62" stroke-width="3.0" stroke-linejoin="round" stroke-linecap="round" />
<rect x="1406.2" y="32.7" width="138.9" height="144.9" fill="none" stroke="#f07070" stroke-width="1.3"/>
<defs><clipPath id="insclip"><rect x="1541.5" y="208.5" width="382.7" height="399.7"/></clipPath></defs>
<g clip-path="url(#insclip)">
<path d="M1540.4,807.8 L1596.0,608.1 L1621.9,503.6 L1644.5,456.2 L1661.9,423.9 L1679.2,402.7 L1698.0,391.4 L1714.0,388.9 L1732.7,391.4 L1751.4,397.7 L1768.8,404.0 L1786.4,406.0 L1803.8,402.7 L1822.2,394.1 L1841.0,383.9 L1858.3,374.0 L1875.7,366.3 L1894.4,365.4 L1910.7,369.0 L1923.9,374.0" fill="none" stroke="#000000" stroke-width="1.6" stroke-linejoin="round"/>
<path d="M1513.7,883.7 L1537.4,807.8 L1544.3,783.3 L1589.7,621.8 L1593.6,608.1 L1625.8,478.0 L1644.5,433.8 L1661.9,404.0 L1679.2,379.2 L1698.0,366.8 L1714.0,361.3 L1732.7,364.3 L1751.4,374.0 L1768.8,383.9 L1786.4,387.8 L1803.8,387.8 L1822.2,381.7 L1841.0,374.0 L1858.3,367.1 L1875.7,364.3 L1894.4,365.4 L1910.7,371.8 L1923.9,378.9" fill="none" stroke="#ff0000" stroke-width="1.6" stroke-linejoin="round"/>
<path d="M1513.7,888.3 L1537.4,812.4 L1544.3,788.4 L1589.7,619.2 L1593.6,605.0 L1625.8,473.8 L1644.5,427.7 L1661.9,395.0 L1679.2,369.3 L1698.0,355.4 L1714.0,349.8 L1732.7,352.7 L1751.4,363.1 L1768.8,374.0 L1786.4,380.0 L1803.8,381.6 L1822.2,377.2 L1841.0,370.7 L1858.3,364.6 L1875.7,362.9 L1894.4,364.4 L1910.7,371.0 L1923.9,378.0" fill="none" stroke="#0000ff" stroke-width="1.6" stroke-linejoin="round"/>
<path d="M1513.7,891.7 L1537.4,815.8 L1544.3,792.1 L1589.7,617.3 L1593.6,602.8 L1625.8,470.8 L1644.5,423.2 L1661.9,388.4 L1679.2,361.9 L1698.0,347.1 L1714.0,341.3 L1732.7,344.1 L1751.4,355.1 L1768.8,366.7 L1786.4,374.2 L1803.8,377.1 L1822.2,373.9 L1841.0,368.2 L1858.3,362.8 L1875.7,361.8 L1894.4,363.7 L1910.7,370.5 L1923.9,377.3" fill="none" stroke="#ff00ff" stroke-width="1.6" stroke-linejoin="round"/>
<path d="M1513.7,893.1 L1537.4,817.3 L1544.3,793.7 L1589.7,616.5 L1593.6,601.8 L1625.8,469.5 L1644.5,421.2 L1661.9,385.5 L1679.2,358.8 L1698.0,343.5 L1714.0,337.6 L1732.7,340.4 L1751.4,351.7 L1768.8,363.6 L1786.4,371.7 L1803.8,375.2 L1822.2,372.5 L1841.0,367.2 L1858.3,362.0 L1875.7,361.3 L1894.4,363.4 L1910.7,370.3 L1923.9,377.0" fill="none" stroke="#008000" stroke-width="1.6" stroke-linejoin="round"/>
<path d="M1513.7,895.8 L1537.4,819.9 L1544.3,796.7 L1589.7,615.0 L1593.6,600.0 L1625.8,467.1 L1644.5,417.7 L1661.9,380.3 L1679.2,353.0 L1698.0,336.9 L1714.0,331.0 L1732.7,333.7 L1751.4,345.4 L1768.8,357.8 L1786.4,367.2 L1803.8,371.6 L1822.2,369.8 L1841.0,365.3 L1858.3,360.6 L1875.7,360.5 L1894.4,362.8 L1910.7,369.8 L1923.9,376.5" fill="none" stroke="#000080" stroke-width="1.6" stroke-linejoin="round"/>
<path d="M1513.7,897.5 L1537.4,821.6 L1544.3,798.5 L1589.7,614.0 L1593.6,598.9 L1625.8,465.5 L1644.5,415.4 L1661.9,377.0 L1679.2,349.4 L1698.0,332.7 L1714.0,326.7 L1732.7,329.4 L1751.4,341.4 L1768.8,354.2 L1786.4,364.3 L1803.8,369.4 L1822.2,368.2 L1841.0,364.1 L1858.3,359.7 L1875.7,359.9 L1894.4,362.4 L1910.7,369.6 L1923.9,376.1" fill="none" stroke="#8000ff" stroke-width="1.6" stroke-linejoin="round"/>
<path d="M1513.7,898.7 L1537.4,822.9 L1544.3,799.9 L1589.7,613.3 L1593.6,598.1 L1625.8,464.4 L1644.5,413.8 L1661.9,374.6 L1679.2,346.7 L1698.0,329.7 L1714.0,323.7 L1732.7,326.4 L1751.4,338.6 L1768.8,351.6 L1786.4,362.3 L1803.8,367.8 L1822.2,367.0 L1841.0,363.2 L1858.3,359.0 L1875.7,359.5 L1894.4,362.2 L1910.7,369.4 L1923.9,375.9" fill="none" stroke="#800080" stroke-width="1.6" stroke-linejoin="round"/>
<path d="M1513.7,899.9 L1537.4,824.1 L1544.3,801.2 L1589.7,612.7 L1593.6,597.3 L1625.8,463.4 L1644.5,412.2 L1661.9,372.3 L1679.2,344.1 L1698.0,326.7 L1714.0,320.6 L1732.7,323.3 L1751.4,335.7 L1768.8,349.0 L1786.4,360.2 L1803.8,366.2 L1822.2,365.8 L1841.0,362.3 L1858.3,358.4 L1875.7,359.2 L1894.4,361.9 L1910.7,369.2 L1923.9,375.6" fill="none" stroke="#800000" stroke-width="1.6" stroke-linejoin="round"/>
<path d="M1513.7,900.9 L1537.4,825.0 L1544.3,802.3 L1589.7,612.1 L1593.6,596.6 L1625.8,462.5 L1644.5,410.9 L1661.9,370.4 L1679.2,342.0 L1698.0,324.3 L1714.0,318.2 L1732.7,320.9 L1751.4,333.4 L1768.8,346.9 L1786.4,358.6 L1803.8,364.9 L1822.2,364.9 L1841.0,361.6 L1858.3,357.9 L1875.7,358.8 L1894.4,361.7 L1910.7,369.0 L1923.9,375.4" fill="none" stroke="#808000" stroke-width="1.6" stroke-linejoin="round"/>
<path d="M1513.7,902.3 L1537.4,826.5 L1544.3,803.9 L1589.7,611.3 L1593.6,595.6 L1625.8,461.2 L1644.5,409.0 L1661.9,367.5 L1679.2,338.9 L1698.0,320.7 L1714.0,314.6 L1732.7,317.2 L1751.4,330.0 L1768.8,343.8 L1786.4,356.1 L1803.8,362.9 L1822.2,363.4 L1841.0,360.6 L1858.3,357.1 L1875.7,358.4 L1894.4,361.4 L1910.7,368.8 L1923.9,375.1" fill="none" stroke="#3080a0" stroke-width="1.6" stroke-linejoin="round"/>
<path d="M1513.7,903.1 L1537.4,827.2 L1544.3,804.7 L1589.7,610.9 L1593.6,595.1 L1625.8,460.5 L1644.5,408.0 L1661.9,366.1 L1679.2,337.3 L1698.0,318.9 L1714.0,312.8 L1732.7,315.3 L1751.4,328.3 L1768.8,342.2 L1786.4,354.9 L1803.8,362.0 L1822.2,362.7 L1841.0,360.1 L1858.3,356.7 L1875.7,358.1 L1894.4,361.2 L1910.7,368.7 L1923.9,375.0" fill="none" stroke="#008080" stroke-width="1.6" stroke-linejoin="round"/>
<path d="M1513.7,904.0 L1537.4,828.2 L1544.3,805.8 L1589.7,610.3 L1593.6,594.5 L1625.8,459.7 L1644.5,406.7 L1661.9,364.2 L1679.2,335.2 L1698.0,316.5 L1714.0,310.3 L1732.7,312.9 L1751.4,326.0 L1768.8,340.1 L1786.4,353.3 L1803.8,360.7 L1822.2,361.8 L1841.0,359.4 L1858.3,356.2 L1875.7,357.8 L1894.4,361.0 L1910.7,368.5 L1923.9,374.8" fill="none" stroke="#00e040" stroke-width="1.6" stroke-linejoin="round"/>
<path d="M1513.7,905.3 L1537.4,829.4 L1544.3,807.1 L1589.7,609.6 L1593.6,593.7 L1625.8,458.6 L1644.5,405.1 L1661.9,361.8 L1679.2,332.6 L1698.0,313.5 L1714.0,307.3 L1732.7,309.8 L1751.4,323.2 L1768.8,337.5 L1786.4,351.2 L1803.8,359.1 L1822.2,360.6 L1841.0,358.5 L1858.3,355.5 L1875.7,357.5 L1894.4,360.8 L1910.7,368.3 L1923.9,374.5" fill="none" stroke="#20c8d8" stroke-width="1.6" stroke-linejoin="round"/>
<path d="M1513.7,906.5 L1537.4,830.6 L1544.3,808.4 L1589.7,609.0 L1593.6,592.9 L1625.8,457.5 L1644.5,403.5 L1661.9,359.5 L1679.2,330.0 L1698.0,310.6 L1714.0,304.3 L1732.7,306.8 L1751.4,320.3 L1768.8,334.9 L1786.4,349.1 L1803.8,357.4 L1822.2,359.4 L1841.0,357.6 L1858.3,354.9 L1875.7,357.1 L1894.4,360.5 L1910.7,368.1 L1923.9,374.3" fill="none" stroke="#808080" stroke-width="1.6" stroke-linejoin="round"/>
<path d="M1513.7,907.9 L1537.4,832.1 L1544.3,810.0 L1589.7,608.1 L1593.6,591.9 L1625.8,456.2 L1644.5,401.6 L1661.9,356.6 L1679.2,326.8 L1698.0,307.0 L1714.0,300.6 L1732.7,303.1 L1751.4,316.9 L1768.8,331.8 L1786.4,346.7 L1803.8,355.5 L1822.2,358.0 L1841.0,356.6 L1858.3,354.1 L1875.7,356.6 L1894.4,360.2 L1910.7,367.9 L1923.9,374.0" fill="none" stroke="#a06a6a" stroke-width="1.6" stroke-linejoin="round"/>
<path d="M1538.2,813.3 L1606.0,608.1 L1625.8,540.8 L1644.5,498.4 L1661.9,468.6 L1679.2,452.6 L1698.0,443.8 L1714.0,442.4 L1732.7,445.1 L1751.4,448.7 L1768.8,451.2 L1786.4,450.1 L1803.8,443.8 L1822.2,431.3 L1841.0,416.5 L1858.3,401.6 L1875.7,391.6 L1894.4,386.7 L1910.7,387.8 L1923.9,390.3" fill="none" stroke="#5a8f62" stroke-width="1.6" stroke-linejoin="round"/>
</g>
<rect x="1541.5" y="208.5" width="382.7" height="399.7" fill="none" stroke="#ff0000" stroke-width="1.6"/>
<line x1="1711" y1="517" x2="1711" y2="308" stroke="#000" stroke-width="2.8"/>
<path d="M1711,294 L1715.4,312 L1706.6,312 Z" fill="#000"/>
<text x="1660.5" y="276.0" font-size="40" text-anchor="start" ><tspan>Ni</tspan><tspan font-size="22" dy="15.8">3</tspan><tspan dy="-15.8">ZnC</tspan><tspan font-size="22" dy="15.8">0.7</tspan></text>
<text x="1666.5" y="562.0" font-size="40" text-anchor="start" ><tspan>Ni</tspan><tspan font-size="22" dy="15.8">3</tspan><tspan dy="-15.8">Zn</tspan></text>
<text x="13" y="829" font-size="36" font-weight="bold">c</text>
<g clip-path="url(#cTL)">
<rect x="145.6" y="768.7" width="376.5" height="381.5" fill="url(#bgTL)"/>
<circle cx="335.0" cy="861.0" r="28.5" fill="#10ffd0" stroke="#000" stroke-width="1.3"/>
<circle cx="335.0" cy="799.0" r="28.5" fill="#10ffd0" stroke="#000" stroke-width="1.3"/>
<circle cx="368.0" cy="830.0" r="25.0" fill="#10ffd0" stroke="#000" stroke-width="1.3"/>
<circle cx="302.0" cy="830.0" r="25.0" fill="#10ffd0" stroke="#000" stroke-width="1.3"/>
<circle cx="335.0" cy="861.0" r="23.5" fill="#00f4ff" stroke="#000" stroke-width="1.2"/>
<circle cx="335.0" cy="799.0" r="23.5" fill="#00f4ff" stroke="#000" stroke-width="1.2"/>
<circle cx="368.0" cy="830.0" r="20.0" fill="#00f4ff" stroke="#000" stroke-width="1.2"/>
<circle cx="302.0" cy="830.0" r="20.0" fill="#00f4ff" stroke="#000" stroke-width="1.2"/>
<circle cx="335.0" cy="861.0" r="20.5" fill="#30b8ff" stroke="#000" stroke-width="0.8"/>
<circle cx="335.0" cy="799.0" r="20.5" fill="#30b8ff" stroke="#000" stroke-width="0.8"/>
<circle cx="368.0" cy="830.0" r="17.0" fill="#30b8ff" stroke="#000" stroke-width="0.8"/>
<circle cx="302.0" cy="830.0" r="17.0" fill="#30b8ff" stroke="#000" stroke-width="0.8"/>
<circle cx="335.0" cy="861.0" r="18.0" fill="#2878ff" stroke="#000" stroke-width="0.8"/>
<circle cx="335.0" cy="799.0" r="18.0" fill="#2878ff" stroke="#000" stroke-width="0.8"/>
<circle cx="368.0" cy="830.0" r="14.5" fill="#2878ff" stroke="#000" stroke-width="0.8"/>
<circle cx="302.0" cy="830.0" r="14.5" fill="#2878ff" stroke="#000" stroke-width="0.8"/>
<circle cx="335.0" cy="861.0" r="16.0" fill="#2040e8" stroke="#000" stroke-width="0.8"/>
<circle cx="335.0" cy="799.0" r="16.0" fill="#2040e8" stroke="#000" stroke-width="0.8"/>
<circle cx="368.0" cy="830.0" r="12.5" fill="#2040e8" stroke="#000" stroke-width="0.8"/>
<circle cx="302.0" cy="830.0" r="12.5" fill="#2040e8" stroke="#000" stroke-width="0.8"/>
<circle cx="335.0" cy="861.0" r="14.0" fill="#2018c0" stroke="#000" stroke-width="0.8"/>
<circle cx="335.0" cy="799.0" r="14.0" fill="#2018c0" stroke="#000" stroke-width="0.8"/>
<circle cx="368.0" cy="830.0" r="10.5" fill="#2018c0" stroke="#000" stroke-width="0.8"/>
<circle cx="302.0" cy="830.0" r="10.5" fill="#2018c0" stroke="#000" stroke-width="0.8"/>
<circle cx="335.0" cy="861.0" r="12.0" fill="#4010a8" stroke="#000" stroke-width="0.8"/>
<circle cx="335.0" cy="799.0" r="12.0" fill="#4010a8" stroke="#000" stroke-width="0.8"/>
<circle cx="368.0" cy="830.0" r="8.5" fill="#4010a8" stroke="#000" stroke-width="0.8"/>
<circle cx="302.0" cy="830.0" r="8.5" fill="#4010a8" stroke="#000" stroke-width="0.8"/>
<circle cx="335.0" cy="861.0" r="10.0" fill="#000000"/>
<circle cx="335.0" cy="799.0" r="10.0" fill="#000000"/>
<circle cx="368.0" cy="830.0" r="6.5" fill="#000000"/>
<circle cx="302.0" cy="830.0" r="6.5" fill="#000000"/>
<rect x="307.0" y="802.0" width="56" height="56" rx="14" fill="#000"/>
<path d="M364.7,859.7 L351.2,852.7 L357.7,846.2 Z" fill="#40ff28" stroke="#000" stroke-width="1.2"/>
<path d="M305.3,859.7 L312.3,846.2 L318.8,852.7 Z" fill="#40ff28" stroke="#000" stroke-width="1.2"/>
<path d="M305.3,800.3 L318.8,807.3 L312.3,813.8 Z" fill="#40ff28" stroke="#000" stroke-width="1.2"/>
<path d="M364.7,800.3 L357.7,813.8 L351.2,807.3 Z" fill="#40ff28" stroke="#000" stroke-width="1.2"/>
<ellipse cx="335.0" cy="808.0" rx="9.0" ry="13.0" fill="#ff10ff"/>
<ellipse cx="335.0" cy="852.0" rx="9.0" ry="13.0" fill="#ff10ff"/>
<ellipse cx="314.0" cy="830.0" rx="9.5" ry="4.5" fill="#ff10ff"/>
<ellipse cx="356.0" cy="830.0" rx="9.5" ry="4.5" fill="#ff10ff"/>
<line x1="335.0" y1="829.5" x2="350.6" y2="845.1" stroke="#ff1010" stroke-width="3.2"/>
<line x1="335.0" y1="829.5" x2="319.4" y2="845.1" stroke="#ff1010" stroke-width="3.2"/>
<line x1="335.0" y1="829.5" x2="319.4" y2="813.9" stroke="#ff1010" stroke-width="3.2"/>
<line x1="335.0" y1="829.5" x2="350.6" y2="813.9" stroke="#ff1010" stroke-width="3.2"/>
<circle cx="335.0" cy="829.5" r="6.3" fill="url(#redsph)"/>
<circle cx="238.0" cy="959.7" r="28.5" fill="#10ffd0" stroke="#000" stroke-width="1.3"/>
<circle cx="176.0" cy="959.7" r="28.5" fill="#10ffd0" stroke="#000" stroke-width="1.3"/>
<circle cx="207.0" cy="992.7" r="25.0" fill="#10ffd0" stroke="#000" stroke-width="1.3"/>
<circle cx="207.0" cy="926.7" r="25.0" fill="#10ffd0" stroke="#000" stroke-width="1.3"/>
<circle cx="238.0" cy="959.7" r="23.5" fill="#00f4ff" stroke="#000" stroke-width="1.2"/>
<circle cx="176.0" cy="959.7" r="23.5" fill="#00f4ff" stroke="#000" stroke-width="1.2"/>
<circle cx="207.0" cy="992.7" r="20.0" fill="#00f4ff" stroke="#000" stroke-width="1.2"/>
<circle cx="207.0" cy="926.7" r="20.0" fill="#00f4ff" stroke="#000" stroke-width="1.2"/>
<circle cx="238.0" cy="959.7" r="20.5" fill="#30b8ff" stroke="#000" stroke-width="0.8"/>
<circle cx="176.0" cy="959.7" r="20.5" fill="#30b8ff" stroke="#000" stroke-width="0.8"/>
<circle cx="207.0" cy="992.7" r="17.0" fill="#30b8ff" stroke="#000" stroke-width="0.8"/>
<circle cx="207.0" cy="926.7" r="17.0" fill="#30b8ff" stroke="#000" stroke-width="0.8"/>
<circle cx="238.0" cy="959.7" r="18.0" fill="#2878ff" stroke="#000" stroke-width="0.8"/>
<circle cx="176.0" cy="959.7" r="18.0" fill="#2878ff" stroke="#000" stroke-width="0.8"/>
<circle cx="207.0" cy="992.7" r="14.5" fill="#2878ff" stroke="#000" stroke-width="0.8"/>
<circle cx="207.0" cy="926.7" r="14.5" fill="#2878ff" stroke="#000" stroke-width="0.8"/>
<circle cx="238.0" cy="959.7" r="16.0" fill="#2040e8" stroke="#000" stroke-width="0.8"/>
<circle cx="176.0" cy="959.7" r="16.0" fill="#2040e8" stroke="#000" stroke-width="0.8"/>
<circle cx="207.0" cy="992.7" r="12.5" fill="#2040e8" stroke="#000" stroke-width="0.8"/>
<circle cx="207.0" cy="926.7" r="12.5" fill="#2040e8" stroke="#000" stroke-width="0.8"/>
<circle cx="238.0" cy="959.7" r="14.0" fill="#2018c0" stroke="#000" stroke-width="0.8"/>
<circle cx="176.0" cy="959.7" r="14.0" fill="#2018c0" stroke="#000" stroke-width="0.8"/>
<circle cx="207.0" cy="992.7" r="10.5" fill="#2018c0" stroke="#000" stroke-width="0.8"/>
<circle cx="207.0" cy="926.7" r="10.5" fill="#2018c0" stroke="#000" stroke-width="0.8"/>
<circle cx="238.0" cy="959.7" r="12.0" fill="#4010a8" stroke="#000" stroke-width="0.8"/>
<circle cx="176.0" cy="959.7" r="12.0" fill="#4010a8" stroke="#000" stroke-width="0.8"/>
<circle cx="207.0" cy="992.7" r="8.5" fill="#4010a8" stroke="#000" stroke-width="0.8"/>
<circle cx="207.0" cy="926.7" r="8.5" fill="#4010a8" stroke="#000" stroke-width="0.8"/>
<circle cx="238.0" cy="959.7" r="10.0" fill="#000000"/>
<circle cx="176.0" cy="959.7" r="10.0" fill="#000000"/>
<circle cx="207.0" cy="992.7" r="6.5" fill="#000000"/>
<circle cx="207.0" cy="926.7" r="6.5" fill="#000000"/>
<rect x="179.0" y="931.7" width="56" height="56" rx="14" fill="#000"/>
<path d="M236.7,989.4 L223.2,982.4 L229.7,975.9 Z" fill="#40ff28" stroke="#000" stroke-width="1.2"/>
<path d="M177.3,989.4 L184.3,975.9 L190.8,982.4 Z" fill="#40ff28" stroke="#000" stroke-width="1.2"/>
<path d="M177.3,930.0 L190.8,937.0 L184.3,943.5 Z" fill="#40ff28" stroke="#000" stroke-width="1.2"/>
<path d="M236.7,930.0 L229.7,943.5 L223.2,937.0 Z" fill="#40ff28" stroke="#000" stroke-width="1.2"/>
<ellipse cx="185.0" cy="959.7" rx="12.5" ry="9.5" fill="#ff10ff"/>
<ellipse cx="229.0" cy="959.7" rx="12.5" ry="9.5" fill="#ff10ff"/>
<ellipse cx="207.0" cy="938.7" rx="4.0" ry="9.5" fill="#ff10ff"/>
<ellipse cx="207.0" cy="980.7" rx="4.0" ry="9.5" fill="#ff10ff"/>
<line x1="203.5" y1="959.6" x2="219.1" y2="975.2" stroke="#ff1010" stroke-width="3.2"/>
<line x1="203.5" y1="959.6" x2="187.9" y2="975.2" stroke="#ff1010" stroke-width="3.2"/>
<line x1="203.5" y1="959.6" x2="187.9" y2="944.0" stroke="#ff1010" stroke-width="3.2"/>
<line x1="203.5" y1="959.6" x2="219.1" y2="944.0" stroke="#ff1010" stroke-width="3.2"/>
<circle cx="203.5" cy="959.6" r="6.3" fill="url(#redsph)"/>
<circle cx="493.0" cy="959.7" r="28.5" fill="#10ffd0" stroke="#000" stroke-width="1.3"/>
<circle cx="431.0" cy="959.7" r="28.5" fill="#10ffd0" stroke="#000" stroke-width="1.3"/>
<circle cx="462.0" cy="992.7" r="25.0" fill="#10ffd0" stroke="#000" stroke-width="1.3"/>
<circle cx="462.0" cy="926.7" r="25.0" fill="#10ffd0" stroke="#000" stroke-width="1.3"/>
<circle cx="493.0" cy="959.7" r="23.5" fill="#00f4ff" stroke="#000" stroke-width="1.2"/>
<circle cx="431.0" cy="959.7" r="23.5" fill="#00f4ff" stroke="#000" stroke-width="1.2"/>
<circle cx="462.0" cy="992.7" r="20.0" fill="#00f4ff" stroke="#000" stroke-width="1.2"/>
<circle cx="462.0" cy="926.7" r="20.0" fill="#00f4ff" stroke="#000" stroke-width="1.2"/>
<circle cx="493.0" cy="959.7" r="20.5" fill="#30b8ff" stroke="#000" stroke-width="0.8"/>
<circle cx="431.0" cy="959.7" r="20.5" fill="#30b8ff" stroke="#000" stroke-width="0.8"/>
<circle cx="462.0" cy="992.7" r="17.0" fill="#30b8ff" stroke="#000" stroke-width="0.8"/>
<circle cx="462.0" cy="926.7" r="17.0" fill="#30b8ff" stroke="#000" stroke-width="0.8"/>
<circle cx="493.0" cy="959.7" r="18.0" fill="#2878ff" stroke="#000" stroke-width="0.8"/>
<circle cx="431.0" cy="959.7" r="18.0" fill="#2878ff" stroke="#000" stroke-width="0.8"/>
<circle cx="462.0" cy="992.7" r="14.5" fill="#2878ff" stroke="#000" stroke-width="0.8"/>
<circle cx="462.0" cy="926.7" r="14.5" fill="#2878ff" stroke="#000" stroke-width="0.8"/>
<circle cx="493.0" cy="959.7" r="16.0" fill="#2040e8" stroke="#000" stroke-width="0.8"/>
<circle cx="431.0" cy="959.7" r="16.0" fill="#2040e8" stroke="#000" stroke-width="0.8"/>
<circle cx="462.0" cy="992.7" r="12.5" fill="#2040e8" stroke="#000" stroke-width="0.8"/>
<circle cx="462.0" cy="926.7" r="12.5" fill="#2040e8" stroke="#000" stroke-width="0.8"/>
<circle cx="493.0" cy="959.7" r="14.0" fill="#2018c0" stroke="#000" stroke-width="0.8"/>
<circle cx="431.0" cy="959.7" r="14.0" fill="#2018c0" stroke="#000" stroke-width="0.8"/>
<circle cx="462.0" cy="992.7" r="10.5" fill="#2018c0" stroke="#000" stroke-width="0.8"/>
<circle cx="462.0" cy="926.7" r="10.5" fill="#2018c0" stroke="#000" stroke-width="0.8"/>
<circle cx="493.0" cy="959.7" r="12.0" fill="#4010a8" stroke="#000" stroke-width="0.8"/>
<circle cx="431.0" cy="959.7" r="12.0" fill="#4010a8" stroke="#000" stroke-width="0.8"/>
<circle cx="462.0" cy="992.7" r="8.5" fill="#4010a8" stroke="#000" stroke-width="0.8"/>
<circle cx="462.0" cy="926.7" r="8.5" fill="#4010a8" stroke="#000" stroke-width="0.8"/>
<circle cx="493.0" cy="959.7" r="10.0" fill="#000000"/>
<circle cx="431.0" cy="959.7" r="10.0" fill="#000000"/>
<circle cx="462.0" cy="992.7" r="6.5" fill="#000000"/>
<circle cx="462.0" cy="926.7" r="6.5" fill="#000000"/>
<rect x="434.0" y="931.7" width="56" height="56" rx="14" fill="#000"/>
<path d="M491.7,989.4 L478.2,982.4 L484.7,975.9 Z" fill="#40ff28" stroke="#000" stroke-width="1.2"/>
<path d="M432.3,989.4 L439.3,975.9 L445.8,982.4 Z" fill="#40ff28" stroke="#000" stroke-width="1.2"/>
<path d="M432.3,930.0 L445.8,937.0 L439.3,943.5 Z" fill="#40ff28" stroke="#000" stroke-width="1.2"/>
<path d="M491.7,930.0 L484.7,943.5 L478.2,937.0 Z" fill="#40ff28" stroke="#000" stroke-width="1.2"/>
<ellipse cx="440.0" cy="959.7" rx="12.5" ry="9.5" fill="#ff10ff"/>
<ellipse cx="484.0" cy="959.7" rx="12.5" ry="9.5" fill="#ff10ff"/>
<ellipse cx="462.0" cy="938.7" rx="4.0" ry="9.5" fill="#ff10ff"/>
<ellipse cx="462.0" cy="980.7" rx="4.0" ry="9.5" fill="#ff10ff"/>
<line x1="467.5" y1="959.6" x2="483.1" y2="975.2" stroke="#ff1010" stroke-width="3.2"/>
<line x1="467.5" y1="959.6" x2="451.9" y2="975.2" stroke="#ff1010" stroke-width="3.2"/>
<line x1="467.5" y1="959.6" x2="451.9" y2="944.0" stroke="#ff1010" stroke-width="3.2"/>
<line x1="467.5" y1="959.6" x2="483.1" y2="944.0" stroke="#ff1010" stroke-width="3.2"/>
<circle cx="467.5" cy="959.6" r="6.3" fill="url(#redsph)"/>
<circle cx="335.0" cy="1120.3" r="28.5" fill="#10ffd0" stroke="#000" stroke-width="1.3"/>
<circle cx="335.0" cy="1058.3" r="28.5" fill="#10ffd0" stroke="#000" stroke-width="1.3"/>
<circle cx="368.0" cy="1089.3" r="25.0" fill="#10ffd0" stroke="#000" stroke-width="1.3"/>
<circle cx="302.0" cy="1089.3" r="25.0" fill="#10ffd0" stroke="#000" stroke-width="1.3"/>
<circle cx="335.0" cy="1120.3" r="23.5" fill="#00f4ff" stroke="#000" stroke-width="1.2"/>
<circle cx="335.0" cy="1058.3" r="23.5" fill="#00f4ff" stroke="#000" stroke-width="1.2"/>
<circle cx="368.0" cy="1089.3" r="20.0" fill="#00f4ff" stroke="#000" stroke-width="1.2"/>
<circle cx="302.0" cy="1089.3" r="20.0" fill="#00f4ff" stroke="#000" stroke-width="1.2"/>
<circle cx="335.0" cy="1120.3" r="20.5" fill="#30b8ff" stroke="#000" stroke-width="0.8"/>
<circle cx="335.0" cy="1058.3" r="20.5" fill="#30b8ff" stroke="#000" stroke-width="0.8"/>
<circle cx="368.0" cy="1089.3" r="17.0" fill="#30b8ff" stroke="#000" stroke-width="0.8"/>
<circle cx="302.0" cy="1089.3" r="17.0" fill="#30b8ff" stroke="#000" stroke-width="0.8"/>
<circle cx="335.0" cy="1120.3" r="18.0" fill="#2878ff" stroke="#000" stroke-width="0.8"/>
<circle cx="335.0" cy="1058.3" r="18.0" fill="#2878ff" stroke="#000" stroke-width="0.8"/>
<circle cx="368.0" cy="1089.3" r="14.5" fill="#2878ff" stroke="#000" stroke-width="0.8"/>
<circle cx="302.0" cy="1089.3" r="14.5" fill="#2878ff" stroke="#000" stroke-width="0.8"/>
<circle cx="335.0" cy="1120.3" r="16.0" fill="#2040e8" stroke="#000" stroke-width="0.8"/>
<circle cx="335.0" cy="1058.3" r="16.0" fill="#2040e8" stroke="#000" stroke-width="0.8"/>
<circle cx="368.0" cy="1089.3" r="12.5" fill="#2040e8" stroke="#000" stroke-width="0.8"/>
<circle cx="302.0" cy="1089.3" r="12.5" fill="#2040e8" stroke="#000" stroke-width="0.8"/>
<circle cx="335.0" cy="1120.3" r="14.0" fill="#2018c0" stroke="#000" stroke-width="0.8"/>
<circle cx="335.0" cy="1058.3" r="14.0" fill="#2018c0" stroke="#000" stroke-width="0.8"/>
<circle cx="368.0" cy="1089.3" r="10.5" fill="#2018c0" stroke="#000" stroke-width="0.8"/>
<circle cx="302.0" cy="1089.3" r="10.5" fill="#2018c0" stroke="#000" stroke-width="0.8"/>
<circle cx="335.0" cy="1120.3" r="12.0" fill="#4010a8" stroke="#000" stroke-width="0.8"/>
<circle cx="335.0" cy="1058.3" r="12.0" fill="#4010a8" stroke="#000" stroke-width="0.8"/>
<circle cx="368.0" cy="1089.3" r="8.5" fill="#4010a8" stroke="#000" stroke-width="0.8"/>
<circle cx="302.0" cy="1089.3" r="8.5" fill="#4010a8" stroke="#000" stroke-width="0.8"/>
<circle cx="335.0" cy="1120.3" r="10.0" fill="#000000"/>
<circle cx="335.0" cy="1058.3" r="10.0" fill="#000000"/>
<circle cx="368.0" cy="1089.3" r="6.5" fill="#000000"/>
<circle cx="302.0" cy="1089.3" r="6.5" fill="#000000"/>
<rect x="307.0" y="1061.3" width="56" height="56" rx="14" fill="#000"/>
<path d="M364.7,1119.0 L351.2,1112.0 L357.7,1105.5 Z" fill="#40ff28" stroke="#000" stroke-width="1.2"/>
<path d="M305.3,1119.0 L312.3,1105.5 L318.8,1112.0 Z" fill="#40ff28" stroke="#000" stroke-width="1.2"/>
<path d="M305.3,1059.6 L318.8,1066.6 L312.3,1073.1 Z" fill="#40ff28" stroke="#000" stroke-width="1.2"/>
<path d="M364.7,1059.6 L357.7,1073.1 L351.2,1066.6 Z" fill="#40ff28" stroke="#000" stroke-width="1.2"/>
<ellipse cx="335.0" cy="1067.3" rx="9.0" ry="13.0" fill="#ff10ff"/>
<ellipse cx="335.0" cy="1111.3" rx="9.0" ry="13.0" fill="#ff10ff"/>
<ellipse cx="314.0" cy="1089.3" rx="9.5" ry="4.5" fill="#ff10ff"/>
<ellipse cx="356.0" cy="1089.3" rx="9.5" ry="4.5" fill="#ff10ff"/>
<line x1="335.0" y1="1089.3" x2="350.6" y2="1104.9" stroke="#ff1010" stroke-width="3.2"/>
<line x1="335.0" y1="1089.3" x2="319.4" y2="1104.9" stroke="#ff1010" stroke-width="3.2"/>
<line x1="335.0" y1="1089.3" x2="319.4" y2="1073.7" stroke="#ff1010" stroke-width="3.2"/>
<line x1="335.0" y1="1089.3" x2="350.6" y2="1073.7" stroke="#ff1010" stroke-width="3.2"/>
<circle cx="335.0" cy="1089.3" r="6.3" fill="url(#redsph)"/>
</g>
<text x="355.0" y="793.7" font-size="28">Ni</text>
<text x="225.8" y="916.7" font-size="28">Ni</text>
<text x="477.8" y="916.7" font-size="28">Ni</text>
<text x="355.0" y="1052.6" font-size="28">Ni</text>
<text x="431" y="1129" font-size="34">[100]</text>
<g clip-path="url(#cTR)">
<rect x="608.8" y="769.2" width="376.6" height="382.3" fill="url(#bgTR)"/>
<path d="M765.2,639.8 L830.2,639.8 L867.2,676.8 L867.2,742.8 L830.2,779.8 L765.2,779.8 L728.2,742.8 L728.2,676.8 Z" fill="#18ffe0" stroke="#000" stroke-width="1.3" stroke-linejoin="round" stroke-dasharray="5 1.8"/>
<path d="M771.4,646.6 L824.0,646.6 L860.5,683.1 L860.5,736.5 L824.0,773.0 L771.4,773.0 L734.9,736.5 L734.9,683.1 Z" fill="url(#chalo)" stroke="#000" stroke-width="1.3" stroke-linejoin="round" stroke-dasharray="5 1.8"/>
<g transform="translate(797.7 709.8) rotate(0)"><path d="M-18.5,-54.4 Q0,-47.4 18.5,-54.4 Q21.0,-48.4 16.0,-41.9 Q0,-34.4 -16.0,-41.9 Q-21.0,-48.4 -18.5,-54.4 Z" fill="#20b8f8" stroke="#000" stroke-width="1.2" stroke-dasharray="5 1.5"/></g>
<g transform="translate(797.7 709.8) rotate(90)"><path d="M-18.5,-54.4 Q0,-47.4 18.5,-54.4 Q21.0,-48.4 16.0,-41.9 Q0,-34.4 -16.0,-41.9 Q-21.0,-48.4 -18.5,-54.4 Z" fill="#20b8f8" stroke="#000" stroke-width="1.2" stroke-dasharray="5 1.5"/></g>
<g transform="translate(797.7 709.8) rotate(180)"><path d="M-18.5,-54.4 Q0,-47.4 18.5,-54.4 Q21.0,-48.4 16.0,-41.9 Q0,-34.4 -16.0,-41.9 Q-21.0,-48.4 -18.5,-54.4 Z" fill="#20b8f8" stroke="#000" stroke-width="1.2" stroke-dasharray="5 1.5"/></g>
<g transform="translate(797.7 709.8) rotate(270)"><path d="M-18.5,-54.4 Q0,-47.4 18.5,-54.4 Q21.0,-48.4 16.0,-41.9 Q0,-34.4 -16.0,-41.9 Q-21.0,-48.4 -18.5,-54.4 Z" fill="#20b8f8" stroke="#000" stroke-width="1.2" stroke-dasharray="5 1.5"/></g>
<path d="M812.9,725.0 L819.7,728.5 L816.4,731.8 Z" fill="#20d0e0" stroke="#000" stroke-width="1"/>
<path d="M782.5,725.0 L779.0,731.8 L775.7,728.5 Z" fill="#20d0e0" stroke="#000" stroke-width="1"/>
<path d="M782.5,694.6 L775.7,691.1 L779.0,687.8 Z" fill="#20d0e0" stroke="#000" stroke-width="1"/>
<path d="M812.9,694.6 L816.4,687.8 L819.7,691.1 Z" fill="#20d0e0" stroke="#000" stroke-width="1"/>
<path d="M782.6,683.8 L812.8,683.8 L823.7,694.7 L823.7,724.9 L812.8,735.8 L782.6,735.8 L771.7,724.9 L771.7,694.7 Z" fill="#28c8ff" stroke="#000" stroke-width="1.1" stroke-linejoin="round"/>
<path d="M784.9,687.8 L810.5,687.8 L819.7,697.0 L819.7,722.6 L810.5,731.8 L784.9,731.8 L775.7,722.6 L775.7,697.0 Z" fill="#2080ff" stroke="#000" stroke-width="1.1" stroke-linejoin="round"/>
<path d="M787.0,691.3 L808.4,691.3 L816.2,699.1 L816.2,720.5 L808.4,728.3 L787.0,728.3 L779.2,720.5 L779.2,699.1 Z" fill="#1830f0" stroke="#000" stroke-width="1.1" stroke-linejoin="round"/>
<path d="M789.0,694.8 L806.4,694.8 L812.7,701.1 L812.7,718.5 L806.4,724.8 L789.0,724.8 L782.7,718.5 L782.7,701.1 Z" fill="#0808c0" stroke="#000" stroke-width="1.1" stroke-linejoin="round"/>
<path d="M790.7,697.8 L804.7,697.8 L809.7,702.8 L809.7,716.8 L804.7,721.8 L790.7,721.8 L785.7,716.8 L785.7,702.8 Z" fill="#000000" stroke="#000" stroke-width="1.1" stroke-linejoin="round"/>
<path d="M799.7,704.8 l5,5 l-5,5 l-5,-5 Z" fill="#ff2020"/>
<circle cx="794.7" cy="707.8" r="5.3" fill="url(#csph)"/>
<path d="M765.2,1139.8 L830.2,1139.8 L867.2,1176.8 L867.2,1242.8 L830.2,1279.8 L765.2,1279.8 L728.2,1242.8 L728.2,1176.8 Z" fill="#18ffe0" stroke="#000" stroke-width="1.3" stroke-linejoin="round" stroke-dasharray="5 1.8"/>
<path d="M771.4,1146.6 L824.0,1146.6 L860.5,1183.1 L860.5,1236.5 L824.0,1273.0 L771.4,1273.0 L734.9,1236.5 L734.9,1183.1 Z" fill="url(#chalo)" stroke="#000" stroke-width="1.3" stroke-linejoin="round" stroke-dasharray="5 1.8"/>
<g transform="translate(797.7 1209.8) rotate(0)"><path d="M-18.5,-54.4 Q0,-47.4 18.5,-54.4 Q21.0,-48.4 16.0,-41.9 Q0,-34.4 -16.0,-41.9 Q-21.0,-48.4 -18.5,-54.4 Z" fill="#20b8f8" stroke="#000" stroke-width="1.2" stroke-dasharray="5 1.5"/></g>
<g transform="translate(797.7 1209.8) rotate(90)"><path d="M-18.5,-54.4 Q0,-47.4 18.5,-54.4 Q21.0,-48.4 16.0,-41.9 Q0,-34.4 -16.0,-41.9 Q-21.0,-48.4 -18.5,-54.4 Z" fill="#20b8f8" stroke="#000" stroke-width="1.2" stroke-dasharray="5 1.5"/></g>
<g transform="translate(797.7 1209.8) rotate(180)"><path d="M-18.5,-54.4 Q0,-47.4 18.5,-54.4 Q21.0,-48.4 16.0,-41.9 Q0,-34.4 -16.0,-41.9 Q-21.0,-48.4 -18.5,-54.4 Z" fill="#20b8f8" stroke="#000" stroke-width="1.2" stroke-dasharray="5 1.5"/></g>
<g transform="translate(797.7 1209.8) rotate(270)"><path d="M-18.5,-54.4 Q0,-47.4 18.5,-54.4 Q21.0,-48.4 16.0,-41.9 Q0,-34.4 -16.0,-41.9 Q-21.0,-48.4 -18.5,-54.4 Z" fill="#20b8f8" stroke="#000" stroke-width="1.2" stroke-dasharray="5 1.5"/></g>
<path d="M812.9,1225.0 L819.7,1228.5 L816.4,1231.8 Z" fill="#20d0e0" stroke="#000" stroke-width="1"/>
<path d="M782.5,1225.0 L779.0,1231.8 L775.7,1228.5 Z" fill="#20d0e0" stroke="#000" stroke-width="1"/>
<path d="M782.5,1194.6 L775.7,1191.1 L779.0,1187.8 Z" fill="#20d0e0" stroke="#000" stroke-width="1"/>
<path d="M812.9,1194.6 L816.4,1187.8 L819.7,1191.1 Z" fill="#20d0e0" stroke="#000" stroke-width="1"/>
<path d="M782.6,1183.8 L812.8,1183.8 L823.7,1194.7 L823.7,1224.9 L812.8,1235.8 L782.6,1235.8 L771.7,1224.9 L771.7,1194.7 Z" fill="#28c8ff" stroke="#000" stroke-width="1.1" stroke-linejoin="round"/>
<path d="M784.9,1187.8 L810.5,1187.8 L819.7,1197.0 L819.7,1222.6 L810.5,1231.8 L784.9,1231.8 L775.7,1222.6 L775.7,1197.0 Z" fill="#2080ff" stroke="#000" stroke-width="1.1" stroke-linejoin="round"/>
<path d="M787.0,1191.3 L808.4,1191.3 L816.2,1199.1 L816.2,1220.5 L808.4,1228.3 L787.0,1228.3 L779.2,1220.5 L779.2,1199.1 Z" fill="#1830f0" stroke="#000" stroke-width="1.1" stroke-linejoin="round"/>
<path d="M789.0,1194.8 L806.4,1194.8 L812.7,1201.1 L812.7,1218.5 L806.4,1224.8 L789.0,1224.8 L782.7,1218.5 L782.7,1201.1 Z" fill="#0808c0" stroke="#000" stroke-width="1.1" stroke-linejoin="round"/>
<path d="M790.7,1197.8 L804.7,1197.8 L809.7,1202.8 L809.7,1216.8 L804.7,1221.8 L790.7,1221.8 L785.7,1216.8 L785.7,1202.8 Z" fill="#000000" stroke="#000" stroke-width="1.1" stroke-linejoin="round"/>
<path d="M799.7,1204.8 l5,5 l-5,5 l-5,-5 Z" fill="#ff2020"/>
<circle cx="794.7" cy="1207.8" r="5.3" fill="url(#csph)"/>
<path d="M512.2,889.8 L577.2,889.8 L614.2,926.8 L614.2,992.8 L577.2,1029.8 L512.2,1029.8 L475.2,992.8 L475.2,926.8 Z" fill="#18ffe0" stroke="#000" stroke-width="1.3" stroke-linejoin="round" stroke-dasharray="5 1.8"/>
<path d="M518.4,896.6 L571.0,896.6 L607.5,933.1 L607.5,986.5 L571.0,1023.0 L518.4,1023.0 L481.9,986.5 L481.9,933.1 Z" fill="url(#chalo)" stroke="#000" stroke-width="1.3" stroke-linejoin="round" stroke-dasharray="5 1.8"/>
<g transform="translate(544.7 959.8) rotate(0)"><path d="M-18.5,-54.4 Q0,-47.4 18.5,-54.4 Q21.0,-48.4 16.0,-41.9 Q0,-34.4 -16.0,-41.9 Q-21.0,-48.4 -18.5,-54.4 Z" fill="#20b8f8" stroke="#000" stroke-width="1.2" stroke-dasharray="5 1.5"/></g>
<g transform="translate(544.7 959.8) rotate(90)"><path d="M-18.5,-54.4 Q0,-47.4 18.5,-54.4 Q21.0,-48.4 16.0,-41.9 Q0,-34.4 -16.0,-41.9 Q-21.0,-48.4 -18.5,-54.4 Z" fill="#20b8f8" stroke="#000" stroke-width="1.2" stroke-dasharray="5 1.5"/></g>
<g transform="translate(544.7 959.8) rotate(180)"><path d="M-18.5,-54.4 Q0,-47.4 18.5,-54.4 Q21.0,-48.4 16.0,-41.9 Q0,-34.4 -16.0,-41.9 Q-21.0,-48.4 -18.5,-54.4 Z" fill="#20b8f8" stroke="#000" stroke-width="1.2" stroke-dasharray="5 1.5"/></g>
<g transform="translate(544.7 959.8) rotate(270)"><path d="M-18.5,-54.4 Q0,-47.4 18.5,-54.4 Q21.0,-48.4 16.0,-41.9 Q0,-34.4 -16.0,-41.9 Q-21.0,-48.4 -18.5,-54.4 Z" fill="#20b8f8" stroke="#000" stroke-width="1.2" stroke-dasharray="5 1.5"/></g>
<path d="M559.9,975.0 L566.7,978.5 L563.4,981.8 Z" fill="#20d0e0" stroke="#000" stroke-width="1"/>
<path d="M529.5,975.0 L526.0,981.8 L522.7,978.5 Z" fill="#20d0e0" stroke="#000" stroke-width="1"/>
<path d="M529.5,944.6 L522.7,941.1 L526.0,937.8 Z" fill="#20d0e0" stroke="#000" stroke-width="1"/>
<path d="M559.9,944.6 L563.4,937.8 L566.7,941.1 Z" fill="#20d0e0" stroke="#000" stroke-width="1"/>
<path d="M529.6,933.8 L559.8,933.8 L570.7,944.7 L570.7,974.9 L559.8,985.8 L529.6,985.8 L518.7,974.9 L518.7,944.7 Z" fill="#28c8ff" stroke="#000" stroke-width="1.1" stroke-linejoin="round"/>
<path d="M531.9,937.8 L557.5,937.8 L566.7,947.0 L566.7,972.6 L557.5,981.8 L531.9,981.8 L522.7,972.6 L522.7,947.0 Z" fill="#2080ff" stroke="#000" stroke-width="1.1" stroke-linejoin="round"/>
<path d="M534.0,941.3 L555.4,941.3 L563.2,949.1 L563.2,970.5 L555.4,978.3 L534.0,978.3 L526.2,970.5 L526.2,949.1 Z" fill="#1830f0" stroke="#000" stroke-width="1.1" stroke-linejoin="round"/>
<path d="M536.0,944.8 L553.4,944.8 L559.7,951.1 L559.7,968.5 L553.4,974.8 L536.0,974.8 L529.7,968.5 L529.7,951.1 Z" fill="#0808c0" stroke="#000" stroke-width="1.1" stroke-linejoin="round"/>
<path d="M537.7,947.8 L551.7,947.8 L556.7,952.8 L556.7,966.8 L551.7,971.8 L537.7,971.8 L532.7,966.8 L532.7,952.8 Z" fill="#000000" stroke="#000" stroke-width="1.1" stroke-linejoin="round"/>
<path d="M546.7,954.8 l5,5 l-5,5 l-5,-5 Z" fill="#ff2020"/>
<circle cx="541.7" cy="957.8" r="5.3" fill="url(#csph)"/>
<path d="M1018.2,889.8 L1083.2,889.8 L1120.2,926.8 L1120.2,992.8 L1083.2,1029.8 L1018.2,1029.8 L981.2,992.8 L981.2,926.8 Z" fill="#18ffe0" stroke="#000" stroke-width="1.3" stroke-linejoin="round" stroke-dasharray="5 1.8"/>
<path d="M1024.4,896.6 L1077.0,896.6 L1113.5,933.1 L1113.5,986.5 L1077.0,1023.0 L1024.4,1023.0 L987.9,986.5 L987.9,933.1 Z" fill="url(#chalo)" stroke="#000" stroke-width="1.3" stroke-linejoin="round" stroke-dasharray="5 1.8"/>
<g transform="translate(1050.7 959.8) rotate(0)"><path d="M-18.5,-54.4 Q0,-47.4 18.5,-54.4 Q21.0,-48.4 16.0,-41.9 Q0,-34.4 -16.0,-41.9 Q-21.0,-48.4 -18.5,-54.4 Z" fill="#20b8f8" stroke="#000" stroke-width="1.2" stroke-dasharray="5 1.5"/></g>
<g transform="translate(1050.7 959.8) rotate(90)"><path d="M-18.5,-54.4 Q0,-47.4 18.5,-54.4 Q21.0,-48.4 16.0,-41.9 Q0,-34.4 -16.0,-41.9 Q-21.0,-48.4 -18.5,-54.4 Z" fill="#20b8f8" stroke="#000" stroke-width="1.2" stroke-dasharray="5 1.5"/></g>
<g transform="translate(1050.7 959.8) rotate(180)"><path d="M-18.5,-54.4 Q0,-47.4 18.5,-54.4 Q21.0,-48.4 16.0,-41.9 Q0,-34.4 -16.0,-41.9 Q-21.0,-48.4 -18.5,-54.4 Z" fill="#20b8f8" stroke="#000" stroke-width="1.2" stroke-dasharray="5 1.5"/></g>
<g transform="translate(1050.7 959.8) rotate(270)"><path d="M-18.5,-54.4 Q0,-47.4 18.5,-54.4 Q21.0,-48.4 16.0,-41.9 Q0,-34.4 -16.0,-41.9 Q-21.0,-48.4 -18.5,-54.4 Z" fill="#20b8f8" stroke="#000" stroke-width="1.2" stroke-dasharray="5 1.5"/></g>
<path d="M1065.9,975.0 L1072.7,978.5 L1069.4,981.8 Z" fill="#20d0e0" stroke="#000" stroke-width="1"/>
<path d="M1035.5,975.0 L1032.0,981.8 L1028.7,978.5 Z" fill="#20d0e0" stroke="#000" stroke-width="1"/>
<path d="M1035.5,944.6 L1028.7,941.1 L1032.0,937.8 Z" fill="#20d0e0" stroke="#000" stroke-width="1"/>
<path d="M1065.9,944.6 L1069.4,937.8 L1072.7,941.1 Z" fill="#20d0e0" stroke="#000" stroke-width="1"/>
<path d="M1035.6,933.8 L1065.8,933.8 L1076.7,944.7 L1076.7,974.9 L1065.8,985.8 L1035.6,985.8 L1024.7,974.9 L1024.7,944.7 Z" fill="#28c8ff" stroke="#000" stroke-width="1.1" stroke-linejoin="round"/>
<path d="M1037.9,937.8 L1063.5,937.8 L1072.7,947.0 L1072.7,972.6 L1063.5,981.8 L1037.9,981.8 L1028.7,972.6 L1028.7,947.0 Z" fill="#2080ff" stroke="#000" stroke-width="1.1" stroke-linejoin="round"/>
<path d="M1040.0,941.3 L1061.4,941.3 L1069.2,949.1 L1069.2,970.5 L1061.4,978.3 L1040.0,978.3 L1032.2,970.5 L1032.2,949.1 Z" fill="#1830f0" stroke="#000" stroke-width="1.1" stroke-linejoin="round"/>
<path d="M1042.0,944.8 L1059.4,944.8 L1065.7,951.1 L1065.7,968.5 L1059.4,974.8 L1042.0,974.8 L1035.7,968.5 L1035.7,951.1 Z" fill="#0808c0" stroke="#000" stroke-width="1.1" stroke-linejoin="round"/>
<path d="M1043.7,947.8 L1057.7,947.8 L1062.7,952.8 L1062.7,966.8 L1057.7,971.8 L1043.7,971.8 L1038.7,966.8 L1038.7,952.8 Z" fill="#000000" stroke="#000" stroke-width="1.1" stroke-linejoin="round"/>
<path d="M1052.7,954.8 l5,5 l-5,5 l-5,-5 Z" fill="#ff2020"/>
<circle cx="1047.7" cy="957.8" r="5.3" fill="url(#csph)"/>
<path d="M765.2,889.8 L830.2,889.8 L867.2,926.8 L867.2,992.8 L830.2,1029.8 L765.2,1029.8 L728.2,992.8 L728.2,926.8 Z" fill="#18ffe0" stroke="#000" stroke-width="1.3" stroke-linejoin="round" stroke-dasharray="5 1.8"/>
<path d="M771.4,896.6 L824.0,896.6 L860.5,933.1 L860.5,986.5 L824.0,1023.0 L771.4,1023.0 L734.9,986.5 L734.9,933.1 Z" fill="url(#chalo)" stroke="#000" stroke-width="1.3" stroke-linejoin="round" stroke-dasharray="5 1.8"/>
<g transform="translate(797.7 959.8) rotate(0)"><path d="M-18.5,-54.4 Q0,-47.4 18.5,-54.4 Q21.0,-48.4 16.0,-41.9 Q0,-34.4 -16.0,-41.9 Q-21.0,-48.4 -18.5,-54.4 Z" fill="#20b8f8" stroke="#000" stroke-width="1.2" stroke-dasharray="5 1.5"/></g>
<g transform="translate(797.7 959.8) rotate(90)"><path d="M-18.5,-54.4 Q0,-47.4 18.5,-54.4 Q21.0,-48.4 16.0,-41.9 Q0,-34.4 -16.0,-41.9 Q-21.0,-48.4 -18.5,-54.4 Z" fill="#20b8f8" stroke="#000" stroke-width="1.2" stroke-dasharray="5 1.5"/></g>
<g transform="translate(797.7 959.8) rotate(180)"><path d="M-18.5,-54.4 Q0,-47.4 18.5,-54.4 Q21.0,-48.4 16.0,-41.9 Q0,-34.4 -16.0,-41.9 Q-21.0,-48.4 -18.5,-54.4 Z" fill="#20b8f8" stroke="#000" stroke-width="1.2" stroke-dasharray="5 1.5"/></g>
<g transform="translate(797.7 959.8) rotate(270)"><path d="M-18.5,-54.4 Q0,-47.4 18.5,-54.4 Q21.0,-48.4 16.0,-41.9 Q0,-34.4 -16.0,-41.9 Q-21.0,-48.4 -18.5,-54.4 Z" fill="#20b8f8" stroke="#000" stroke-width="1.2" stroke-dasharray="5 1.5"/></g>
<path d="M812.9,975.0 L819.7,978.5 L816.4,981.8 Z" fill="#20d0e0" stroke="#000" stroke-width="1"/>
<path d="M782.5,975.0 L779.0,981.8 L775.7,978.5 Z" fill="#20d0e0" stroke="#000" stroke-width="1"/>
<path d="M782.5,944.6 L775.7,941.1 L779.0,937.8 Z" fill="#20d0e0" stroke="#000" stroke-width="1"/>
<path d="M812.9,944.6 L816.4,937.8 L819.7,941.1 Z" fill="#20d0e0" stroke="#000" stroke-width="1"/>
<path d="M782.6,933.8 L812.8,933.8 L823.7,944.7 L823.7,974.9 L812.8,985.8 L782.6,985.8 L771.7,974.9 L771.7,944.7 Z" fill="#28c8ff" stroke="#000" stroke-width="1.1" stroke-linejoin="round"/>
<path d="M784.9,937.8 L810.5,937.8 L819.7,947.0 L819.7,972.6 L810.5,981.8 L784.9,981.8 L775.7,972.6 L775.7,947.0 Z" fill="#2080ff" stroke="#000" stroke-width="1.1" stroke-linejoin="round"/>
<path d="M787.0,941.3 L808.4,941.3 L816.2,949.1 L816.2,970.5 L808.4,978.3 L787.0,978.3 L779.2,970.5 L779.2,949.1 Z" fill="#1830f0" stroke="#000" stroke-width="1.1" stroke-linejoin="round"/>
<path d="M789.0,944.8 L806.4,944.8 L812.7,951.1 L812.7,968.5 L806.4,974.8 L789.0,974.8 L782.7,968.5 L782.7,951.1 Z" fill="#0808c0" stroke="#000" stroke-width="1.1" stroke-linejoin="round"/>
<path d="M790.7,947.8 L804.7,947.8 L809.7,952.8 L809.7,966.8 L804.7,971.8 L790.7,971.8 L785.7,966.8 L785.7,952.8 Z" fill="#000000" stroke="#000" stroke-width="1.1" stroke-linejoin="round"/>
<path d="M799.7,954.8 l5,5 l-5,5 l-5,-5 Z" fill="#ff2020"/>
<circle cx="794.6" cy="957.7" r="5.3" fill="url(#csph)"/>
<g transform="rotate(0 795.0 833.8)">
<ellipse cx="798.0" cy="800.8" rx="33.0" ry="19.0" fill="#30ff40" stroke="#000" stroke-width="1.4"/>
<ellipse cx="798.0" cy="802.3" rx="27.4" ry="15.8" fill="#70ff00" stroke="#000" stroke-width="1.4"/>
<ellipse cx="798.0" cy="803.8" rx="21.8" ry="12.5" fill="#b8e800" stroke="#000" stroke-width="1.4"/>
<ellipse cx="798.0" cy="805.3" rx="16.2" ry="9.3" fill="#e8a000" stroke="#000" stroke-width="1.4"/>
<ellipse cx="798.0" cy="866.8" rx="33.0" ry="19.0" fill="#30ff40" stroke="#000" stroke-width="1.4"/>
<ellipse cx="798.0" cy="865.3" rx="27.4" ry="15.8" fill="#70ff00" stroke="#000" stroke-width="1.4"/>
<ellipse cx="798.0" cy="863.8" rx="21.8" ry="12.5" fill="#b8e800" stroke="#000" stroke-width="1.4"/>
<ellipse cx="798.0" cy="862.3" rx="16.2" ry="9.3" fill="#e8a000" stroke="#000" stroke-width="1.4"/>
<circle cx="816.0" cy="833.8" r="30.0" fill="#10f0d0" stroke="#000" stroke-width="1.4"/>
<circle cx="774.0" cy="833.8" r="30.0" fill="#10f0d0" stroke="#000" stroke-width="1.4"/>
<circle cx="815.5" cy="833.8" r="25.8" fill="#00e0ff" stroke="#000" stroke-width="1.4"/>
<circle cx="774.5" cy="833.8" r="25.8" fill="#00e0ff" stroke="#000" stroke-width="1.4"/>
<circle cx="815.0" cy="833.8" r="22.2" fill="#30a8ff" stroke="#000" stroke-width="1.4"/>
<circle cx="775.0" cy="833.8" r="22.2" fill="#30a8ff" stroke="#000" stroke-width="1.4"/>
<circle cx="814.5" cy="833.8" r="19.2" fill="#2868ff" stroke="#000" stroke-width="1.4"/>
<circle cx="775.5" cy="833.8" r="19.2" fill="#2868ff" stroke="#000" stroke-width="1.4"/>
<circle cx="814.0" cy="833.8" r="16.5" fill="#2030e0" stroke="#000" stroke-width="1.4"/>
<circle cx="776.0" cy="833.8" r="16.5" fill="#2030e0" stroke="#000" stroke-width="1.4"/>
<circle cx="813.5" cy="833.8" r="14.1" fill="#1818b0" stroke="#000" stroke-width="1.4"/>
<circle cx="776.5" cy="833.8" r="14.1" fill="#1818b0" stroke="#000" stroke-width="1.4"/>
<circle cx="813.0" cy="833.8" r="12.0" fill="#300090" stroke="#000" stroke-width="1.4"/>
<circle cx="777.0" cy="833.8" r="12.0" fill="#300090" stroke="#000" stroke-width="1.4"/>
<ellipse cx="797.0" cy="834.8" rx="22.0" ry="36.0" fill="#000"/>
<ellipse cx="799.0" cy="813.8" rx="10.8" ry="15.5" fill="#ff1800"/>
<ellipse cx="799.0" cy="855.8" rx="10.8" ry="15.5" fill="#ff1800"/>
<rect x="794.5" y="818.8" width="9" height="30" fill="#ff4000"/>
<ellipse cx="781.7" cy="835.8" rx="6.5" ry="13.7" fill="#ff00ff"/>
<ellipse cx="814.5" cy="835.8" rx="6.5" ry="13.7" fill="#ff00ff"/>
</g>
<circle cx="795.0" cy="833.8" r="6.0" fill="url(#redsph)"/>
<g transform="rotate(0 795.0 1081.8)">
<ellipse cx="798.0" cy="1048.8" rx="33.0" ry="19.0" fill="#30ff40" stroke="#000" stroke-width="1.4"/>
<ellipse cx="798.0" cy="1050.3" rx="27.4" ry="15.8" fill="#70ff00" stroke="#000" stroke-width="1.4"/>
<ellipse cx="798.0" cy="1051.8" rx="21.8" ry="12.5" fill="#b8e800" stroke="#000" stroke-width="1.4"/>
<ellipse cx="798.0" cy="1053.3" rx="16.2" ry="9.3" fill="#e8a000" stroke="#000" stroke-width="1.4"/>
<ellipse cx="798.0" cy="1114.8" rx="33.0" ry="19.0" fill="#30ff40" stroke="#000" stroke-width="1.4"/>
<ellipse cx="798.0" cy="1113.3" rx="27.4" ry="15.8" fill="#70ff00" stroke="#000" stroke-width="1.4"/>
<ellipse cx="798.0" cy="1111.8" rx="21.8" ry="12.5" fill="#b8e800" stroke="#000" stroke-width="1.4"/>
<ellipse cx="798.0" cy="1110.3" rx="16.2" ry="9.3" fill="#e8a000" stroke="#000" stroke-width="1.4"/>
<circle cx="816.0" cy="1081.8" r="30.0" fill="#10f0d0" stroke="#000" stroke-width="1.4"/>
<circle cx="774.0" cy="1081.8" r="30.0" fill="#10f0d0" stroke="#000" stroke-width="1.4"/>
<circle cx="815.5" cy="1081.8" r="25.8" fill="#00e0ff" stroke="#000" stroke-width="1.4"/>
<circle cx="774.5" cy="1081.8" r="25.8" fill="#00e0ff" stroke="#000" stroke-width="1.4"/>
<circle cx="815.0" cy="1081.8" r="22.2" fill="#30a8ff" stroke="#000" stroke-width="1.4"/>
<circle cx="775.0" cy="1081.8" r="22.2" fill="#30a8ff" stroke="#000" stroke-width="1.4"/>
<circle cx="814.5" cy="1081.8" r="19.2" fill="#2868ff" stroke="#000" stroke-width="1.4"/>
<circle cx="775.5" cy="1081.8" r="19.2" fill="#2868ff" stroke="#000" stroke-width="1.4"/>
<circle cx="814.0" cy="1081.8" r="16.5" fill="#2030e0" stroke="#000" stroke-width="1.4"/>
<circle cx="776.0" cy="1081.8" r="16.5" fill="#2030e0" stroke="#000" stroke-width="1.4"/>
<circle cx="813.5" cy="1081.8" r="14.1" fill="#1818b0" stroke="#000" stroke-width="1.4"/>
<circle cx="776.5" cy="1081.8" r="14.1" fill="#1818b0" stroke="#000" stroke-width="1.4"/>
<circle cx="813.0" cy="1081.8" r="12.0" fill="#300090" stroke="#000" stroke-width="1.4"/>
<circle cx="777.0" cy="1081.8" r="12.0" fill="#300090" stroke="#000" stroke-width="1.4"/>
<ellipse cx="797.0" cy="1082.8" rx="22.0" ry="36.0" fill="#000"/>
<ellipse cx="799.0" cy="1061.8" rx="10.8" ry="15.5" fill="#ff1800"/>
<ellipse cx="799.0" cy="1103.8" rx="10.8" ry="15.5" fill="#ff1800"/>
<rect x="794.5" y="1066.8" width="9" height="30" fill="#ff4000"/>
<ellipse cx="781.7" cy="1083.8" rx="6.5" ry="13.7" fill="#ff00ff"/>
<ellipse cx="814.5" cy="1083.8" rx="6.5" ry="13.7" fill="#ff00ff"/>
</g>
<circle cx="795.0" cy="1081.8" r="6.0" fill="url(#redsph)"/>
<g transform="rotate(90 667.5 958.4)">
<ellipse cx="670.5" cy="925.4" rx="33.0" ry="19.0" fill="#30ff40" stroke="#000" stroke-width="1.4"/>
<ellipse cx="670.5" cy="926.9" rx="27.4" ry="15.8" fill="#70ff00" stroke="#000" stroke-width="1.4"/>
<ellipse cx="670.5" cy="928.4" rx="21.8" ry="12.5" fill="#b8e800" stroke="#000" stroke-width="1.4"/>
<ellipse cx="670.5" cy="929.9" rx="16.2" ry="9.3" fill="#e8a000" stroke="#000" stroke-width="1.4"/>
<ellipse cx="670.5" cy="991.4" rx="33.0" ry="19.0" fill="#30ff40" stroke="#000" stroke-width="1.4"/>
<ellipse cx="670.5" cy="989.9" rx="27.4" ry="15.8" fill="#70ff00" stroke="#000" stroke-width="1.4"/>
<ellipse cx="670.5" cy="988.4" rx="21.8" ry="12.5" fill="#b8e800" stroke="#000" stroke-width="1.4"/>
<ellipse cx="670.5" cy="986.9" rx="16.2" ry="9.3" fill="#e8a000" stroke="#000" stroke-width="1.4"/>
<circle cx="688.5" cy="958.4" r="30.0" fill="#10f0d0" stroke="#000" stroke-width="1.4"/>
<circle cx="646.5" cy="958.4" r="30.0" fill="#10f0d0" stroke="#000" stroke-width="1.4"/>
<circle cx="688.0" cy="958.4" r="25.8" fill="#00e0ff" stroke="#000" stroke-width="1.4"/>
<circle cx="647.0" cy="958.4" r="25.8" fill="#00e0ff" stroke="#000" stroke-width="1.4"/>
<circle cx="687.5" cy="958.4" r="22.2" fill="#30a8ff" stroke="#000" stroke-width="1.4"/>
<circle cx="647.5" cy="958.4" r="22.2" fill="#30a8ff" stroke="#000" stroke-width="1.4"/>
<circle cx="687.0" cy="958.4" r="19.2" fill="#2868ff" stroke="#000" stroke-width="1.4"/>
<circle cx="648.0" cy="958.4" r="19.2" fill="#2868ff" stroke="#000" stroke-width="1.4"/>
<circle cx="686.5" cy="958.4" r="16.5" fill="#2030e0" stroke="#000" stroke-width="1.4"/>
<circle cx="648.5" cy="958.4" r="16.5" fill="#2030e0" stroke="#000" stroke-width="1.4"/>
<circle cx="686.0" cy="958.4" r="14.1" fill="#1818b0" stroke="#000" stroke-width="1.4"/>
<circle cx="649.0" cy="958.4" r="14.1" fill="#1818b0" stroke="#000" stroke-width="1.4"/>
<circle cx="685.5" cy="958.4" r="12.0" fill="#300090" stroke="#000" stroke-width="1.4"/>
<circle cx="649.5" cy="958.4" r="12.0" fill="#300090" stroke="#000" stroke-width="1.4"/>
<ellipse cx="669.5" cy="959.4" rx="22.0" ry="36.0" fill="#000"/>
<ellipse cx="671.5" cy="938.4" rx="10.8" ry="15.5" fill="#ff1800"/>
<ellipse cx="671.5" cy="980.4" rx="10.8" ry="15.5" fill="#ff1800"/>
<rect x="667.0" y="943.4" width="9" height="30" fill="#ff4000"/>
<ellipse cx="654.2" cy="960.4" rx="6.5" ry="13.7" fill="#ff00ff"/>
<ellipse cx="687.0" cy="960.4" rx="6.5" ry="13.7" fill="#ff00ff"/>
</g>
<circle cx="667.5" cy="958.4" r="6.0" fill="url(#redsph)"/>
<g transform="rotate(90 920.8 958.4)">
<ellipse cx="923.8" cy="925.4" rx="33.0" ry="19.0" fill="#30ff40" stroke="#000" stroke-width="1.4"/>
<ellipse cx="923.8" cy="926.9" rx="27.4" ry="15.8" fill="#70ff00" stroke="#000" stroke-width="1.4"/>
<ellipse cx="923.8" cy="928.4" rx="21.8" ry="12.5" fill="#b8e800" stroke="#000" stroke-width="1.4"/>
<ellipse cx="923.8" cy="929.9" rx="16.2" ry="9.3" fill="#e8a000" stroke="#000" stroke-width="1.4"/>
<ellipse cx="923.8" cy="991.4" rx="33.0" ry="19.0" fill="#30ff40" stroke="#000" stroke-width="1.4"/>
<ellipse cx="923.8" cy="989.9" rx="27.4" ry="15.8" fill="#70ff00" stroke="#000" stroke-width="1.4"/>
<ellipse cx="923.8" cy="988.4" rx="21.8" ry="12.5" fill="#b8e800" stroke="#000" stroke-width="1.4"/>
<ellipse cx="923.8" cy="986.9" rx="16.2" ry="9.3" fill="#e8a000" stroke="#000" stroke-width="1.4"/>
<circle cx="941.8" cy="958.4" r="30.0" fill="#10f0d0" stroke="#000" stroke-width="1.4"/>
<circle cx="899.8" cy="958.4" r="30.0" fill="#10f0d0" stroke="#000" stroke-width="1.4"/>
<circle cx="941.3" cy="958.4" r="25.8" fill="#00e0ff" stroke="#000" stroke-width="1.4"/>
<circle cx="900.3" cy="958.4" r="25.8" fill="#00e0ff" stroke="#000" stroke-width="1.4"/>
<circle cx="940.8" cy="958.4" r="22.2" fill="#30a8ff" stroke="#000" stroke-width="1.4"/>
<circle cx="900.8" cy="958.4" r="22.2" fill="#30a8ff" stroke="#000" stroke-width="1.4"/>
<circle cx="940.3" cy="958.4" r="19.2" fill="#2868ff" stroke="#000" stroke-width="1.4"/>
<circle cx="901.3" cy="958.4" r="19.2" fill="#2868ff" stroke="#000" stroke-width="1.4"/>
<circle cx="939.8" cy="958.4" r="16.5" fill="#2030e0" stroke="#000" stroke-width="1.4"/>
<circle cx="901.8" cy="958.4" r="16.5" fill="#2030e0" stroke="#000" stroke-width="1.4"/>
<circle cx="939.3" cy="958.4" r="14.1" fill="#1818b0" stroke="#000" stroke-width="1.4"/>
<circle cx="902.3" cy="958.4" r="14.1" fill="#1818b0" stroke="#000" stroke-width="1.4"/>
<circle cx="938.8" cy="958.4" r="12.0" fill="#300090" stroke="#000" stroke-width="1.4"/>
<circle cx="902.8" cy="958.4" r="12.0" fill="#300090" stroke="#000" stroke-width="1.4"/>
<ellipse cx="922.8" cy="959.4" rx="22.0" ry="36.0" fill="#000"/>
<ellipse cx="924.8" cy="938.4" rx="10.8" ry="15.5" fill="#ff1800"/>
<ellipse cx="924.8" cy="980.4" rx="10.8" ry="15.5" fill="#ff1800"/>
<rect x="920.3" y="943.4" width="9" height="30" fill="#ff4000"/>
<ellipse cx="907.5" cy="960.4" rx="6.5" ry="13.7" fill="#ff00ff"/>
<ellipse cx="940.3" cy="960.4" rx="6.5" ry="13.7" fill="#ff00ff"/>
</g>
<circle cx="920.8" cy="958.4" r="6.0" fill="url(#redsph)"/>
</g>
<text x="814.7" y="793.4" font-size="28">Ni</text>
<text x="685.5" y="915.7" font-size="28">Ni</text>
<text x="936.5" y="915.7" font-size="28">Ni</text>
<text x="815.8" y="939.0" font-size="30">C</text>
<text x="814.7" y="1051.8" font-size="28">Ni</text>
<text x="894" y="1132" font-size="34">[100]</text>
<g clip-path="url(#cBL)">
<rect x="146.2" y="1234.8" width="376.1" height="380.1" fill="url(#bgBL)"/>
<path d="M259.6,1269.7 L240.9,1242.3 Q237.0,1236.5 244.0,1236.5 L283.0,1236.5 Q290.0,1236.5 286.1,1242.3 L267.4,1269.7 Q263.5,1275.5 259.6,1269.7 Z" fill="#00ffbc" stroke="#000" stroke-width="1.3" stroke-linejoin="round" stroke-dasharray="5 1.8"/>
<path d="M402.1,1269.7 L383.4,1242.3 Q379.5,1236.5 386.5,1236.5 L425.5,1236.5 Q432.5,1236.5 428.6,1242.3 L409.9,1269.7 Q406.0,1275.5 402.1,1269.7 Z" fill="#00ffbc" stroke="#000" stroke-width="1.3" stroke-linejoin="round" stroke-dasharray="5 1.8"/>
<path d="M259.6,1485.4 L240.9,1458.0 Q237.0,1452.2 244.0,1452.2 L283.0,1452.2 Q290.0,1452.2 286.1,1458.0 L267.4,1485.4 Q263.5,1491.2 259.6,1485.4 Z" fill="#00ffbc" stroke="#000" stroke-width="1.3" stroke-linejoin="round" stroke-dasharray="5 1.8"/>
<path d="M402.1,1485.4 L383.4,1458.0 Q379.5,1452.2 386.5,1452.2 L425.5,1452.2 Q432.5,1452.2 428.6,1458.0 L409.9,1485.4 Q406.0,1491.2 402.1,1485.4 Z" fill="#00ffbc" stroke="#000" stroke-width="1.3" stroke-linejoin="round" stroke-dasharray="5 1.8"/>
<path d="M259.6,1365.3 L240.9,1392.7 Q237.0,1398.5 244.0,1398.5 L283.0,1398.5 Q290.0,1398.5 286.1,1392.7 L267.4,1365.3 Q263.5,1359.5 259.6,1365.3 Z" fill="#00ffbc" stroke="#000" stroke-width="1.3" stroke-linejoin="round" stroke-dasharray="5 1.8"/>
<path d="M402.1,1365.3 L383.4,1392.7 Q379.5,1398.5 386.5,1398.5 L425.5,1398.5 Q432.5,1398.5 428.6,1392.7 L409.9,1365.3 Q406.0,1359.5 402.1,1365.3 Z" fill="#00ffbc" stroke="#000" stroke-width="1.3" stroke-linejoin="round" stroke-dasharray="5 1.8"/>
<path d="M259.6,1579.9 L240.9,1607.3 Q237.0,1613.1 244.0,1613.1 L283.0,1613.1 Q290.0,1613.1 286.1,1607.3 L267.4,1579.9 Q263.5,1574.1 259.6,1579.9 Z" fill="#00ffbc" stroke="#000" stroke-width="1.3" stroke-linejoin="round" stroke-dasharray="5 1.8"/>
<path d="M402.1,1579.9 L383.4,1607.3 Q379.5,1613.1 386.5,1613.1 L425.5,1613.1 Q432.5,1613.1 428.6,1607.3 L409.9,1579.9 Q406.0,1574.1 402.1,1579.9 Z" fill="#00ffbc" stroke="#000" stroke-width="1.3" stroke-linejoin="round" stroke-dasharray="5 1.8"/>
<path d="M184.1,1242.0 C203.3,1242.0 248.1,1269.8 248.1,1317.0 C248.1,1364.2 203.3,1392.0 184.1,1392.0 C164.9,1392.0 120.1,1364.2 120.1,1317.0 C120.1,1269.8 164.9,1242.0 184.1,1242.0 Z" fill="#18ff48" stroke="#000" stroke-width="1.3" stroke-dasharray="5 1.8"/>
<path d="M184.1,1261.0 C207.9,1261.0 237.1,1289.3 237.1,1317.0 C237.1,1346.5 207.9,1376.5 184.1,1376.5 C160.2,1376.5 131.1,1346.5 131.1,1317.0 C131.1,1289.3 160.2,1261.0 184.1,1261.0 Z" fill="#30ff20" stroke="#000" stroke-width="1.3" stroke-dasharray="5 1.8"/>
<path d="M184.1,1274.0 C205.6,1274.0 227.1,1297.7 227.1,1317.0 C227.1,1338.2 205.6,1364.0 184.1,1364.0 C162.6,1364.0 141.1,1338.2 141.1,1317.0 C141.1,1297.7 162.6,1274.0 184.1,1274.0 Z" fill="url(#znhalo)" stroke="#000" stroke-width="1.3" stroke-dasharray="5 1.8"/>
<ellipse cx="185.1" cy="1300.0" rx="9.0" ry="12.0" fill="#40ff40" stroke="#000" stroke-width="1.0"/>
<ellipse cx="185.1" cy="1302.0" rx="5.0" ry="7.0" fill="#20e8f0" stroke="#000" stroke-width="1.0"/>
<ellipse cx="185.1" cy="1334.0" rx="9.0" ry="12.0" fill="#40ff40" stroke="#000" stroke-width="1.0"/>
<ellipse cx="185.1" cy="1332.0" rx="5.0" ry="7.0" fill="#20e8f0" stroke="#000" stroke-width="1.0"/>
<path d="M171.1,1306.0 L179.1,1310.0 L189.1,1310.0 L198.1,1306.0 L195.1,1317.0 L198.1,1329.0 L189.1,1324.0 L171.1,1329.0 Z" fill="#ffff00" stroke="#000" stroke-width="1.0"/>
<ellipse cx="184.1" cy="1317.0" rx="8.0" ry="9.0" fill="#000"/>
<circle cx="184.1" cy="1317.0" r="5.8" fill="url(#znsph)"/>
<path d="M485.5,1242.0 C504.7,1242.0 549.5,1269.8 549.5,1317.0 C549.5,1364.2 504.7,1392.0 485.5,1392.0 C466.3,1392.0 421.5,1364.2 421.5,1317.0 C421.5,1269.8 466.3,1242.0 485.5,1242.0 Z" fill="#18ff48" stroke="#000" stroke-width="1.3" stroke-dasharray="5 1.8"/>
<path d="M485.5,1261.0 C509.4,1261.0 538.5,1289.3 538.5,1317.0 C538.5,1346.5 509.4,1376.5 485.5,1376.5 C461.6,1376.5 432.5,1346.5 432.5,1317.0 C432.5,1289.3 461.6,1261.0 485.5,1261.0 Z" fill="#30ff20" stroke="#000" stroke-width="1.3" stroke-dasharray="5 1.8"/>
<path d="M485.5,1274.0 C507.0,1274.0 528.5,1297.7 528.5,1317.0 C528.5,1338.2 507.0,1364.0 485.5,1364.0 C464.0,1364.0 442.5,1338.2 442.5,1317.0 C442.5,1297.7 464.0,1274.0 485.5,1274.0 Z" fill="url(#znhalo)" stroke="#000" stroke-width="1.3" stroke-dasharray="5 1.8"/>
<ellipse cx="486.5" cy="1300.0" rx="9.0" ry="12.0" fill="#40ff40" stroke="#000" stroke-width="1.0"/>
<ellipse cx="486.5" cy="1302.0" rx="5.0" ry="7.0" fill="#20e8f0" stroke="#000" stroke-width="1.0"/>
<ellipse cx="486.5" cy="1334.0" rx="9.0" ry="12.0" fill="#40ff40" stroke="#000" stroke-width="1.0"/>
<ellipse cx="486.5" cy="1332.0" rx="5.0" ry="7.0" fill="#20e8f0" stroke="#000" stroke-width="1.0"/>
<path d="M472.5,1306.0 L480.5,1310.0 L490.5,1310.0 L499.5,1306.0 L496.5,1317.0 L499.5,1329.0 L490.5,1324.0 L472.5,1329.0 Z" fill="#ffff00" stroke="#000" stroke-width="1.0"/>
<ellipse cx="485.5" cy="1317.0" rx="8.0" ry="9.0" fill="#000"/>
<circle cx="485.5" cy="1317.0" r="5.8" fill="url(#znsph)"/>
<path d="M184.1,1459.4 C203.3,1459.4 248.1,1487.2 248.1,1534.4 C248.1,1581.7 203.3,1609.4 184.1,1609.4 C164.9,1609.4 120.1,1581.7 120.1,1534.4 C120.1,1487.2 164.9,1459.4 184.1,1459.4 Z" fill="#18ff48" stroke="#000" stroke-width="1.3" stroke-dasharray="5 1.8"/>
<path d="M184.1,1478.4 C207.9,1478.4 237.1,1506.7 237.1,1534.4 C237.1,1563.9 207.9,1593.9 184.1,1593.9 C160.2,1593.9 131.1,1563.9 131.1,1534.4 C131.1,1506.7 160.2,1478.4 184.1,1478.4 Z" fill="#30ff20" stroke="#000" stroke-width="1.3" stroke-dasharray="5 1.8"/>
<path d="M184.1,1491.4 C205.6,1491.4 227.1,1515.1 227.1,1534.4 C227.1,1555.6 205.6,1581.4 184.1,1581.4 C162.6,1581.4 141.1,1555.6 141.1,1534.4 C141.1,1515.1 162.6,1491.4 184.1,1491.4 Z" fill="url(#znhalo)" stroke="#000" stroke-width="1.3" stroke-dasharray="5 1.8"/>
<ellipse cx="185.1" cy="1517.4" rx="9.0" ry="12.0" fill="#40ff40" stroke="#000" stroke-width="1.0"/>
<ellipse cx="185.1" cy="1519.4" rx="5.0" ry="7.0" fill="#20e8f0" stroke="#000" stroke-width="1.0"/>
<ellipse cx="185.1" cy="1551.4" rx="9.0" ry="12.0" fill="#40ff40" stroke="#000" stroke-width="1.0"/>
<ellipse cx="185.1" cy="1549.4" rx="5.0" ry="7.0" fill="#20e8f0" stroke="#000" stroke-width="1.0"/>
<path d="M171.1,1523.4 L179.1,1527.4 L189.1,1527.4 L198.1,1523.4 L195.1,1534.4 L198.1,1546.4 L189.1,1541.4 L171.1,1546.4 Z" fill="#ffff00" stroke="#000" stroke-width="1.0"/>
<ellipse cx="184.1" cy="1534.4" rx="8.0" ry="9.0" fill="#000"/>
<circle cx="184.1" cy="1534.4" r="5.8" fill="url(#znsph)"/>
<path d="M485.5,1459.4 C504.7,1459.4 549.5,1487.2 549.5,1534.4 C549.5,1581.7 504.7,1609.4 485.5,1609.4 C466.3,1609.4 421.5,1581.7 421.5,1534.4 C421.5,1487.2 466.3,1459.4 485.5,1459.4 Z" fill="#18ff48" stroke="#000" stroke-width="1.3" stroke-dasharray="5 1.8"/>
<path d="M485.5,1478.4 C509.4,1478.4 538.5,1506.7 538.5,1534.4 C538.5,1563.9 509.4,1593.9 485.5,1593.9 C461.6,1593.9 432.5,1563.9 432.5,1534.4 C432.5,1506.7 461.6,1478.4 485.5,1478.4 Z" fill="#30ff20" stroke="#000" stroke-width="1.3" stroke-dasharray="5 1.8"/>
<path d="M485.5,1491.4 C507.0,1491.4 528.5,1515.1 528.5,1534.4 C528.5,1555.6 507.0,1581.4 485.5,1581.4 C464.0,1581.4 442.5,1555.6 442.5,1534.4 C442.5,1515.1 464.0,1491.4 485.5,1491.4 Z" fill="url(#znhalo)" stroke="#000" stroke-width="1.3" stroke-dasharray="5 1.8"/>
<ellipse cx="486.5" cy="1517.4" rx="9.0" ry="12.0" fill="#40ff40" stroke="#000" stroke-width="1.0"/>
<ellipse cx="486.5" cy="1519.4" rx="5.0" ry="7.0" fill="#20e8f0" stroke="#000" stroke-width="1.0"/>
<ellipse cx="486.5" cy="1551.4" rx="9.0" ry="12.0" fill="#40ff40" stroke="#000" stroke-width="1.0"/>
<ellipse cx="486.5" cy="1549.4" rx="5.0" ry="7.0" fill="#20e8f0" stroke="#000" stroke-width="1.0"/>
<path d="M472.5,1523.4 L480.5,1527.4 L490.5,1527.4 L499.5,1523.4 L496.5,1534.4 L499.5,1546.4 L490.5,1541.4 L472.5,1546.4 Z" fill="#ffff00" stroke="#000" stroke-width="1.0"/>
<ellipse cx="485.5" cy="1534.4" rx="8.0" ry="9.0" fill="#000"/>
<circle cx="485.5" cy="1534.4" r="5.8" fill="url(#znsph)"/>
<circle cx="334.9" cy="1344.8" r="21.0" fill="#10ffd0" stroke="#000" stroke-width="1.3"/>
<circle cx="334.9" cy="1287.8" r="21.0" fill="#10ffd0" stroke="#000" stroke-width="1.3"/>
<circle cx="368.4" cy="1316.8" r="17.0" fill="#10ffd0" stroke="#000" stroke-width="1.3"/>
<circle cx="301.4" cy="1316.8" r="17.0" fill="#10ffd0" stroke="#000" stroke-width="1.3"/>
<circle cx="334.9" cy="1344.8" r="17.0" fill="#00f4ff" stroke="#000" stroke-width="1.1"/>
<circle cx="334.9" cy="1287.8" r="17.0" fill="#00f4ff" stroke="#000" stroke-width="1.1"/>
<circle cx="368.4" cy="1316.8" r="13.0" fill="#00f4ff" stroke="#000" stroke-width="1.1"/>
<circle cx="301.4" cy="1316.8" r="13.0" fill="#00f4ff" stroke="#000" stroke-width="1.1"/>
<circle cx="334.9" cy="1344.8" r="15.0" fill="#30b8ff" stroke="#000" stroke-width="0.8"/>
<circle cx="334.9" cy="1287.8" r="15.0" fill="#30b8ff" stroke="#000" stroke-width="0.8"/>
<circle cx="368.4" cy="1316.8" r="11.0" fill="#30b8ff" stroke="#000" stroke-width="0.8"/>
<circle cx="301.4" cy="1316.8" r="11.0" fill="#30b8ff" stroke="#000" stroke-width="0.8"/>
<circle cx="334.9" cy="1344.8" r="13.5" fill="#2878ff" stroke="#000" stroke-width="0.8"/>
<circle cx="334.9" cy="1287.8" r="13.5" fill="#2878ff" stroke="#000" stroke-width="0.8"/>
<circle cx="368.4" cy="1316.8" r="9.5" fill="#2878ff" stroke="#000" stroke-width="0.8"/>
<circle cx="301.4" cy="1316.8" r="9.5" fill="#2878ff" stroke="#000" stroke-width="0.8"/>
<circle cx="334.9" cy="1344.8" r="12.0" fill="#2040e8" stroke="#000" stroke-width="0.8"/>
<circle cx="334.9" cy="1287.8" r="12.0" fill="#2040e8" stroke="#000" stroke-width="0.8"/>
<circle cx="368.4" cy="1316.8" r="8.0" fill="#2040e8" stroke="#000" stroke-width="0.8"/>
<circle cx="301.4" cy="1316.8" r="8.0" fill="#2040e8" stroke="#000" stroke-width="0.8"/>
<circle cx="334.9" cy="1344.8" r="10.5" fill="#2018c0" stroke="#000" stroke-width="0.8"/>
<circle cx="334.9" cy="1287.8" r="10.5" fill="#2018c0" stroke="#000" stroke-width="0.8"/>
<circle cx="368.4" cy="1316.8" r="6.5" fill="#2018c0" stroke="#000" stroke-width="0.8"/>
<circle cx="301.4" cy="1316.8" r="6.5" fill="#2018c0" stroke="#000" stroke-width="0.8"/>
<circle cx="334.9" cy="1344.8" r="9.0" fill="#4010a8" stroke="#000" stroke-width="0.8"/>
<circle cx="334.9" cy="1287.8" r="9.0" fill="#4010a8" stroke="#000" stroke-width="0.8"/>
<circle cx="368.4" cy="1316.8" r="5.0" fill="#4010a8" stroke="#000" stroke-width="0.8"/>
<circle cx="301.4" cy="1316.8" r="5.0" fill="#4010a8" stroke="#000" stroke-width="0.8"/>
<circle cx="334.9" cy="1344.8" r="7.5" fill="#000000"/>
<circle cx="334.9" cy="1287.8" r="7.5" fill="#000000"/>
<circle cx="368.4" cy="1316.8" r="3.5" fill="#000000"/>
<circle cx="301.4" cy="1316.8" r="3.5" fill="#000000"/>
<path d="M366.0,1347.9 L349.5,1339.4 L357.5,1331.4 Z" fill="#30ff30" stroke="#000" stroke-width="1.2"/>
<path d="M303.8,1347.9 L312.3,1331.4 L320.3,1339.4 Z" fill="#30ff30" stroke="#000" stroke-width="1.2"/>
<path d="M303.8,1285.7 L320.3,1294.2 L312.3,1302.2 Z" fill="#30ff30" stroke="#000" stroke-width="1.2"/>
<path d="M366.0,1285.7 L357.5,1302.2 L349.5,1294.2 Z" fill="#30ff30" stroke="#000" stroke-width="1.2"/>
<ellipse cx="334.9" cy="1317.8" rx="21.0" ry="28.0" fill="#000"/>
<ellipse cx="334.9" cy="1299.8" rx="7.0" ry="12.0" fill="#ff40ff"/>
<ellipse cx="334.9" cy="1336.8" rx="7.0" ry="11.0" fill="#ff40ff"/>
<ellipse cx="343.4" cy="1325.3" rx="4.0" ry="2.0" fill="#ff3000" transform="rotate(45 343.4 1325.3)"/>
<ellipse cx="326.4" cy="1325.3" rx="4.0" ry="2.0" fill="#ff3000" transform="rotate(135 326.4 1325.3)"/>
<ellipse cx="326.4" cy="1308.3" rx="4.0" ry="2.0" fill="#ff3000" transform="rotate(225 326.4 1308.3)"/>
<ellipse cx="343.4" cy="1308.3" rx="4.0" ry="2.0" fill="#ff3000" transform="rotate(315 343.4 1308.3)"/>
<circle cx="334.9" cy="1316.8" r="5.5" fill="url(#redsph)"/>
<circle cx="334.9" cy="1562.4" r="21.0" fill="#10ffd0" stroke="#000" stroke-width="1.3"/>
<circle cx="334.9" cy="1505.4" r="21.0" fill="#10ffd0" stroke="#000" stroke-width="1.3"/>
<circle cx="368.4" cy="1534.4" r="17.0" fill="#10ffd0" stroke="#000" stroke-width="1.3"/>
<circle cx="301.4" cy="1534.4" r="17.0" fill="#10ffd0" stroke="#000" stroke-width="1.3"/>
<circle cx="334.9" cy="1562.4" r="17.0" fill="#00f4ff" stroke="#000" stroke-width="1.1"/>
<circle cx="334.9" cy="1505.4" r="17.0" fill="#00f4ff" stroke="#000" stroke-width="1.1"/>
<circle cx="368.4" cy="1534.4" r="13.0" fill="#00f4ff" stroke="#000" stroke-width="1.1"/>
<circle cx="301.4" cy="1534.4" r="13.0" fill="#00f4ff" stroke="#000" stroke-width="1.1"/>
<circle cx="334.9" cy="1562.4" r="15.0" fill="#30b8ff" stroke="#000" stroke-width="0.8"/>
<circle cx="334.9" cy="1505.4" r="15.0" fill="#30b8ff" stroke="#000" stroke-width="0.8"/>
<circle cx="368.4" cy="1534.4" r="11.0" fill="#30b8ff" stroke="#000" stroke-width="0.8"/>
<circle cx="301.4" cy="1534.4" r="11.0" fill="#30b8ff" stroke="#000" stroke-width="0.8"/>
<circle cx="334.9" cy="1562.4" r="13.5" fill="#2878ff" stroke="#000" stroke-width="0.8"/>
<circle cx="334.9" cy="1505.4" r="13.5" fill="#2878ff" stroke="#000" stroke-width="0.8"/>
<circle cx="368.4" cy="1534.4" r="9.5" fill="#2878ff" stroke="#000" stroke-width="0.8"/>
<circle cx="301.4" cy="1534.4" r="9.5" fill="#2878ff" stroke="#000" stroke-width="0.8"/>
<circle cx="334.9" cy="1562.4" r="12.0" fill="#2040e8" stroke="#000" stroke-width="0.8"/>
<circle cx="334.9" cy="1505.4" r="12.0" fill="#2040e8" stroke="#000" stroke-width="0.8"/>
<circle cx="368.4" cy="1534.4" r="8.0" fill="#2040e8" stroke="#000" stroke-width="0.8"/>
<circle cx="301.4" cy="1534.4" r="8.0" fill="#2040e8" stroke="#000" stroke-width="0.8"/>
<circle cx="334.9" cy="1562.4" r="10.5" fill="#2018c0" stroke="#000" stroke-width="0.8"/>
<circle cx="334.9" cy="1505.4" r="10.5" fill="#2018c0" stroke="#000" stroke-width="0.8"/>
<circle cx="368.4" cy="1534.4" r="6.5" fill="#2018c0" stroke="#000" stroke-width="0.8"/>
<circle cx="301.4" cy="1534.4" r="6.5" fill="#2018c0" stroke="#000" stroke-width="0.8"/>
<circle cx="334.9" cy="1562.4" r="9.0" fill="#4010a8" stroke="#000" stroke-width="0.8"/>
<circle cx="334.9" cy="1505.4" r="9.0" fill="#4010a8" stroke="#000" stroke-width="0.8"/>
<circle cx="368.4" cy="1534.4" r="5.0" fill="#4010a8" stroke="#000" stroke-width="0.8"/>
<circle cx="301.4" cy="1534.4" r="5.0" fill="#4010a8" stroke="#000" stroke-width="0.8"/>
<circle cx="334.9" cy="1562.4" r="7.5" fill="#000000"/>
<circle cx="334.9" cy="1505.4" r="7.5" fill="#000000"/>
<circle cx="368.4" cy="1534.4" r="3.5" fill="#000000"/>
<circle cx="301.4" cy="1534.4" r="3.5" fill="#000000"/>
<path d="M366.0,1565.5 L349.5,1557.0 L357.5,1549.0 Z" fill="#30ff30" stroke="#000" stroke-width="1.2"/>
<path d="M303.8,1565.5 L312.3,1549.0 L320.3,1557.0 Z" fill="#30ff30" stroke="#000" stroke-width="1.2"/>
<path d="M303.8,1503.3 L320.3,1511.8 L312.3,1519.8 Z" fill="#30ff30" stroke="#000" stroke-width="1.2"/>
<path d="M366.0,1503.3 L357.5,1519.8 L349.5,1511.8 Z" fill="#30ff30" stroke="#000" stroke-width="1.2"/>
<ellipse cx="334.9" cy="1535.4" rx="21.0" ry="28.0" fill="#000"/>
<ellipse cx="334.9" cy="1517.4" rx="7.0" ry="12.0" fill="#ff40ff"/>
<ellipse cx="334.9" cy="1554.4" rx="7.0" ry="11.0" fill="#ff40ff"/>
<ellipse cx="343.4" cy="1542.9" rx="4.0" ry="2.0" fill="#ff3000" transform="rotate(45 343.4 1542.9)"/>
<ellipse cx="326.4" cy="1542.9" rx="4.0" ry="2.0" fill="#ff3000" transform="rotate(135 326.4 1542.9)"/>
<ellipse cx="326.4" cy="1525.9" rx="4.0" ry="2.0" fill="#ff3000" transform="rotate(225 326.4 1525.9)"/>
<ellipse cx="343.4" cy="1525.9" rx="4.0" ry="2.0" fill="#ff3000" transform="rotate(315 343.4 1525.9)"/>
<circle cx="334.9" cy="1534.4" r="5.5" fill="url(#redsph)"/>
</g>
<text x="171.5" y="1287.0" font-size="28">Zn</text>
<text x="355.5" y="1285.5" font-size="28">Ni</text>
<text x="470.5" y="1284.0" font-size="28">Zn</text>
<text x="170.8" y="1504.0" font-size="28">Zn</text>
<text x="355.5" y="1509.0" font-size="28">Ni</text>
<text x="453.3" y="1506.8" font-size="28">Zn</text>
<text x="435" y="1599" font-size="34">[110]</text>
<g clip-path="url(#cBR)">
<rect x="608.2" y="1234.8" width="377.2" height="380.2" fill="url(#bgBR)"/>
<path d="M640.4,1226.4 C666.6,1226.4 715.4,1262.1 715.4,1312.4 C715.4,1362.7 666.6,1398.4 640.4,1398.4 C614.1,1398.4 565.4,1362.7 565.4,1312.4 C565.4,1262.1 614.1,1226.4 640.4,1226.4 Z" fill="#10ff60" stroke="#000" stroke-width="1.3" stroke-dasharray="5 1.8"/>
<path d="M640.4,1237.4 C659.6,1237.4 704.4,1265.2 704.4,1312.4 C704.4,1359.7 659.6,1387.4 640.4,1387.4 C621.2,1387.4 576.4,1359.7 576.4,1312.4 C576.4,1265.2 621.2,1237.4 640.4,1237.4 Z" fill="#18ff48" stroke="#000" stroke-width="1.3" stroke-dasharray="5 1.8"/>
<path d="M640.4,1256.4 C664.2,1256.4 693.4,1284.7 693.4,1312.4 C693.4,1341.9 664.2,1371.9 640.4,1371.9 C616.5,1371.9 587.4,1341.9 587.4,1312.4 C587.4,1284.7 616.5,1256.4 640.4,1256.4 Z" fill="#30ff20" stroke="#000" stroke-width="1.3" stroke-dasharray="5 1.8"/>
<path d="M640.4,1269.4 C661.9,1269.4 683.4,1293.1 683.4,1312.4 C683.4,1333.6 661.9,1359.4 640.4,1359.4 C618.9,1359.4 597.4,1333.6 597.4,1312.4 C597.4,1293.1 618.9,1269.4 640.4,1269.4 Z" fill="url(#znhalo)" stroke="#000" stroke-width="1.3" stroke-dasharray="5 1.8"/>
<ellipse cx="641.4" cy="1295.4" rx="9.0" ry="12.0" fill="#40ff40" stroke="#000" stroke-width="1.0"/>
<ellipse cx="641.4" cy="1297.4" rx="5.0" ry="7.0" fill="#20e8f0" stroke="#000" stroke-width="1.0"/>
<ellipse cx="641.4" cy="1329.4" rx="9.0" ry="12.0" fill="#40ff40" stroke="#000" stroke-width="1.0"/>
<ellipse cx="641.4" cy="1327.4" rx="5.0" ry="7.0" fill="#20e8f0" stroke="#000" stroke-width="1.0"/>
<path d="M627.4,1301.4 L635.4,1305.4 L645.4,1305.4 L654.4,1301.4 L651.4,1312.4 L654.4,1324.4 L645.4,1319.4 L627.4,1324.4 Z" fill="#ffff00" stroke="#000" stroke-width="1.0"/>
<ellipse cx="640.4" cy="1312.4" rx="8.0" ry="9.0" fill="#000"/>
<circle cx="640.4" cy="1312.4" r="5.8" fill="url(#znsph)"/>
<path d="M952.0,1226.4 C978.2,1226.4 1027.0,1262.1 1027.0,1312.4 C1027.0,1362.7 978.2,1398.4 952.0,1398.4 C925.8,1398.4 877.0,1362.7 877.0,1312.4 C877.0,1262.1 925.8,1226.4 952.0,1226.4 Z" fill="#10ff60" stroke="#000" stroke-width="1.3" stroke-dasharray="5 1.8"/>
<path d="M952.0,1237.4 C971.2,1237.4 1016.0,1265.2 1016.0,1312.4 C1016.0,1359.7 971.2,1387.4 952.0,1387.4 C932.8,1387.4 888.0,1359.7 888.0,1312.4 C888.0,1265.2 932.8,1237.4 952.0,1237.4 Z" fill="#18ff48" stroke="#000" stroke-width="1.3" stroke-dasharray="5 1.8"/>
<path d="M952.0,1256.4 C975.9,1256.4 1005.0,1284.7 1005.0,1312.4 C1005.0,1341.9 975.9,1371.9 952.0,1371.9 C928.1,1371.9 899.0,1341.9 899.0,1312.4 C899.0,1284.7 928.1,1256.4 952.0,1256.4 Z" fill="#30ff20" stroke="#000" stroke-width="1.3" stroke-dasharray="5 1.8"/>
<path d="M952.0,1269.4 C973.5,1269.4 995.0,1293.1 995.0,1312.4 C995.0,1333.6 973.5,1359.4 952.0,1359.4 C930.5,1359.4 909.0,1333.6 909.0,1312.4 C909.0,1293.1 930.5,1269.4 952.0,1269.4 Z" fill="url(#znhalo)" stroke="#000" stroke-width="1.3" stroke-dasharray="5 1.8"/>
<ellipse cx="953.0" cy="1295.4" rx="9.0" ry="12.0" fill="#40ff40" stroke="#000" stroke-width="1.0"/>
<ellipse cx="953.0" cy="1297.4" rx="5.0" ry="7.0" fill="#20e8f0" stroke="#000" stroke-width="1.0"/>
<ellipse cx="953.0" cy="1329.4" rx="9.0" ry="12.0" fill="#40ff40" stroke="#000" stroke-width="1.0"/>
<ellipse cx="953.0" cy="1327.4" rx="5.0" ry="7.0" fill="#20e8f0" stroke="#000" stroke-width="1.0"/>
<path d="M939.0,1301.4 L947.0,1305.4 L957.0,1305.4 L966.0,1301.4 L963.0,1312.4 L966.0,1324.4 L957.0,1319.4 L939.0,1324.4 Z" fill="#ffff00" stroke="#000" stroke-width="1.0"/>
<ellipse cx="952.0" cy="1312.4" rx="8.0" ry="9.0" fill="#000"/>
<circle cx="952.0" cy="1312.4" r="5.8" fill="url(#znsph)"/>
<path d="M640.4,1450.7 C666.6,1450.7 715.4,1486.4 715.4,1536.7 C715.4,1587.0 666.6,1622.7 640.4,1622.7 C614.1,1622.7 565.4,1587.0 565.4,1536.7 C565.4,1486.4 614.1,1450.7 640.4,1450.7 Z" fill="#10ff60" stroke="#000" stroke-width="1.3" stroke-dasharray="5 1.8"/>
<path d="M640.4,1461.7 C659.6,1461.7 704.4,1489.5 704.4,1536.7 C704.4,1584.0 659.6,1611.7 640.4,1611.7 C621.2,1611.7 576.4,1584.0 576.4,1536.7 C576.4,1489.5 621.2,1461.7 640.4,1461.7 Z" fill="#18ff48" stroke="#000" stroke-width="1.3" stroke-dasharray="5 1.8"/>
<path d="M640.4,1480.7 C664.2,1480.7 693.4,1509.0 693.4,1536.7 C693.4,1566.2 664.2,1596.2 640.4,1596.2 C616.5,1596.2 587.4,1566.2 587.4,1536.7 C587.4,1509.0 616.5,1480.7 640.4,1480.7 Z" fill="#30ff20" stroke="#000" stroke-width="1.3" stroke-dasharray="5 1.8"/>
<path d="M640.4,1493.7 C661.9,1493.7 683.4,1517.4 683.4,1536.7 C683.4,1557.9 661.9,1583.7 640.4,1583.7 C618.9,1583.7 597.4,1557.9 597.4,1536.7 C597.4,1517.4 618.9,1493.7 640.4,1493.7 Z" fill="url(#znhalo)" stroke="#000" stroke-width="1.3" stroke-dasharray="5 1.8"/>
<ellipse cx="641.4" cy="1519.7" rx="9.0" ry="12.0" fill="#40ff40" stroke="#000" stroke-width="1.0"/>
<ellipse cx="641.4" cy="1521.7" rx="5.0" ry="7.0" fill="#20e8f0" stroke="#000" stroke-width="1.0"/>
<ellipse cx="641.4" cy="1553.7" rx="9.0" ry="12.0" fill="#40ff40" stroke="#000" stroke-width="1.0"/>
<ellipse cx="641.4" cy="1551.7" rx="5.0" ry="7.0" fill="#20e8f0" stroke="#000" stroke-width="1.0"/>
<path d="M627.4,1525.7 L635.4,1529.7 L645.4,1529.7 L654.4,1525.7 L651.4,1536.7 L654.4,1548.7 L645.4,1543.7 L627.4,1548.7 Z" fill="#ffff00" stroke="#000" stroke-width="1.0"/>
<ellipse cx="640.4" cy="1536.7" rx="8.0" ry="9.0" fill="#000"/>
<circle cx="640.4" cy="1536.7" r="5.8" fill="url(#znsph)"/>
<path d="M952.0,1450.7 C978.2,1450.7 1027.0,1486.4 1027.0,1536.7 C1027.0,1587.0 978.2,1622.7 952.0,1622.7 C925.8,1622.7 877.0,1587.0 877.0,1536.7 C877.0,1486.4 925.8,1450.7 952.0,1450.7 Z" fill="#10ff60" stroke="#000" stroke-width="1.3" stroke-dasharray="5 1.8"/>
<path d="M952.0,1461.7 C971.2,1461.7 1016.0,1489.5 1016.0,1536.7 C1016.0,1584.0 971.2,1611.7 952.0,1611.7 C932.8,1611.7 888.0,1584.0 888.0,1536.7 C888.0,1489.5 932.8,1461.7 952.0,1461.7 Z" fill="#18ff48" stroke="#000" stroke-width="1.3" stroke-dasharray="5 1.8"/>
<path d="M952.0,1480.7 C975.9,1480.7 1005.0,1509.0 1005.0,1536.7 C1005.0,1566.2 975.9,1596.2 952.0,1596.2 C928.1,1596.2 899.0,1566.2 899.0,1536.7 C899.0,1509.0 928.1,1480.7 952.0,1480.7 Z" fill="#30ff20" stroke="#000" stroke-width="1.3" stroke-dasharray="5 1.8"/>
<path d="M952.0,1493.7 C973.5,1493.7 995.0,1517.4 995.0,1536.7 C995.0,1557.9 973.5,1583.7 952.0,1583.7 C930.5,1583.7 909.0,1557.9 909.0,1536.7 C909.0,1517.4 930.5,1493.7 952.0,1493.7 Z" fill="url(#znhalo)" stroke="#000" stroke-width="1.3" stroke-dasharray="5 1.8"/>
<ellipse cx="953.0" cy="1519.7" rx="9.0" ry="12.0" fill="#40ff40" stroke="#000" stroke-width="1.0"/>
<ellipse cx="953.0" cy="1521.7" rx="5.0" ry="7.0" fill="#20e8f0" stroke="#000" stroke-width="1.0"/>
<ellipse cx="953.0" cy="1553.7" rx="9.0" ry="12.0" fill="#40ff40" stroke="#000" stroke-width="1.0"/>
<ellipse cx="953.0" cy="1551.7" rx="5.0" ry="7.0" fill="#20e8f0" stroke="#000" stroke-width="1.0"/>
<path d="M939.0,1525.7 L947.0,1529.7 L957.0,1529.7 L966.0,1525.7 L963.0,1536.7 L966.0,1548.7 L957.0,1543.7 L939.0,1548.7 Z" fill="#ffff00" stroke="#000" stroke-width="1.0"/>
<ellipse cx="952.0" cy="1536.7" rx="8.0" ry="9.0" fill="#000"/>
<circle cx="952.0" cy="1536.7" r="5.8" fill="url(#znsph)"/>
<path d="M769.8,1136.0 L823.8,1136.0 L846.8,1150.5 L860.8,1173.5 L866.8,1198.5 L860.8,1223.5 L846.8,1246.5 L823.8,1261.0 L769.8,1261.0 L746.8,1246.5 L732.8,1223.5 L726.8,1198.5 L732.8,1173.5 L746.8,1150.5 Z" fill="#18ffd8" stroke="#000" stroke-width="1.3" stroke-linejoin="round" stroke-dasharray="5 1.8"/>
<path d="M774.8,1141.9 L818.8,1141.9 L838.8,1164.5 L852.3,1198.5 L838.8,1232.5 L818.8,1255.1 L774.8,1255.1 L754.8,1232.5 L741.3,1198.5 L754.8,1164.5 Z" fill="url(#chalo)" stroke="#000" stroke-width="1.3" stroke-linejoin="round" stroke-dasharray="5 1.8"/>
<g transform="translate(796.8 1198.5) rotate(0)"><path d="M-17.5,-49.0 Q0,-42.0 17.5,-49.0 Q20.0,-43.0 15.0,-35.0 Q0,-27.5 -15.0,-35.0 Q-20.0,-43.0 -17.5,-49.0 Z" fill="#20b8f8" stroke="#000" stroke-width="1.2" stroke-dasharray="5 1.5"/></g>
<g transform="translate(796.8 1198.5) rotate(180)"><path d="M-17.5,-49.0 Q0,-42.0 17.5,-49.0 Q20.0,-43.0 15.0,-35.0 Q0,-27.5 -15.0,-35.0 Q-20.0,-43.0 -17.5,-49.0 Z" fill="#20b8f8" stroke="#000" stroke-width="1.2" stroke-dasharray="5 1.5"/></g>
<path d="M780.8,1171.5 L762.8,1172.5 L768.8,1188.5 L768.8,1210.5 L762.8,1225.5 L780.8,1225.5 L780.8,1198.5 Z" fill="#20fce0" stroke="#000" stroke-width="1.2" stroke-linejoin="round" stroke-dasharray="5 1.8"/>
<path d="M812.8,1171.5 L830.8,1172.5 L824.8,1188.5 L824.8,1210.5 L830.8,1225.5 L812.8,1225.5 L812.8,1198.5 Z" fill="#20fce0" stroke="#000" stroke-width="1.2" stroke-linejoin="round" stroke-dasharray="5 1.8"/>
<path d="M779.9,1173.8 L813.7,1173.8 L825.4,1185.5 L825.4,1211.5 L813.7,1223.2 L779.9,1223.2 L768.2,1211.5 L768.2,1185.5 Z" fill="#28c8ff" stroke="#000" stroke-width="1.1" stroke-linejoin="round"/>
<path d="M782.5,1177.6 L811.1,1177.6 L821.0,1187.5 L821.0,1209.5 L811.1,1219.4 L782.5,1219.4 L772.6,1209.5 L772.6,1187.5 Z" fill="#2080ff" stroke="#000" stroke-width="1.1" stroke-linejoin="round"/>
<path d="M784.8,1180.9 L808.8,1180.9 L817.1,1189.2 L817.1,1207.8 L808.8,1216.1 L784.8,1216.1 L776.4,1207.8 L776.4,1189.2 Z" fill="#1830f0" stroke="#000" stroke-width="1.1" stroke-linejoin="round"/>
<path d="M787.0,1184.2 L806.5,1184.2 L813.3,1191.0 L813.3,1206.0 L806.5,1212.8 L787.0,1212.8 L780.3,1206.0 L780.3,1191.0 Z" fill="#0808c0" stroke="#000" stroke-width="1.1" stroke-linejoin="round"/>
<path d="M789.0,1187.1 L804.6,1187.1 L810.0,1192.5 L810.0,1204.5 L804.6,1209.9 L789.0,1209.9 L783.6,1204.5 L783.6,1192.5 Z" fill="#000000" stroke="#000" stroke-width="1.1" stroke-linejoin="round"/>
<path d="M798.8,1193.5 l5,5 l-5,5 l-5,-5 Z" fill="#ff2020"/>
<circle cx="796.8" cy="1199.5" r="5.3" fill="url(#csph)"/>
<path d="M769.8,1588.0 L823.8,1588.0 L846.8,1602.5 L860.8,1625.5 L866.8,1650.5 L860.8,1675.5 L846.8,1698.5 L823.8,1713.0 L769.8,1713.0 L746.8,1698.5 L732.8,1675.5 L726.8,1650.5 L732.8,1625.5 L746.8,1602.5 Z" fill="#18ffd8" stroke="#000" stroke-width="1.3" stroke-linejoin="round" stroke-dasharray="5 1.8"/>
<path d="M774.8,1593.9 L818.8,1593.9 L838.8,1616.5 L852.3,1650.5 L838.8,1684.5 L818.8,1707.1 L774.8,1707.1 L754.8,1684.5 L741.3,1650.5 L754.8,1616.5 Z" fill="url(#chalo)" stroke="#000" stroke-width="1.3" stroke-linejoin="round" stroke-dasharray="5 1.8"/>
<g transform="translate(796.8 1650.5) rotate(0)"><path d="M-17.5,-49.0 Q0,-42.0 17.5,-49.0 Q20.0,-43.0 15.0,-35.0 Q0,-27.5 -15.0,-35.0 Q-20.0,-43.0 -17.5,-49.0 Z" fill="#20b8f8" stroke="#000" stroke-width="1.2" stroke-dasharray="5 1.5"/></g>
<g transform="translate(796.8 1650.5) rotate(180)"><path d="M-17.5,-49.0 Q0,-42.0 17.5,-49.0 Q20.0,-43.0 15.0,-35.0 Q0,-27.5 -15.0,-35.0 Q-20.0,-43.0 -17.5,-49.0 Z" fill="#20b8f8" stroke="#000" stroke-width="1.2" stroke-dasharray="5 1.5"/></g>
<path d="M780.8,1623.5 L762.8,1624.5 L768.8,1640.5 L768.8,1662.5 L762.8,1677.5 L780.8,1677.5 L780.8,1650.5 Z" fill="#20fce0" stroke="#000" stroke-width="1.2" stroke-linejoin="round" stroke-dasharray="5 1.8"/>
<path d="M812.8,1623.5 L830.8,1624.5 L824.8,1640.5 L824.8,1662.5 L830.8,1677.5 L812.8,1677.5 L812.8,1650.5 Z" fill="#20fce0" stroke="#000" stroke-width="1.2" stroke-linejoin="round" stroke-dasharray="5 1.8"/>
<path d="M779.9,1625.8 L813.7,1625.8 L825.4,1637.5 L825.4,1663.5 L813.7,1675.2 L779.9,1675.2 L768.2,1663.5 L768.2,1637.5 Z" fill="#28c8ff" stroke="#000" stroke-width="1.1" stroke-linejoin="round"/>
<path d="M782.5,1629.6 L811.1,1629.6 L821.0,1639.5 L821.0,1661.5 L811.1,1671.4 L782.5,1671.4 L772.6,1661.5 L772.6,1639.5 Z" fill="#2080ff" stroke="#000" stroke-width="1.1" stroke-linejoin="round"/>
<path d="M784.8,1632.9 L808.8,1632.9 L817.1,1641.2 L817.1,1659.8 L808.8,1668.1 L784.8,1668.1 L776.4,1659.8 L776.4,1641.2 Z" fill="#1830f0" stroke="#000" stroke-width="1.1" stroke-linejoin="round"/>
<path d="M787.0,1636.2 L806.5,1636.2 L813.3,1643.0 L813.3,1658.0 L806.5,1664.8 L787.0,1664.8 L780.3,1658.0 L780.3,1643.0 Z" fill="#0808c0" stroke="#000" stroke-width="1.1" stroke-linejoin="round"/>
<path d="M789.0,1639.1 L804.6,1639.1 L810.0,1644.5 L810.0,1656.5 L804.6,1661.9 L789.0,1661.9 L783.6,1656.5 L783.6,1644.5 Z" fill="#000000" stroke="#000" stroke-width="1.1" stroke-linejoin="round"/>
<path d="M798.8,1645.5 l5,5 l-5,5 l-5,-5 Z" fill="#ff2020"/>
<circle cx="796.8" cy="1651.5" r="5.3" fill="url(#csph)"/>
<path d="M769.8,1362.0 L823.8,1362.0 L846.8,1376.5 L860.8,1399.5 L866.8,1424.5 L860.8,1449.5 L846.8,1472.5 L823.8,1487.0 L769.8,1487.0 L746.8,1472.5 L732.8,1449.5 L726.8,1424.5 L732.8,1399.5 L746.8,1376.5 Z" fill="#18ffd8" stroke="#000" stroke-width="1.3" stroke-linejoin="round" stroke-dasharray="5 1.8"/>
<path d="M774.8,1367.9 L818.8,1367.9 L838.8,1390.5 L852.3,1424.5 L838.8,1458.5 L818.8,1481.1 L774.8,1481.1 L754.8,1458.5 L741.3,1424.5 L754.8,1390.5 Z" fill="url(#chalo)" stroke="#000" stroke-width="1.3" stroke-linejoin="round" stroke-dasharray="5 1.8"/>
<g transform="translate(796.8 1424.5) rotate(0)"><path d="M-17.5,-49.0 Q0,-42.0 17.5,-49.0 Q20.0,-43.0 15.0,-35.0 Q0,-27.5 -15.0,-35.0 Q-20.0,-43.0 -17.5,-49.0 Z" fill="#20b8f8" stroke="#000" stroke-width="1.2" stroke-dasharray="5 1.5"/></g>
<g transform="translate(796.8 1424.5) rotate(180)"><path d="M-17.5,-49.0 Q0,-42.0 17.5,-49.0 Q20.0,-43.0 15.0,-35.0 Q0,-27.5 -15.0,-35.0 Q-20.0,-43.0 -17.5,-49.0 Z" fill="#20b8f8" stroke="#000" stroke-width="1.2" stroke-dasharray="5 1.5"/></g>
<path d="M780.8,1397.5 L762.8,1398.5 L768.8,1414.5 L768.8,1436.5 L762.8,1451.5 L780.8,1451.5 L780.8,1424.5 Z" fill="#20fce0" stroke="#000" stroke-width="1.2" stroke-linejoin="round" stroke-dasharray="5 1.8"/>
<path d="M812.8,1397.5 L830.8,1398.5 L824.8,1414.5 L824.8,1436.5 L830.8,1451.5 L812.8,1451.5 L812.8,1424.5 Z" fill="#20fce0" stroke="#000" stroke-width="1.2" stroke-linejoin="round" stroke-dasharray="5 1.8"/>
<path d="M779.9,1399.8 L813.7,1399.8 L825.4,1411.5 L825.4,1437.5 L813.7,1449.2 L779.9,1449.2 L768.2,1437.5 L768.2,1411.5 Z" fill="#28c8ff" stroke="#000" stroke-width="1.1" stroke-linejoin="round"/>
<path d="M782.5,1403.6 L811.1,1403.6 L821.0,1413.5 L821.0,1435.5 L811.1,1445.4 L782.5,1445.4 L772.6,1435.5 L772.6,1413.5 Z" fill="#2080ff" stroke="#000" stroke-width="1.1" stroke-linejoin="round"/>
<path d="M784.8,1406.9 L808.8,1406.9 L817.1,1415.2 L817.1,1433.8 L808.8,1442.1 L784.8,1442.1 L776.4,1433.8 L776.4,1415.2 Z" fill="#1830f0" stroke="#000" stroke-width="1.1" stroke-linejoin="round"/>
<path d="M787.0,1410.2 L806.5,1410.2 L813.3,1417.0 L813.3,1432.0 L806.5,1438.8 L787.0,1438.8 L780.3,1432.0 L780.3,1417.0 Z" fill="#0808c0" stroke="#000" stroke-width="1.1" stroke-linejoin="round"/>
<path d="M789.0,1413.1 L804.6,1413.1 L810.0,1418.5 L810.0,1430.5 L804.6,1435.9 L789.0,1435.9 L783.6,1430.5 L783.6,1418.5 Z" fill="#000000" stroke="#000" stroke-width="1.1" stroke-linejoin="round"/>
<path d="M798.8,1419.5 l5,5 l-5,5 l-5,-5 Z" fill="#ff2020"/>
<circle cx="796.8" cy="1425.5" r="5.3" fill="url(#csph)"/>
<g transform="rotate(0 796.8 1312.4)">
<ellipse cx="799.8" cy="1279.4" rx="33.0" ry="19.0" fill="#30ff40" stroke="#000" stroke-width="1.4"/>
<ellipse cx="799.8" cy="1280.9" rx="27.4" ry="15.8" fill="#70ff00" stroke="#000" stroke-width="1.4"/>
<ellipse cx="799.8" cy="1282.4" rx="21.8" ry="12.5" fill="#b8e800" stroke="#000" stroke-width="1.4"/>
<ellipse cx="799.8" cy="1283.9" rx="16.2" ry="9.3" fill="#e8a000" stroke="#000" stroke-width="1.4"/>
<ellipse cx="799.8" cy="1274.4" rx="50" ry="3.5" fill="#28ff50" stroke="#000" stroke-width="1.2" stroke-dasharray="5 1.8"/>
<ellipse cx="799.8" cy="1345.4" rx="33.0" ry="19.0" fill="#30ff40" stroke="#000" stroke-width="1.4"/>
<ellipse cx="799.8" cy="1343.9" rx="27.4" ry="15.8" fill="#70ff00" stroke="#000" stroke-width="1.4"/>
<ellipse cx="799.8" cy="1342.4" rx="21.8" ry="12.5" fill="#b8e800" stroke="#000" stroke-width="1.4"/>
<ellipse cx="799.8" cy="1340.9" rx="16.2" ry="9.3" fill="#e8a000" stroke="#000" stroke-width="1.4"/>
<ellipse cx="799.8" cy="1350.4" rx="50" ry="3.5" fill="#28ff50" stroke="#000" stroke-width="1.2" stroke-dasharray="5 1.8"/>
<circle cx="817.8" cy="1312.4" r="30.0" fill="#10f0d0" stroke="#000" stroke-width="1.4"/>
<circle cx="775.8" cy="1312.4" r="30.0" fill="#10f0d0" stroke="#000" stroke-width="1.4"/>
<circle cx="817.3" cy="1312.4" r="25.8" fill="#00e0ff" stroke="#000" stroke-width="1.4"/>
<circle cx="776.3" cy="1312.4" r="25.8" fill="#00e0ff" stroke="#000" stroke-width="1.4"/>
<circle cx="816.8" cy="1312.4" r="22.2" fill="#30a8ff" stroke="#000" stroke-width="1.4"/>
<circle cx="776.8" cy="1312.4" r="22.2" fill="#30a8ff" stroke="#000" stroke-width="1.4"/>
<circle cx="816.3" cy="1312.4" r="19.2" fill="#2868ff" stroke="#000" stroke-width="1.4"/>
<circle cx="777.3" cy="1312.4" r="19.2" fill="#2868ff" stroke="#000" stroke-width="1.4"/>
<circle cx="815.8" cy="1312.4" r="16.5" fill="#2030e0" stroke="#000" stroke-width="1.4"/>
<circle cx="777.8" cy="1312.4" r="16.5" fill="#2030e0" stroke="#000" stroke-width="1.4"/>
<circle cx="815.3" cy="1312.4" r="14.1" fill="#1818b0" stroke="#000" stroke-width="1.4"/>
<circle cx="778.3" cy="1312.4" r="14.1" fill="#1818b0" stroke="#000" stroke-width="1.4"/>
<circle cx="814.8" cy="1312.4" r="12.0" fill="#300090" stroke="#000" stroke-width="1.4"/>
<circle cx="778.8" cy="1312.4" r="12.0" fill="#300090" stroke="#000" stroke-width="1.4"/>
<ellipse cx="798.8" cy="1313.4" rx="22.0" ry="36.0" fill="#000"/>
<ellipse cx="800.8" cy="1292.4" rx="10.8" ry="15.5" fill="#ff1800"/>
<ellipse cx="800.8" cy="1334.4" rx="10.8" ry="15.5" fill="#ff1800"/>
<rect x="796.3" y="1297.4" width="9" height="30" fill="#ff4000"/>
<ellipse cx="784.8" cy="1314.4" rx="5.0" ry="12.0" fill="#3010c0"/>
<ellipse cx="814.8" cy="1314.4" rx="5.0" ry="12.0" fill="#3010c0"/>
</g>
<circle cx="796.8" cy="1312.4" r="6.0" fill="url(#redsph)"/>
<g transform="rotate(0 796.8 1536.7)">
<ellipse cx="799.8" cy="1503.7" rx="33.0" ry="19.0" fill="#30ff40" stroke="#000" stroke-width="1.4"/>
<ellipse cx="799.8" cy="1505.2" rx="27.4" ry="15.8" fill="#70ff00" stroke="#000" stroke-width="1.4"/>
<ellipse cx="799.8" cy="1506.7" rx="21.8" ry="12.5" fill="#b8e800" stroke="#000" stroke-width="1.4"/>
<ellipse cx="799.8" cy="1508.2" rx="16.2" ry="9.3" fill="#e8a000" stroke="#000" stroke-width="1.4"/>
<ellipse cx="799.8" cy="1498.7" rx="50" ry="3.5" fill="#28ff50" stroke="#000" stroke-width="1.2" stroke-dasharray="5 1.8"/>
<ellipse cx="799.8" cy="1569.7" rx="33.0" ry="19.0" fill="#30ff40" stroke="#000" stroke-width="1.4"/>
<ellipse cx="799.8" cy="1568.2" rx="27.4" ry="15.8" fill="#70ff00" stroke="#000" stroke-width="1.4"/>
<ellipse cx="799.8" cy="1566.7" rx="21.8" ry="12.5" fill="#b8e800" stroke="#000" stroke-width="1.4"/>
<ellipse cx="799.8" cy="1565.2" rx="16.2" ry="9.3" fill="#e8a000" stroke="#000" stroke-width="1.4"/>
<ellipse cx="799.8" cy="1574.7" rx="50" ry="3.5" fill="#28ff50" stroke="#000" stroke-width="1.2" stroke-dasharray="5 1.8"/>
<circle cx="817.8" cy="1536.7" r="30.0" fill="#10f0d0" stroke="#000" stroke-width="1.4"/>
<circle cx="775.8" cy="1536.7" r="30.0" fill="#10f0d0" stroke="#000" stroke-width="1.4"/>
<circle cx="817.3" cy="1536.7" r="25.8" fill="#00e0ff" stroke="#000" stroke-width="1.4"/>
<circle cx="776.3" cy="1536.7" r="25.8" fill="#00e0ff" stroke="#000" stroke-width="1.4"/>
<circle cx="816.8" cy="1536.7" r="22.2" fill="#30a8ff" stroke="#000" stroke-width="1.4"/>
<circle cx="776.8" cy="1536.7" r="22.2" fill="#30a8ff" stroke="#000" stroke-width="1.4"/>
<circle cx="816.3" cy="1536.7" r="19.2" fill="#2868ff" stroke="#000" stroke-width="1.4"/>
<circle cx="777.3" cy="1536.7" r="19.2" fill="#2868ff" stroke="#000" stroke-width="1.4"/>
<circle cx="815.8" cy="1536.7" r="16.5" fill="#2030e0" stroke="#000" stroke-width="1.4"/>
<circle cx="777.8" cy="1536.7" r="16.5" fill="#2030e0" stroke="#000" stroke-width="1.4"/>
<circle cx="815.3" cy="1536.7" r="14.1" fill="#1818b0" stroke="#000" stroke-width="1.4"/>
<circle cx="778.3" cy="1536.7" r="14.1" fill="#1818b0" stroke="#000" stroke-width="1.4"/>
<circle cx="814.8" cy="1536.7" r="12.0" fill="#300090" stroke="#000" stroke-width="1.4"/>
<circle cx="778.8" cy="1536.7" r="12.0" fill="#300090" stroke="#000" stroke-width="1.4"/>
<ellipse cx="798.8" cy="1537.7" rx="22.0" ry="36.0" fill="#000"/>
<ellipse cx="800.8" cy="1516.7" rx="10.8" ry="15.5" fill="#ff1800"/>
<ellipse cx="800.8" cy="1558.7" rx="10.8" ry="15.5" fill="#ff1800"/>
<rect x="796.3" y="1521.7" width="9" height="30" fill="#ff4000"/>
<ellipse cx="784.8" cy="1538.7" rx="5.0" ry="12.0" fill="#3010c0"/>
<ellipse cx="814.8" cy="1538.7" rx="5.0" ry="12.0" fill="#3010c0"/>
</g>
<circle cx="796.8" cy="1536.7" r="6.0" fill="url(#redsph)"/>
</g>
<text x="630.0" y="1287.0" font-size="28">Zn</text>
<text x="815.2" y="1284.8" font-size="28">Ni</text>
<text x="938.3" y="1287.0" font-size="28">Zn</text>
<text x="628.9" y="1506.8" font-size="28">Zn</text>
<text x="815.2" y="1509.0" font-size="28">Ni</text>
<text x="934.8" y="1506.8" font-size="28">Zn</text>
<text x="814.0" y="1411.3" font-size="30">C</text>
<text x="896" y="1598" font-size="34">[110]</text>
<rect x="32" y="975.6" width="19.6" height="628" fill="url(#cbar)" stroke="#000" stroke-width="1.6"/>
<line x1="51" y1="975.8" x2="63.5" y2="975.8" stroke="#000" stroke-width="1.6"/>
<line x1="51" y1="1065.5" x2="63.5" y2="1065.5" stroke="#000" stroke-width="1.6"/>
<line x1="51" y1="1155.1" x2="63.5" y2="1155.1" stroke="#000" stroke-width="1.6"/>
<line x1="51" y1="1244.8" x2="63.5" y2="1244.8" stroke="#000" stroke-width="1.6"/>
<line x1="51" y1="1334.5" x2="63.5" y2="1334.5" stroke="#000" stroke-width="1.6"/>
<line x1="51" y1="1424.2" x2="63.5" y2="1424.2" stroke="#000" stroke-width="1.6"/>
<line x1="51" y1="1513.8" x2="63.5" y2="1513.8" stroke="#000" stroke-width="1.6"/>
<line x1="51" y1="1603.5" x2="63.5" y2="1603.5" stroke="#000" stroke-width="1.6"/>
<text x="62.0" y="1031.3" font-size="30">-0.3</text>
<text x="62.0" y="1121.2" font-size="30">-0.2</text>
<text x="62.0" y="1211.1" font-size="30">-0.1</text>
<text x="92.0" y="1301.0" font-size="30">0</text>
<text x="62.5" y="1390.9" font-size="30">+0.1</text>
<text x="62.5" y="1480.8" font-size="30">+0.2</text>
<text x="62.5" y="1570.7" font-size="30">+0.3</text>
<text x="20.5" y="1657" font-size="36.5">Charge transfer</text>
<text x="157.5" y="1209.0" font-size="36" text-anchor="start" ><tspan>Ni</tspan><tspan font-size="25" dy="9">3</tspan><tspan dy="-9">Zn</tspan></text>
<text x="318.5" y="1211" font-size="36.5">Carbon incorporation</text>
<text x="790.0" y="1215.0" font-size="36" text-anchor="start" ><tspan>Ni</tspan><tspan font-size="25" dy="9">3</tspan><tspan dy="-9">ZnC</tspan><tspan font-size="25" dy="9">0.7</tspan></text>
<rect x="536.7" y="957.8" width="43" height="3.9" fill="#000"/>
<path d="M579.2,951.5 L595.5,959.7 L579.2,967.9 Z" fill="#000"/>
<rect x="536.7" y="1424.2" width="43" height="3.9" fill="#000"/>
<path d="M579.2,1418.0 L595.5,1426.2 L579.2,1434.4 Z" fill="#000"/>
<text x="1047" y="829" font-size="36" font-weight="bold">d</text>
<rect x="1160.6" y="844" width="8.1" height="711.8" fill="#000"/>
<path d="M1164.6,820.8 L1177.1,845.5 L1152.1,845.5 Z" fill="#000"/>
<rect x="1160.6" y="1547.5" width="760" height="8.3" fill="#000"/>
<path d="M1942.6,1551.6 L1918,1563.9 L1918,1539.3 Z" fill="#000"/>
<text transform="translate(1114.5,1264) rotate(-90)" font-size="36.7" text-anchor="middle">Ni valance charge (e)</text>
<line x1="1249.9" y1="913.4" x2="1352.9" y2="881.3" stroke="#ffff8c" stroke-width="3.3"/>
<line x1="1352.9" y1="881.3" x2="1503.2" y2="900.0" stroke="#ffff8c" stroke-width="3.3"/>
<line x1="1503.2" y1="900.0" x2="1400.3" y2="931.7" stroke="#ffff8c" stroke-width="3.3"/>
<line x1="1400.3" y1="931.7" x2="1249.9" y2="913.4" stroke="#ffff8c" stroke-width="3.3"/>
<line x1="1252.7" y1="1094.1" x2="1356.0" y2="1062.0" stroke="#ffff8c" stroke-width="3.3"/>
<line x1="1356.0" y1="1062.0" x2="1506.3" y2="1080.7" stroke="#ffff8c" stroke-width="3.3"/>
<line x1="1506.3" y1="1080.7" x2="1403.3" y2="1112.3" stroke="#ffff8c" stroke-width="3.3"/>
<line x1="1403.3" y1="1112.3" x2="1252.7" y2="1094.1" stroke="#ffff8c" stroke-width="3.3"/>
<line x1="1249.9" y1="913.4" x2="1252.7" y2="1094.1" stroke="#ffff8c" stroke-width="3.3"/>
<line x1="1352.9" y1="881.3" x2="1356.0" y2="1062.0" stroke="#ffff8c" stroke-width="3.3"/>
<line x1="1503.2" y1="900.0" x2="1506.3" y2="1080.7" stroke="#ffff8c" stroke-width="3.3"/>
<line x1="1400.3" y1="931.7" x2="1403.3" y2="1112.3" stroke="#ffff8c" stroke-width="3.3"/>
<circle cx="1249.9" cy="913.4" r="14.4" fill="url(#gZn)"/>
<circle cx="1352.9" cy="881.3" r="14.4" fill="url(#gZn)"/>
<circle cx="1503.2" cy="900.0" r="14.4" fill="url(#gZn)"/>
<circle cx="1400.3" cy="931.7" r="14.4" fill="url(#gZn)"/>
<circle cx="1252.7" cy="1094.1" r="14.4" fill="url(#gZn)"/>
<circle cx="1356.0" cy="1062.0" r="14.4" fill="url(#gZn)"/>
<circle cx="1506.3" cy="1080.7" r="14.4" fill="url(#gZn)"/>
<circle cx="1403.3" cy="1112.3" r="14.4" fill="url(#gZn)"/>
<circle cx="1376.4" cy="906.5" r="14.4" fill="url(#gNi)"/>
<circle cx="1303.0" cy="988.1" r="14.4" fill="url(#gNi)"/>
<circle cx="1326.3" cy="1013.3" r="14.4" fill="url(#gNi)"/>
<circle cx="1429.3" cy="981.2" r="14.4" fill="url(#gNi)"/>
<circle cx="1452.8" cy="1006.4" r="14.4" fill="url(#gNi)"/>
<circle cx="1379.5" cy="1087.1" r="14.4" fill="url(#gNi)"/>
<line x1="1624.4" y1="1255.4" x2="1727.4" y2="1223.3" stroke="#ffff8c" stroke-width="3.3"/>
<line x1="1727.4" y1="1223.3" x2="1877.7" y2="1242.0" stroke="#ffff8c" stroke-width="3.3"/>
<line x1="1877.7" y1="1242.0" x2="1774.8" y2="1273.7" stroke="#ffff8c" stroke-width="3.3"/>
<line x1="1774.8" y1="1273.7" x2="1624.4" y2="1255.4" stroke="#ffff8c" stroke-width="3.3"/>
<line x1="1627.2" y1="1436.1" x2="1730.5" y2="1404.0" stroke="#ffff8c" stroke-width="3.3"/>
<line x1="1730.5" y1="1404.0" x2="1880.8" y2="1422.7" stroke="#ffff8c" stroke-width="3.3"/>
<line x1="1880.8" y1="1422.7" x2="1777.8" y2="1454.3" stroke="#ffff8c" stroke-width="3.3"/>
<line x1="1777.8" y1="1454.3" x2="1627.2" y2="1436.1" stroke="#ffff8c" stroke-width="3.3"/>
<line x1="1624.4" y1="1255.4" x2="1627.2" y2="1436.1" stroke="#ffff8c" stroke-width="3.3"/>
<line x1="1727.4" y1="1223.3" x2="1730.5" y2="1404.0" stroke="#ffff8c" stroke-width="3.3"/>
<line x1="1877.7" y1="1242.0" x2="1880.8" y2="1422.7" stroke="#ffff8c" stroke-width="3.3"/>
<line x1="1774.8" y1="1273.7" x2="1777.8" y2="1454.3" stroke="#ffff8c" stroke-width="3.3"/>
<circle cx="1624.4" cy="1255.4" r="14.4" fill="url(#gZn)"/>
<circle cx="1727.4" cy="1223.3" r="14.4" fill="url(#gZn)"/>
<circle cx="1877.7" cy="1242.0" r="14.4" fill="url(#gZn)"/>
<circle cx="1774.8" cy="1273.7" r="14.4" fill="url(#gZn)"/>
<circle cx="1627.2" cy="1436.1" r="14.4" fill="url(#gZn)"/>
<circle cx="1730.5" cy="1404.0" r="14.4" fill="url(#gZn)"/>
<circle cx="1880.8" cy="1422.7" r="14.4" fill="url(#gZn)"/>
<circle cx="1777.8" cy="1454.3" r="14.4" fill="url(#gZn)"/>
<circle cx="1750.9" cy="1248.5" r="14.4" fill="url(#gNi)"/>
<circle cx="1677.5" cy="1330.1" r="14.4" fill="url(#gNi)"/>
<circle cx="1700.8" cy="1355.3" r="14.4" fill="url(#gNi)"/>
<circle cx="1803.8" cy="1323.2" r="14.4" fill="url(#gNi)"/>
<circle cx="1827.3" cy="1348.4" r="14.4" fill="url(#gNi)"/>
<circle cx="1754.0" cy="1429.1" r="14.4" fill="url(#gNi)"/>
<circle cx="1751.9" cy="1339.3" r="14.4" fill="url(#gC)"/>
<text x="1327.5" y="1187.5" font-size="36" text-anchor="start" ><tspan>Ni</tspan><tspan font-size="25" dy="9">3</tspan><tspan dy="-9">Zn</tspan></text>
<text x="1677.5" y="1518.5" font-size="36" text-anchor="start" ><tspan>Ni</tspan><tspan font-size="25" dy="9">3</tspan><tspan dy="-9">ZnC</tspan><tspan font-size="25" dy="9">0.7</tspan></text>
<text x="1794.7" y="935" font-size="36.7" text-anchor="middle">Carbon</text>
<text x="1794.5" y="978.4" font-size="36.7" text-anchor="middle">incorporation</text>
<path d="M1580,992.4 C1650,994 1702,1052 1684,1134" fill="none" stroke="#000" stroke-width="4"/>
<path d="M1679.6,1115 L1683,1137 L1700,1121" fill="none" stroke="#000" stroke-width="4" stroke-linejoin="miter"/>
<path d="M1664,1179 L1672.5,1157 L1681,1179 Z" fill="none" stroke="#000" stroke-width="2.4"/>
<text x="1693" y="1180" font-size="36">= -0.27 e</text>
<circle cx="1403.8" cy="1609.0" r="14.2" fill="url(#gNi)"/>
<circle cx="1580.1" cy="1610.5" r="14.4" fill="url(#gZn)"/>
<circle cx="1754.7" cy="1610.5" r="14.4" fill="url(#gC)"/>
<text x="1457" y="1620.7" font-size="35">Ni</text>
<text x="1634" y="1620.7" font-size="35">Zn</text>
<text x="1810" y="1620.7" font-size="35">C</text>
</svg>
</body></html>
